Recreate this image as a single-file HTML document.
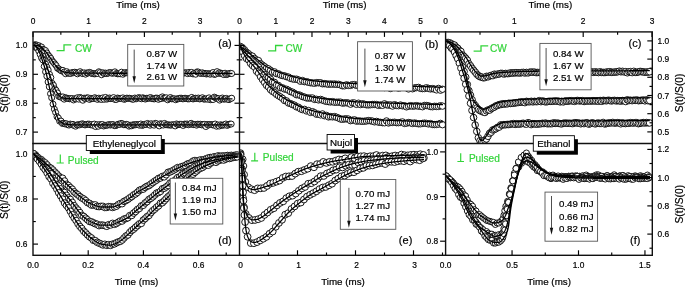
<!DOCTYPE html><html><head><meta charset="utf-8"><style>html,body{margin:0;padding:0;background:#fff;width:685px;height:287px;overflow:hidden}svg{display:block;filter:blur(0.35px)}</style></head><body><svg xmlns="http://www.w3.org/2000/svg" width="685" height="287" viewBox="0 0 685 287" font-family="Liberation Sans, sans-serif"><rect width="685" height="287" fill="#fff"/><defs><clipPath id="ca"><rect x="33.0" y="31.9" width="206.5" height="111.6"/></clipPath><clipPath id="cb"><rect x="239.5" y="31.9" width="206.10000000000002" height="111.6"/></clipPath><clipPath id="cc"><rect x="445.6" y="31.9" width="206.69999999999993" height="111.6"/></clipPath><clipPath id="cd"><rect x="33.0" y="143.5" width="206.5" height="111.80000000000001"/></clipPath><clipPath id="ce"><rect x="239.5" y="143.5" width="206.10000000000002" height="111.80000000000001"/></clipPath><clipPath id="cf"><rect x="445.6" y="143.5" width="206.69999999999993" height="111.80000000000001"/></clipPath></defs><g clip-path="url(#ca)" fill="#fff" stroke="#000" stroke-width="0.9"><circle cx="33.5" cy="45.52" r="3.0"/><circle cx="34.85" cy="44.77" r="3.0"/><circle cx="36.2" cy="44.83" r="3.0"/><circle cx="37.55" cy="46.71" r="3.0"/><circle cx="38.85" cy="45.71" r="3.0"/><circle cx="40.2" cy="46.97" r="3.0"/><circle cx="41.55" cy="47.01" r="3.0"/><circle cx="42.85" cy="49.29" r="3.0"/><circle cx="44.2" cy="49.79" r="3.0"/><circle cx="45.55" cy="50.62" r="3.0"/><circle cx="46.85" cy="52.95" r="3.0"/><circle cx="48.2" cy="55.11" r="3.0"/><circle cx="49.55" cy="56.68" r="3.0"/><circle cx="50.85" cy="58.44" r="3.0"/><circle cx="52.15" cy="60.9" r="3.0"/><circle cx="53.5" cy="62.39" r="3.0"/><circle cx="54.85" cy="63.98" r="3.0"/><circle cx="56.15" cy="65.6" r="3.0"/><circle cx="57.5" cy="68.23" r="3.0"/><circle cx="58.85" cy="68.86" r="3.0"/><circle cx="60.15" cy="70.08" r="3.0"/><circle cx="61.5" cy="70.9" r="3.0"/><circle cx="62.85" cy="70.38" r="3.0"/><circle cx="64.15" cy="72.03" r="3.0"/><circle cx="65.5" cy="73.71" r="3.0"/><circle cx="66.8" cy="71.68" r="3.0"/><circle cx="68.15" cy="73.12" r="3.0"/><circle cx="69.5" cy="73.34" r="3.0"/><circle cx="70.8" cy="73.43" r="3.0"/><circle cx="72.15" cy="72.53" r="3.0"/><circle cx="73.5" cy="72.69" r="3.0"/><circle cx="74.8" cy="72.2" r="3.0"/><circle cx="76.15" cy="72.9" r="3.0"/><circle cx="77.5" cy="73.85" r="3.0"/><circle cx="78.8" cy="72.51" r="3.0"/><circle cx="80.15" cy="71.68" r="3.0"/><circle cx="81.5" cy="73.02" r="3.0"/><circle cx="82.8" cy="73.58" r="3.0"/><circle cx="84.15" cy="72.84" r="3.0"/><circle cx="85.5" cy="74.18" r="3.0"/><circle cx="86.8" cy="72.91" r="3.0"/><circle cx="88.15" cy="73.04" r="3.0"/><circle cx="89.5" cy="72.36" r="3.0"/><circle cx="90.8" cy="72.83" r="3.0"/><circle cx="92.15" cy="73.61" r="3.0"/><circle cx="93.5" cy="73.63" r="3.0"/><circle cx="94.8" cy="73.9" r="3.0"/><circle cx="96.15" cy="73.58" r="3.0"/><circle cx="97.5" cy="73.42" r="3.0"/><circle cx="98.85" cy="71.76" r="3.0"/><circle cx="100.2" cy="72.56" r="3.0"/><circle cx="101.55" cy="74.76" r="3.0"/><circle cx="102.85" cy="72.76" r="3.0"/><circle cx="104.2" cy="73.55" r="3.0"/><circle cx="105.55" cy="73.06" r="3.0"/><circle cx="106.85" cy="73.57" r="3.0"/><circle cx="108.2" cy="73.16" r="3.0"/><circle cx="109.55" cy="72.48" r="3.0"/><circle cx="110.85" cy="72.62" r="3.0"/><circle cx="112.2" cy="73.36" r="3.0"/><circle cx="113.55" cy="72.81" r="3.0"/><circle cx="114.9" cy="71.83" r="3.0"/><circle cx="116.25" cy="73.49" r="3.0"/><circle cx="117.55" cy="73.83" r="3.0"/><circle cx="118.9" cy="73.77" r="3.0"/><circle cx="120.25" cy="73.79" r="3.0"/><circle cx="121.55" cy="72.17" r="3.0"/><circle cx="122.9" cy="74.25" r="3.0"/><circle cx="124.25" cy="73.06" r="3.0"/><circle cx="125.55" cy="72.57" r="3.0"/><circle cx="126.9" cy="72.87" r="3.0"/><circle cx="128.25" cy="72.7" r="3.0"/><circle cx="129.55" cy="72.36" r="3.0"/><circle cx="130.85" cy="73.15" r="3.0"/><circle cx="132.2" cy="73.27" r="3.0"/><circle cx="133.5" cy="73.04" r="3.0"/><circle cx="134.8" cy="73.27" r="3.0"/><circle cx="136.1" cy="73.06" r="3.0"/><circle cx="137.45" cy="72.71" r="3.0"/><circle cx="138.75" cy="72.8" r="3.0"/><circle cx="140.05" cy="73.51" r="3.0"/><circle cx="141.35" cy="72.26" r="3.0"/><circle cx="142.7" cy="72.84" r="3.0"/><circle cx="144" cy="73.8" r="3.0"/><circle cx="145.3" cy="73.34" r="3.0"/><circle cx="146.6" cy="73.61" r="3.0"/><circle cx="147.95" cy="73.19" r="3.0"/><circle cx="149.25" cy="72.45" r="3.0"/><circle cx="150.55" cy="72.95" r="3.0"/><circle cx="151.85" cy="73.28" r="3.0"/><circle cx="153.2" cy="72.95" r="3.0"/><circle cx="154.5" cy="73.1" r="3.0"/><circle cx="155.8" cy="73.33" r="3.0"/><circle cx="157.1" cy="73.8" r="3.0"/><circle cx="158.45" cy="72.93" r="3.0"/><circle cx="159.75" cy="73.99" r="3.0"/><circle cx="161.05" cy="73.23" r="3.0"/><circle cx="162.4" cy="73.88" r="3.0"/><circle cx="163.7" cy="73.98" r="3.0"/><circle cx="165.05" cy="74.4" r="3.0"/><circle cx="166.4" cy="73.95" r="3.0"/><circle cx="167.7" cy="73.96" r="3.0"/><circle cx="169.05" cy="74.39" r="3.0"/><circle cx="170.4" cy="72.17" r="3.0"/><circle cx="171.7" cy="72.65" r="3.0"/><circle cx="173.05" cy="73.95" r="3.0"/><circle cx="174.4" cy="71.89" r="3.0"/><circle cx="175.7" cy="73.4" r="3.0"/><circle cx="177.05" cy="73.4" r="3.0"/><circle cx="178.4" cy="72.32" r="3.0"/><circle cx="179.7" cy="72.7" r="3.0"/><circle cx="181.05" cy="73.74" r="3.0"/><circle cx="182.4" cy="73.67" r="3.0"/><circle cx="183.7" cy="72.93" r="3.0"/><circle cx="185.05" cy="72.77" r="3.0"/><circle cx="186.4" cy="72.85" r="3.0"/><circle cx="187.7" cy="73.64" r="3.0"/><circle cx="189.05" cy="72.43" r="3.0"/><circle cx="190.35" cy="73.34" r="3.0"/><circle cx="191.7" cy="72.39" r="3.0"/><circle cx="193.05" cy="73.93" r="3.0"/><circle cx="194.35" cy="73.47" r="3.0"/><circle cx="195.7" cy="74.23" r="3.0"/><circle cx="197.05" cy="71.88" r="3.0"/><circle cx="198.35" cy="72.05" r="3.0"/><circle cx="199.7" cy="73.06" r="3.0"/><circle cx="201.05" cy="73.46" r="3.0"/><circle cx="202.35" cy="72.78" r="3.0"/><circle cx="203.7" cy="73.55" r="3.0"/><circle cx="205.05" cy="73.4" r="3.0"/><circle cx="206.35" cy="74.01" r="3.0"/><circle cx="207.7" cy="73.6" r="3.0"/><circle cx="209.05" cy="73.81" r="3.0"/><circle cx="210.35" cy="74.22" r="3.0"/><circle cx="211.7" cy="73.36" r="3.0"/><circle cx="213.05" cy="72.53" r="3.0"/><circle cx="214.35" cy="74.48" r="3.0"/><circle cx="215.7" cy="74" r="3.0"/><circle cx="217.05" cy="71.63" r="3.0"/><circle cx="218.35" cy="73.42" r="3.0"/><circle cx="219.7" cy="72.71" r="3.0"/><circle cx="221.05" cy="73.35" r="3.0"/><circle cx="222.35" cy="73.71" r="3.0"/><circle cx="223.7" cy="74.55" r="3.0"/><circle cx="225.05" cy="73.21" r="3.0"/><circle cx="226.35" cy="74.58" r="3.0"/><circle cx="227.7" cy="74.12" r="3.0"/><circle cx="229.05" cy="73.56" r="3.0"/><circle cx="230.35" cy="73.31" r="3.0"/><circle cx="231.7" cy="73.53" r="3.0"/></g><g clip-path="url(#ca)" fill="#fff" stroke="#000" stroke-width="0.9"><circle cx="33.5" cy="45.78" r="3.0"/><circle cx="34.85" cy="45.43" r="3.0"/><circle cx="36.2" cy="47.67" r="3.0"/><circle cx="37.55" cy="47.65" r="3.0"/><circle cx="38.85" cy="48.15" r="3.0"/><circle cx="40.2" cy="51.3" r="3.0"/><circle cx="41.55" cy="52.72" r="3.0"/><circle cx="42.85" cy="56.16" r="3.0"/><circle cx="44.2" cy="59.83" r="3.0"/><circle cx="45.55" cy="64.08" r="3.0"/><circle cx="46.85" cy="67.1" r="3.0"/><circle cx="48.2" cy="70.01" r="3.0"/><circle cx="49.55" cy="74.35" r="3.0"/><circle cx="50.85" cy="77.55" r="3.0"/><circle cx="52.15" cy="83.3" r="3.0"/><circle cx="53.5" cy="85.32" r="3.0"/><circle cx="54.85" cy="88.89" r="3.0"/><circle cx="56.15" cy="90.45" r="3.0"/><circle cx="57.5" cy="92.93" r="3.0"/><circle cx="58.85" cy="96.42" r="3.0"/><circle cx="60.15" cy="96.92" r="3.0"/><circle cx="61.5" cy="97.27" r="3.0"/><circle cx="62.85" cy="96.89" r="3.0"/><circle cx="64.15" cy="99.18" r="3.0"/><circle cx="65.5" cy="97.73" r="3.0"/><circle cx="66.8" cy="98.19" r="3.0"/><circle cx="68.15" cy="98.46" r="3.0"/><circle cx="69.5" cy="98.82" r="3.0"/><circle cx="70.8" cy="98.6" r="3.0"/><circle cx="72.15" cy="98.58" r="3.0"/><circle cx="73.5" cy="99.96" r="3.0"/><circle cx="74.8" cy="98.69" r="3.0"/><circle cx="76.15" cy="98.93" r="3.0"/><circle cx="77.5" cy="97.68" r="3.0"/><circle cx="78.8" cy="99.17" r="3.0"/><circle cx="80.15" cy="97.48" r="3.0"/><circle cx="81.5" cy="98.21" r="3.0"/><circle cx="82.8" cy="100.26" r="3.0"/><circle cx="84.15" cy="98.14" r="3.0"/><circle cx="85.5" cy="98.65" r="3.0"/><circle cx="86.8" cy="97.89" r="3.0"/><circle cx="88.15" cy="97.89" r="3.0"/><circle cx="89.5" cy="99.44" r="3.0"/><circle cx="90.8" cy="98.37" r="3.0"/><circle cx="92.15" cy="98.61" r="3.0"/><circle cx="93.5" cy="98.47" r="3.0"/><circle cx="94.8" cy="97.7" r="3.0"/><circle cx="96.15" cy="98.58" r="3.0"/><circle cx="97.5" cy="99.42" r="3.0"/><circle cx="98.85" cy="98.17" r="3.0"/><circle cx="100.2" cy="99" r="3.0"/><circle cx="101.55" cy="99.45" r="3.0"/><circle cx="102.85" cy="97.88" r="3.0"/><circle cx="104.2" cy="99.3" r="3.0"/><circle cx="105.55" cy="97.41" r="3.0"/><circle cx="106.85" cy="99.16" r="3.0"/><circle cx="108.2" cy="98.47" r="3.0"/><circle cx="109.55" cy="97.96" r="3.0"/><circle cx="110.85" cy="98.62" r="3.0"/><circle cx="112.2" cy="98.3" r="3.0"/><circle cx="113.55" cy="97.58" r="3.0"/><circle cx="114.9" cy="99.44" r="3.0"/><circle cx="116.25" cy="99.51" r="3.0"/><circle cx="117.55" cy="98.03" r="3.0"/><circle cx="118.9" cy="98.44" r="3.0"/><circle cx="120.25" cy="98.39" r="3.0"/><circle cx="121.55" cy="98.56" r="3.0"/><circle cx="122.9" cy="97.87" r="3.0"/><circle cx="124.25" cy="99.39" r="3.0"/><circle cx="125.55" cy="98.78" r="3.0"/><circle cx="126.9" cy="98.1" r="3.0"/><circle cx="128.25" cy="98.42" r="3.0"/><circle cx="129.55" cy="98.24" r="3.0"/><circle cx="130.85" cy="98.63" r="3.0"/><circle cx="132.2" cy="99.2" r="3.0"/><circle cx="133.5" cy="99.22" r="3.0"/><circle cx="134.8" cy="98.04" r="3.0"/><circle cx="136.1" cy="98.83" r="3.0"/><circle cx="137.45" cy="98.17" r="3.0"/><circle cx="138.75" cy="97.6" r="3.0"/><circle cx="140.05" cy="98.05" r="3.0"/><circle cx="141.35" cy="98.77" r="3.0"/><circle cx="142.7" cy="97.74" r="3.0"/><circle cx="144" cy="98.29" r="3.0"/><circle cx="145.3" cy="99.08" r="3.0"/><circle cx="146.6" cy="98.31" r="3.0"/><circle cx="147.95" cy="98.29" r="3.0"/><circle cx="149.25" cy="98.14" r="3.0"/><circle cx="150.55" cy="97.54" r="3.0"/><circle cx="151.85" cy="98.6" r="3.0"/><circle cx="153.2" cy="98.81" r="3.0"/><circle cx="154.5" cy="98.86" r="3.0"/><circle cx="155.8" cy="98.1" r="3.0"/><circle cx="157.1" cy="98.13" r="3.0"/><circle cx="158.45" cy="99.36" r="3.0"/><circle cx="159.75" cy="98.16" r="3.0"/><circle cx="161.05" cy="98.59" r="3.0"/><circle cx="162.4" cy="96.87" r="3.0"/><circle cx="163.7" cy="98.09" r="3.0"/><circle cx="165.05" cy="98.09" r="3.0"/><circle cx="166.4" cy="97.79" r="3.0"/><circle cx="167.7" cy="99.82" r="3.0"/><circle cx="169.05" cy="98.57" r="3.0"/><circle cx="170.4" cy="97.53" r="3.0"/><circle cx="171.7" cy="98.83" r="3.0"/><circle cx="173.05" cy="98.79" r="3.0"/><circle cx="174.4" cy="98.81" r="3.0"/><circle cx="175.7" cy="99.76" r="3.0"/><circle cx="177.05" cy="98.77" r="3.0"/><circle cx="178.4" cy="98.82" r="3.0"/><circle cx="179.7" cy="98.34" r="3.0"/><circle cx="181.05" cy="98.14" r="3.0"/><circle cx="182.4" cy="98.79" r="3.0"/><circle cx="183.7" cy="98.74" r="3.0"/><circle cx="185.05" cy="98.21" r="3.0"/><circle cx="186.4" cy="98.49" r="3.0"/><circle cx="187.7" cy="98.87" r="3.0"/><circle cx="189.05" cy="98.92" r="3.0"/><circle cx="190.35" cy="98.44" r="3.0"/><circle cx="191.7" cy="97.42" r="3.0"/><circle cx="193.05" cy="98.98" r="3.0"/><circle cx="194.35" cy="98.58" r="3.0"/><circle cx="195.7" cy="98.2" r="3.0"/><circle cx="197.05" cy="98.49" r="3.0"/><circle cx="198.35" cy="98.04" r="3.0"/><circle cx="199.7" cy="98.98" r="3.0"/><circle cx="201.05" cy="98.58" r="3.0"/><circle cx="202.35" cy="97.72" r="3.0"/><circle cx="203.7" cy="99.06" r="3.0"/><circle cx="205.05" cy="99.16" r="3.0"/><circle cx="206.35" cy="98.71" r="3.0"/><circle cx="207.7" cy="99.19" r="3.0"/><circle cx="209.05" cy="97.83" r="3.0"/><circle cx="210.35" cy="99.71" r="3.0"/><circle cx="211.7" cy="99.06" r="3.0"/><circle cx="213.05" cy="99.55" r="3.0"/><circle cx="214.35" cy="97.12" r="3.0"/><circle cx="215.7" cy="97.85" r="3.0"/><circle cx="217.05" cy="98.45" r="3.0"/><circle cx="218.35" cy="98.64" r="3.0"/><circle cx="219.7" cy="100.12" r="3.0"/><circle cx="221.05" cy="98.82" r="3.0"/><circle cx="222.35" cy="98.01" r="3.0"/><circle cx="223.7" cy="99.2" r="3.0"/><circle cx="225.05" cy="98.98" r="3.0"/><circle cx="226.35" cy="98.36" r="3.0"/><circle cx="227.7" cy="99.41" r="3.0"/><circle cx="229.05" cy="99.65" r="3.0"/><circle cx="230.35" cy="98.68" r="3.0"/><circle cx="231.7" cy="98.2" r="3.0"/></g><g clip-path="url(#ca)" fill="#fff" stroke="#000" stroke-width="0.9"><circle cx="33.5" cy="45.77" r="3.0"/><circle cx="34.85" cy="46.14" r="3.0"/><circle cx="36.2" cy="46.79" r="3.0"/><circle cx="37.55" cy="48.4" r="3.0"/><circle cx="38.85" cy="51.11" r="3.0"/><circle cx="40.2" cy="54.48" r="3.0"/><circle cx="41.55" cy="57.97" r="3.0"/><circle cx="42.85" cy="59.9" r="3.0"/><circle cx="44.2" cy="66.4" r="3.0"/><circle cx="45.55" cy="71.87" r="3.0"/><circle cx="46.85" cy="76.18" r="3.0"/><circle cx="48.1" cy="81.99" r="3.0"/><circle cx="49.3" cy="86.85" r="3.0"/><circle cx="50.5" cy="93.74" r="3.0"/><circle cx="51.7" cy="97.82" r="3.0"/><circle cx="53" cy="104.15" r="3.0"/><circle cx="54.35" cy="109.2" r="3.0"/><circle cx="55.65" cy="112.47" r="3.0"/><circle cx="57" cy="116.74" r="3.0"/><circle cx="58.35" cy="118.01" r="3.0"/><circle cx="59.65" cy="121.19" r="3.0"/><circle cx="61" cy="121.05" r="3.0"/><circle cx="62.35" cy="123.41" r="3.0"/><circle cx="63.65" cy="123.38" r="3.0"/><circle cx="65" cy="123.93" r="3.0"/><circle cx="66.3" cy="123.66" r="3.0"/><circle cx="67.65" cy="124.61" r="3.0"/><circle cx="69" cy="125.08" r="3.0"/><circle cx="70.3" cy="124.07" r="3.0"/><circle cx="71.65" cy="124.53" r="3.0"/><circle cx="73" cy="124.36" r="3.0"/><circle cx="74.3" cy="125.65" r="3.0"/><circle cx="75.65" cy="126.2" r="3.0"/><circle cx="77" cy="124.95" r="3.0"/><circle cx="78.3" cy="124.71" r="3.0"/><circle cx="79.65" cy="124.88" r="3.0"/><circle cx="81" cy="124.22" r="3.0"/><circle cx="82.3" cy="123.79" r="3.0"/><circle cx="83.65" cy="124.27" r="3.0"/><circle cx="85" cy="124.95" r="3.0"/><circle cx="86.3" cy="124.57" r="3.0"/><circle cx="87.65" cy="124.18" r="3.0"/><circle cx="89" cy="124.08" r="3.0"/><circle cx="90.3" cy="124.78" r="3.0"/><circle cx="91.65" cy="124.55" r="3.0"/><circle cx="93" cy="125.29" r="3.0"/><circle cx="94.3" cy="124.07" r="3.0"/><circle cx="95.65" cy="126.57" r="3.0"/><circle cx="97" cy="124.72" r="3.0"/><circle cx="98.35" cy="126.24" r="3.0"/><circle cx="99.7" cy="124.54" r="3.0"/><circle cx="101.05" cy="125.15" r="3.0"/><circle cx="102.35" cy="124.44" r="3.0"/><circle cx="103.7" cy="126" r="3.0"/><circle cx="105.05" cy="125.28" r="3.0"/><circle cx="106.35" cy="125.25" r="3.0"/><circle cx="107.7" cy="125.1" r="3.0"/><circle cx="109.05" cy="124.56" r="3.0"/><circle cx="110.35" cy="125.06" r="3.0"/><circle cx="111.7" cy="124.57" r="3.0"/><circle cx="113.05" cy="124.56" r="3.0"/><circle cx="114.4" cy="125.65" r="3.0"/><circle cx="115.75" cy="125.58" r="3.0"/><circle cx="117.05" cy="124.82" r="3.0"/><circle cx="118.4" cy="124.17" r="3.0"/><circle cx="119.75" cy="124.45" r="3.0"/><circle cx="121.05" cy="123.4" r="3.0"/><circle cx="122.4" cy="123.74" r="3.0"/><circle cx="123.75" cy="124.72" r="3.0"/><circle cx="125.05" cy="124.75" r="3.0"/><circle cx="126.4" cy="124.37" r="3.0"/><circle cx="127.75" cy="124.78" r="3.0"/><circle cx="129.05" cy="126.19" r="3.0"/><circle cx="130.35" cy="125.29" r="3.0"/><circle cx="131.7" cy="125.81" r="3.0"/><circle cx="133" cy="124.75" r="3.0"/><circle cx="134.3" cy="124.86" r="3.0"/><circle cx="135.6" cy="124.74" r="3.0"/><circle cx="136.95" cy="124.54" r="3.0"/><circle cx="138.25" cy="124.75" r="3.0"/><circle cx="139.55" cy="125.17" r="3.0"/><circle cx="140.85" cy="124.02" r="3.0"/><circle cx="142.2" cy="125.44" r="3.0"/><circle cx="143.5" cy="124.89" r="3.0"/><circle cx="144.8" cy="124.33" r="3.0"/><circle cx="146.1" cy="124.44" r="3.0"/><circle cx="147.45" cy="123.43" r="3.0"/><circle cx="148.75" cy="124.43" r="3.0"/><circle cx="150.05" cy="125.22" r="3.0"/><circle cx="151.35" cy="123.7" r="3.0"/><circle cx="152.7" cy="124.59" r="3.0"/><circle cx="154" cy="125.18" r="3.0"/><circle cx="155.3" cy="123.35" r="3.0"/><circle cx="156.6" cy="123.75" r="3.0"/><circle cx="157.95" cy="125.06" r="3.0"/><circle cx="159.25" cy="125.91" r="3.0"/><circle cx="160.55" cy="123.73" r="3.0"/><circle cx="161.9" cy="124.16" r="3.0"/><circle cx="163.2" cy="125.1" r="3.0"/><circle cx="164.55" cy="123.42" r="3.0"/><circle cx="165.9" cy="124.72" r="3.0"/><circle cx="167.2" cy="124.87" r="3.0"/><circle cx="168.55" cy="124.83" r="3.0"/><circle cx="169.9" cy="125.1" r="3.0"/><circle cx="171.2" cy="125.09" r="3.0"/><circle cx="172.55" cy="124.68" r="3.0"/><circle cx="173.9" cy="124.95" r="3.0"/><circle cx="175.2" cy="125.94" r="3.0"/><circle cx="176.55" cy="123.95" r="3.0"/><circle cx="177.9" cy="124.6" r="3.0"/><circle cx="179.2" cy="124.3" r="3.0"/><circle cx="180.55" cy="124.35" r="3.0"/><circle cx="181.9" cy="124.29" r="3.0"/><circle cx="183.2" cy="125.49" r="3.0"/><circle cx="184.55" cy="124.09" r="3.0"/><circle cx="185.9" cy="124.21" r="3.0"/><circle cx="187.2" cy="124" r="3.0"/><circle cx="188.55" cy="124.78" r="3.0"/><circle cx="189.85" cy="124.13" r="3.0"/><circle cx="191.2" cy="123.33" r="3.0"/><circle cx="192.55" cy="124.51" r="3.0"/><circle cx="193.85" cy="124.67" r="3.0"/><circle cx="195.2" cy="124.48" r="3.0"/><circle cx="196.55" cy="125.19" r="3.0"/><circle cx="197.85" cy="124.18" r="3.0"/><circle cx="199.2" cy="124.39" r="3.0"/><circle cx="200.55" cy="124.24" r="3.0"/><circle cx="201.85" cy="124.95" r="3.0"/><circle cx="203.2" cy="124.46" r="3.0"/><circle cx="204.55" cy="124.38" r="3.0"/><circle cx="205.85" cy="126.54" r="3.0"/><circle cx="207.2" cy="124.45" r="3.0"/><circle cx="208.55" cy="125.03" r="3.0"/><circle cx="209.85" cy="124.46" r="3.0"/><circle cx="211.2" cy="124.6" r="3.0"/><circle cx="212.55" cy="124.88" r="3.0"/><circle cx="213.85" cy="125.02" r="3.0"/><circle cx="215.2" cy="124.03" r="3.0"/><circle cx="216.55" cy="126.27" r="3.0"/><circle cx="217.85" cy="124.98" r="3.0"/><circle cx="219.2" cy="126.05" r="3.0"/><circle cx="220.55" cy="124.72" r="3.0"/><circle cx="221.85" cy="125.32" r="3.0"/><circle cx="223.2" cy="125.02" r="3.0"/><circle cx="224.55" cy="124.88" r="3.0"/><circle cx="225.85" cy="124" r="3.0"/><circle cx="227.2" cy="125.41" r="3.0"/><circle cx="228.55" cy="124.63" r="3.0"/><circle cx="229.85" cy="124.05" r="3.0"/><circle cx="231.2" cy="124.06" r="3.0"/></g><g clip-path="url(#cb)" fill="#fff" stroke="#000" stroke-width="0.9"><circle cx="240.5" cy="47.23" r="3.2"/><circle cx="242.5" cy="47.84" r="3.2"/><circle cx="244.5" cy="49.8" r="3.2"/><circle cx="246.5" cy="52.2" r="3.2"/><circle cx="248.5" cy="53.68" r="3.2"/><circle cx="250.5" cy="55.48" r="3.2"/><circle cx="252.5" cy="56.14" r="3.2"/><circle cx="254.5" cy="58.39" r="3.2"/><circle cx="256.5" cy="59.96" r="3.2"/><circle cx="258.5" cy="60.57" r="3.2"/><circle cx="260.5" cy="63.66" r="3.2"/><circle cx="262.5" cy="65.14" r="3.2"/><circle cx="264.5" cy="66.56" r="3.2"/><circle cx="266.5" cy="68.14" r="3.2"/><circle cx="268.5" cy="68.84" r="3.2"/><circle cx="270.5" cy="70.3" r="3.2"/><circle cx="272.5" cy="72.16" r="3.2"/><circle cx="274.5" cy="71.84" r="3.2"/><circle cx="276.5" cy="73.63" r="3.2"/><circle cx="278.5" cy="73.78" r="3.2"/><circle cx="280.5" cy="75.02" r="3.2"/><circle cx="282.5" cy="75.56" r="3.2"/><circle cx="284.5" cy="75.82" r="3.2"/><circle cx="286.5" cy="76.73" r="3.2"/><circle cx="288.5" cy="77.06" r="3.2"/><circle cx="290.5" cy="78.39" r="3.2"/><circle cx="292.5" cy="78.85" r="3.2"/><circle cx="294.5" cy="79.26" r="3.2"/><circle cx="296.5" cy="79.16" r="3.2"/><circle cx="298.5" cy="79.9" r="3.2"/><circle cx="300.5" cy="81.28" r="3.2"/><circle cx="302.5" cy="80.51" r="3.2"/><circle cx="304.5" cy="81.69" r="3.2"/><circle cx="306.5" cy="81.66" r="3.2"/><circle cx="308.5" cy="82.32" r="3.2"/><circle cx="310.5" cy="82.79" r="3.2"/><circle cx="312.5" cy="82.89" r="3.2"/><circle cx="314.5" cy="83.28" r="3.2"/><circle cx="316.5" cy="82.65" r="3.2"/><circle cx="318.5" cy="82.83" r="3.2"/><circle cx="320.5" cy="82.71" r="3.2"/><circle cx="322.5" cy="83.79" r="3.2"/><circle cx="324.5" cy="83.65" r="3.2"/><circle cx="326.5" cy="83.87" r="3.2"/><circle cx="328.5" cy="84.25" r="3.2"/><circle cx="330.5" cy="83.98" r="3.2"/><circle cx="332.5" cy="84.2" r="3.2"/><circle cx="334.5" cy="84" r="3.2"/><circle cx="336.5" cy="84.35" r="3.2"/><circle cx="338.5" cy="84.28" r="3.2"/><circle cx="340.5" cy="84.95" r="3.2"/><circle cx="342.5" cy="85.81" r="3.2"/><circle cx="344.5" cy="85.81" r="3.2"/><circle cx="346.5" cy="84.83" r="3.2"/><circle cx="348.5" cy="85.44" r="3.2"/><circle cx="350.5" cy="85.38" r="3.2"/><circle cx="352.5" cy="84.65" r="3.2"/><circle cx="354.5" cy="84.57" r="3.2"/><circle cx="356.5" cy="85.35" r="3.2"/><circle cx="358.5" cy="85.69" r="3.2"/><circle cx="360.5" cy="85.25" r="3.2"/><circle cx="362.5" cy="85.53" r="3.2"/><circle cx="364.5" cy="85.68" r="3.2"/><circle cx="366.5" cy="85.75" r="3.2"/><circle cx="368.5" cy="85.71" r="3.2"/><circle cx="370.5" cy="86.29" r="3.2"/><circle cx="372.5" cy="86.79" r="3.2"/><circle cx="374.5" cy="86.73" r="3.2"/><circle cx="376.5" cy="86.3" r="3.2"/><circle cx="378.5" cy="86.73" r="3.2"/><circle cx="380.5" cy="86.92" r="3.2"/><circle cx="382.5" cy="86.15" r="3.2"/><circle cx="384.5" cy="87.53" r="3.2"/><circle cx="386.5" cy="86.87" r="3.2"/><circle cx="388.5" cy="86.7" r="3.2"/><circle cx="390.5" cy="88.51" r="3.2"/><circle cx="392.5" cy="87" r="3.2"/><circle cx="394.5" cy="87.4" r="3.2"/><circle cx="396.5" cy="87.29" r="3.2"/><circle cx="398.5" cy="88.14" r="3.2"/><circle cx="400.5" cy="87.65" r="3.2"/><circle cx="402.5" cy="87.2" r="3.2"/><circle cx="404.5" cy="86.97" r="3.2"/><circle cx="406.5" cy="87.76" r="3.2"/><circle cx="408.5" cy="88.96" r="3.2"/><circle cx="410.5" cy="87.67" r="3.2"/><circle cx="412.5" cy="88.78" r="3.2"/><circle cx="414.5" cy="87.9" r="3.2"/><circle cx="416.5" cy="87.67" r="3.2"/><circle cx="418.5" cy="87.38" r="3.2"/><circle cx="420.5" cy="88.4" r="3.2"/><circle cx="422.5" cy="88.66" r="3.2"/><circle cx="424.5" cy="88.56" r="3.2"/><circle cx="426.5" cy="87.75" r="3.2"/><circle cx="428.5" cy="88.45" r="3.2"/><circle cx="430.5" cy="88.93" r="3.2"/><circle cx="432.5" cy="88.6" r="3.2"/><circle cx="434.5" cy="89.1" r="3.2"/><circle cx="436.5" cy="89.91" r="3.2"/><circle cx="438.5" cy="88.39" r="3.2"/><circle cx="440.5" cy="90.22" r="3.2"/><circle cx="442.5" cy="89.24" r="3.2"/></g><g clip-path="url(#cb)" fill="#fff" stroke="#000" stroke-width="0.9"><circle cx="240.5" cy="46.44" r="3.2"/><circle cx="242.5" cy="49.22" r="3.2"/><circle cx="244.5" cy="51.99" r="3.2"/><circle cx="246.5" cy="54.15" r="3.2"/><circle cx="248.5" cy="56.58" r="3.2"/><circle cx="250.5" cy="59.49" r="3.2"/><circle cx="252.5" cy="61.18" r="3.2"/><circle cx="254.5" cy="62.97" r="3.2"/><circle cx="256.5" cy="64.98" r="3.2"/><circle cx="258.5" cy="66.96" r="3.2"/><circle cx="260.5" cy="69.86" r="3.2"/><circle cx="262.5" cy="71.99" r="3.2"/><circle cx="264.5" cy="74.54" r="3.2"/><circle cx="266.5" cy="77.04" r="3.2"/><circle cx="268.5" cy="77.31" r="3.2"/><circle cx="270.5" cy="79.12" r="3.2"/><circle cx="272.5" cy="82.06" r="3.2"/><circle cx="274.5" cy="82.35" r="3.2"/><circle cx="276.5" cy="85.05" r="3.2"/><circle cx="278.5" cy="85.47" r="3.2"/><circle cx="280.5" cy="87.73" r="3.2"/><circle cx="282.5" cy="87.79" r="3.2"/><circle cx="284.5" cy="89.04" r="3.2"/><circle cx="286.5" cy="89.27" r="3.2"/><circle cx="288.5" cy="90.27" r="3.2"/><circle cx="290.5" cy="91.65" r="3.2"/><circle cx="292.5" cy="92.12" r="3.2"/><circle cx="294.5" cy="93.33" r="3.2"/><circle cx="296.5" cy="94.76" r="3.2"/><circle cx="298.5" cy="94.77" r="3.2"/><circle cx="300.5" cy="95.5" r="3.2"/><circle cx="302.5" cy="96.63" r="3.2"/><circle cx="304.5" cy="97.02" r="3.2"/><circle cx="306.5" cy="97.93" r="3.2"/><circle cx="308.5" cy="98.05" r="3.2"/><circle cx="310.5" cy="98.06" r="3.2"/><circle cx="312.5" cy="97.98" r="3.2"/><circle cx="314.5" cy="99.41" r="3.2"/><circle cx="316.5" cy="99.28" r="3.2"/><circle cx="318.5" cy="99.95" r="3.2"/><circle cx="320.5" cy="99.39" r="3.2"/><circle cx="322.5" cy="100.12" r="3.2"/><circle cx="324.5" cy="100.86" r="3.2"/><circle cx="326.5" cy="101.4" r="3.2"/><circle cx="328.5" cy="101.65" r="3.2"/><circle cx="330.5" cy="101.97" r="3.2"/><circle cx="332.5" cy="101.61" r="3.2"/><circle cx="334.5" cy="102.27" r="3.2"/><circle cx="336.5" cy="102.2" r="3.2"/><circle cx="338.5" cy="102.15" r="3.2"/><circle cx="340.5" cy="102.12" r="3.2"/><circle cx="342.5" cy="103.12" r="3.2"/><circle cx="344.5" cy="102.87" r="3.2"/><circle cx="346.5" cy="102.71" r="3.2"/><circle cx="348.5" cy="103.14" r="3.2"/><circle cx="350.5" cy="104.2" r="3.2"/><circle cx="352.5" cy="102.87" r="3.2"/><circle cx="354.5" cy="103.02" r="3.2"/><circle cx="356.5" cy="104.37" r="3.2"/><circle cx="358.5" cy="103.2" r="3.2"/><circle cx="360.5" cy="104.56" r="3.2"/><circle cx="362.5" cy="103.78" r="3.2"/><circle cx="364.5" cy="104.3" r="3.2"/><circle cx="366.5" cy="104.8" r="3.2"/><circle cx="368.5" cy="104.88" r="3.2"/><circle cx="370.5" cy="104.73" r="3.2"/><circle cx="372.5" cy="104.45" r="3.2"/><circle cx="374.5" cy="104.41" r="3.2"/><circle cx="376.5" cy="104.49" r="3.2"/><circle cx="378.5" cy="105.37" r="3.2"/><circle cx="380.5" cy="104.89" r="3.2"/><circle cx="382.5" cy="105.33" r="3.2"/><circle cx="384.5" cy="103.81" r="3.2"/><circle cx="386.5" cy="104.78" r="3.2"/><circle cx="388.5" cy="105.14" r="3.2"/><circle cx="390.5" cy="104.89" r="3.2"/><circle cx="392.5" cy="106.08" r="3.2"/><circle cx="394.5" cy="104.68" r="3.2"/><circle cx="396.5" cy="105.48" r="3.2"/><circle cx="398.5" cy="105.71" r="3.2"/><circle cx="400.5" cy="105" r="3.2"/><circle cx="402.5" cy="105.82" r="3.2"/><circle cx="404.5" cy="105.69" r="3.2"/><circle cx="406.5" cy="106.87" r="3.2"/><circle cx="408.5" cy="106.28" r="3.2"/><circle cx="410.5" cy="105.66" r="3.2"/><circle cx="412.5" cy="106.18" r="3.2"/><circle cx="414.5" cy="105.98" r="3.2"/><circle cx="416.5" cy="105.65" r="3.2"/><circle cx="418.5" cy="106.21" r="3.2"/><circle cx="420.5" cy="106.19" r="3.2"/><circle cx="422.5" cy="106.74" r="3.2"/><circle cx="424.5" cy="105.44" r="3.2"/><circle cx="426.5" cy="105.52" r="3.2"/><circle cx="428.5" cy="105.83" r="3.2"/><circle cx="430.5" cy="106.53" r="3.2"/><circle cx="432.5" cy="106.77" r="3.2"/><circle cx="434.5" cy="106.27" r="3.2"/><circle cx="436.5" cy="106.49" r="3.2"/><circle cx="438.5" cy="106.44" r="3.2"/><circle cx="440.5" cy="105.74" r="3.2"/><circle cx="442.5" cy="106.14" r="3.2"/></g><g clip-path="url(#cb)" fill="#fff" stroke="#000" stroke-width="0.9"><circle cx="240.5" cy="47.71" r="3.2"/><circle cx="242.5" cy="51.78" r="3.2"/><circle cx="244.5" cy="55.71" r="3.2"/><circle cx="246.5" cy="58.72" r="3.2"/><circle cx="248.5" cy="59.92" r="3.2"/><circle cx="250.5" cy="63.47" r="3.2"/><circle cx="252.5" cy="65.67" r="3.2"/><circle cx="254.5" cy="67.2" r="3.2"/><circle cx="256.5" cy="71.29" r="3.2"/><circle cx="258.5" cy="73.26" r="3.2"/><circle cx="260.5" cy="76.77" r="3.2"/><circle cx="262.5" cy="79.7" r="3.2"/><circle cx="264.5" cy="82.49" r="3.2"/><circle cx="266.5" cy="85.45" r="3.2"/><circle cx="268.5" cy="87.05" r="3.2"/><circle cx="270.5" cy="89.7" r="3.2"/><circle cx="272.5" cy="91.49" r="3.2"/><circle cx="274.5" cy="92.53" r="3.2"/><circle cx="276.5" cy="94.47" r="3.2"/><circle cx="278.5" cy="95.77" r="3.2"/><circle cx="280.5" cy="96.94" r="3.2"/><circle cx="282.5" cy="98.37" r="3.2"/><circle cx="284.5" cy="100.54" r="3.2"/><circle cx="286.5" cy="100.86" r="3.2"/><circle cx="288.5" cy="103.06" r="3.2"/><circle cx="290.5" cy="103.58" r="3.2"/><circle cx="292.5" cy="104.61" r="3.2"/><circle cx="294.5" cy="105.19" r="3.2"/><circle cx="296.5" cy="106.9" r="3.2"/><circle cx="298.5" cy="107.26" r="3.2"/><circle cx="300.5" cy="108.85" r="3.2"/><circle cx="302.5" cy="109.69" r="3.2"/><circle cx="304.5" cy="109.35" r="3.2"/><circle cx="306.5" cy="111.03" r="3.2"/><circle cx="308.5" cy="110.52" r="3.2"/><circle cx="310.5" cy="112.42" r="3.2"/><circle cx="312.5" cy="111.66" r="3.2"/><circle cx="314.5" cy="112.67" r="3.2"/><circle cx="316.5" cy="114.23" r="3.2"/><circle cx="318.5" cy="114.21" r="3.2"/><circle cx="320.5" cy="114.88" r="3.2"/><circle cx="322.5" cy="113.9" r="3.2"/><circle cx="324.5" cy="115.76" r="3.2"/><circle cx="326.5" cy="115.43" r="3.2"/><circle cx="328.5" cy="116.94" r="3.2"/><circle cx="330.5" cy="116.58" r="3.2"/><circle cx="332.5" cy="116.88" r="3.2"/><circle cx="334.5" cy="116.57" r="3.2"/><circle cx="336.5" cy="117.26" r="3.2"/><circle cx="338.5" cy="118.02" r="3.2"/><circle cx="340.5" cy="119.01" r="3.2"/><circle cx="342.5" cy="119.31" r="3.2"/><circle cx="344.5" cy="118.94" r="3.2"/><circle cx="346.5" cy="118.84" r="3.2"/><circle cx="348.5" cy="119.09" r="3.2"/><circle cx="350.5" cy="120.68" r="3.2"/><circle cx="352.5" cy="120.27" r="3.2"/><circle cx="354.5" cy="119.84" r="3.2"/><circle cx="356.5" cy="121.17" r="3.2"/><circle cx="358.5" cy="120.89" r="3.2"/><circle cx="360.5" cy="121.13" r="3.2"/><circle cx="362.5" cy="121.31" r="3.2"/><circle cx="364.5" cy="121.21" r="3.2"/><circle cx="366.5" cy="120.95" r="3.2"/><circle cx="368.5" cy="120.55" r="3.2"/><circle cx="370.5" cy="120.8" r="3.2"/><circle cx="372.5" cy="121.12" r="3.2"/><circle cx="374.5" cy="121.86" r="3.2"/><circle cx="376.5" cy="121.38" r="3.2"/><circle cx="378.5" cy="122.18" r="3.2"/><circle cx="380.5" cy="122.32" r="3.2"/><circle cx="382.5" cy="122.68" r="3.2"/><circle cx="384.5" cy="122.78" r="3.2"/><circle cx="386.5" cy="120.94" r="3.2"/><circle cx="388.5" cy="122.98" r="3.2"/><circle cx="390.5" cy="122.42" r="3.2"/><circle cx="392.5" cy="122.47" r="3.2"/><circle cx="394.5" cy="122.19" r="3.2"/><circle cx="396.5" cy="122.67" r="3.2"/><circle cx="398.5" cy="122.68" r="3.2"/><circle cx="400.5" cy="122.4" r="3.2"/><circle cx="402.5" cy="121.93" r="3.2"/><circle cx="404.5" cy="123.46" r="3.2"/><circle cx="406.5" cy="123.17" r="3.2"/><circle cx="408.5" cy="122.53" r="3.2"/><circle cx="410.5" cy="122.84" r="3.2"/><circle cx="412.5" cy="123.48" r="3.2"/><circle cx="414.5" cy="122.95" r="3.2"/><circle cx="416.5" cy="123.4" r="3.2"/><circle cx="418.5" cy="123.8" r="3.2"/><circle cx="420.5" cy="123.78" r="3.2"/><circle cx="422.5" cy="123.38" r="3.2"/><circle cx="424.5" cy="123.11" r="3.2"/><circle cx="426.5" cy="123.39" r="3.2"/><circle cx="428.5" cy="123.96" r="3.2"/><circle cx="430.5" cy="123.59" r="3.2"/><circle cx="432.5" cy="124.47" r="3.2"/><circle cx="434.5" cy="124.59" r="3.2"/><circle cx="436.5" cy="124.5" r="3.2"/><circle cx="438.5" cy="124.19" r="3.2"/><circle cx="440.5" cy="123.36" r="3.2"/><circle cx="442.5" cy="124.72" r="3.2"/></g><g clip-path="url(#cc)" fill="#fff" stroke="#000" stroke-width="0.9"><circle cx="446.5" cy="42.69" r="3.3"/><circle cx="448.1" cy="42.45" r="3.3"/><circle cx="449.7" cy="42.88" r="3.3"/><circle cx="451.3" cy="43.67" r="3.3"/><circle cx="452.9" cy="44.76" r="3.3"/><circle cx="454.5" cy="45.09" r="3.3"/><circle cx="456.1" cy="47.19" r="3.3"/><circle cx="457.7" cy="48.23" r="3.3"/><circle cx="459.3" cy="50.37" r="3.3"/><circle cx="460.9" cy="51.43" r="3.3"/><circle cx="462.5" cy="55.03" r="3.3"/><circle cx="464.1" cy="56.45" r="3.3"/><circle cx="465.7" cy="58.28" r="3.3"/><circle cx="467.31" cy="60.23" r="3.3"/><circle cx="468.91" cy="63.8" r="3.3"/><circle cx="470.51" cy="65.85" r="3.3"/><circle cx="472.11" cy="68.31" r="3.3"/><circle cx="473.71" cy="70.32" r="3.3"/><circle cx="475.31" cy="72.23" r="3.3"/><circle cx="476.91" cy="74.35" r="3.3"/><circle cx="478.51" cy="75.75" r="3.3"/><circle cx="480.11" cy="76.8" r="3.3"/><circle cx="481.71" cy="77" r="3.3"/><circle cx="483.31" cy="77.8" r="3.3"/><circle cx="484.91" cy="77.58" r="3.3"/><circle cx="486.51" cy="76.37" r="3.3"/><circle cx="488.11" cy="76.8" r="3.3"/><circle cx="489.71" cy="75.93" r="3.3"/><circle cx="491.31" cy="75.37" r="3.3"/><circle cx="492.91" cy="75.62" r="3.3"/><circle cx="494.51" cy="74.18" r="3.3"/><circle cx="496.11" cy="74.62" r="3.3"/><circle cx="497.71" cy="74.1" r="3.3"/><circle cx="499.31" cy="73.98" r="3.3"/><circle cx="500.91" cy="73.35" r="3.3"/><circle cx="502.51" cy="73.51" r="3.3"/><circle cx="504.11" cy="74" r="3.3"/><circle cx="505.71" cy="73.46" r="3.3"/><circle cx="507.31" cy="73.6" r="3.3"/><circle cx="508.92" cy="73.53" r="3.3"/><circle cx="510.52" cy="72.87" r="3.3"/><circle cx="512.12" cy="73.04" r="3.3"/><circle cx="513.72" cy="72.96" r="3.3"/><circle cx="515.32" cy="72.78" r="3.3"/><circle cx="516.92" cy="72.74" r="3.3"/><circle cx="518.52" cy="72.84" r="3.3"/><circle cx="520.12" cy="72.97" r="3.3"/><circle cx="521.72" cy="72.61" r="3.3"/><circle cx="523.32" cy="72.39" r="3.3"/><circle cx="524.92" cy="72.98" r="3.3"/><circle cx="526.52" cy="72.45" r="3.3"/><circle cx="528.12" cy="72.9" r="3.3"/><circle cx="529.72" cy="72.21" r="3.3"/><circle cx="531.32" cy="72.1" r="3.3"/><circle cx="532.92" cy="72.17" r="3.3"/><circle cx="534.52" cy="72.13" r="3.3"/><circle cx="536.12" cy="72.58" r="3.3"/><circle cx="537.72" cy="72.47" r="3.3"/><circle cx="539.32" cy="72.52" r="3.3"/><circle cx="540.92" cy="72.37" r="3.3"/><circle cx="542.52" cy="72.48" r="3.3"/><circle cx="544.12" cy="72.07" r="3.3"/><circle cx="545.72" cy="72.75" r="3.3"/><circle cx="547.32" cy="72.41" r="3.3"/><circle cx="548.93" cy="72.04" r="3.3"/><circle cx="550.53" cy="73.08" r="3.3"/><circle cx="552.13" cy="72.12" r="3.3"/><circle cx="553.73" cy="72.24" r="3.3"/><circle cx="555.33" cy="72.36" r="3.3"/><circle cx="556.93" cy="72.36" r="3.3"/><circle cx="558.53" cy="72.37" r="3.3"/><circle cx="560.13" cy="71.76" r="3.3"/><circle cx="561.73" cy="72.23" r="3.3"/><circle cx="563.33" cy="71.49" r="3.3"/><circle cx="564.93" cy="72.11" r="3.3"/><circle cx="566.53" cy="72.14" r="3.3"/><circle cx="568.13" cy="72.37" r="3.3"/><circle cx="569.73" cy="71.89" r="3.3"/><circle cx="571.33" cy="72.26" r="3.3"/><circle cx="572.93" cy="72.01" r="3.3"/><circle cx="574.53" cy="72.18" r="3.3"/><circle cx="576.13" cy="71.82" r="3.3"/><circle cx="577.73" cy="72.48" r="3.3"/><circle cx="579.33" cy="72.46" r="3.3"/><circle cx="580.93" cy="71.57" r="3.3"/><circle cx="582.53" cy="72.03" r="3.3"/><circle cx="584.13" cy="71.98" r="3.3"/><circle cx="585.73" cy="71.41" r="3.3"/><circle cx="587.33" cy="71.66" r="3.3"/><circle cx="588.94" cy="72" r="3.3"/><circle cx="590.54" cy="71.66" r="3.3"/><circle cx="592.14" cy="72.13" r="3.3"/><circle cx="593.74" cy="72.32" r="3.3"/><circle cx="595.34" cy="71.84" r="3.3"/><circle cx="596.94" cy="72.27" r="3.3"/><circle cx="598.54" cy="72.54" r="3.3"/><circle cx="600.14" cy="71.83" r="3.3"/><circle cx="601.74" cy="72.45" r="3.3"/><circle cx="603.34" cy="72.45" r="3.3"/><circle cx="604.94" cy="72.51" r="3.3"/><circle cx="606.54" cy="72.04" r="3.3"/><circle cx="608.14" cy="72.12" r="3.3"/><circle cx="609.74" cy="71.73" r="3.3"/><circle cx="611.34" cy="72.32" r="3.3"/><circle cx="612.94" cy="72.27" r="3.3"/><circle cx="614.54" cy="72.13" r="3.3"/><circle cx="616.14" cy="71.99" r="3.3"/><circle cx="617.74" cy="71.76" r="3.3"/><circle cx="619.34" cy="71.18" r="3.3"/><circle cx="620.94" cy="71.78" r="3.3"/><circle cx="622.54" cy="71.36" r="3.3"/><circle cx="624.14" cy="71.91" r="3.3"/><circle cx="625.74" cy="71.67" r="3.3"/><circle cx="627.34" cy="72.77" r="3.3"/><circle cx="628.94" cy="71.73" r="3.3"/><circle cx="630.55" cy="71.62" r="3.3"/><circle cx="632.15" cy="72.57" r="3.3"/><circle cx="633.75" cy="71.36" r="3.3"/><circle cx="635.35" cy="72.34" r="3.3"/><circle cx="636.95" cy="72.35" r="3.3"/><circle cx="638.55" cy="71.89" r="3.3"/><circle cx="640.15" cy="71.44" r="3.3"/><circle cx="641.75" cy="71.7" r="3.3"/><circle cx="643.35" cy="71.95" r="3.3"/><circle cx="644.95" cy="72.2" r="3.3"/><circle cx="646.55" cy="72.09" r="3.3"/><circle cx="648.15" cy="72.04" r="3.3"/><circle cx="649.75" cy="71.73" r="3.3"/></g><g clip-path="url(#cc)" fill="#fff" stroke="#000" stroke-width="0.9"><circle cx="446.5" cy="44.32" r="3.3"/><circle cx="448.1" cy="44.41" r="3.3"/><circle cx="449.7" cy="45.61" r="3.3"/><circle cx="451.3" cy="47.22" r="3.3"/><circle cx="452.9" cy="49.06" r="3.3"/><circle cx="454.5" cy="50.88" r="3.3"/><circle cx="456.1" cy="53.17" r="3.3"/><circle cx="457.7" cy="55.72" r="3.3"/><circle cx="459.3" cy="59.67" r="3.3"/><circle cx="460.9" cy="62.33" r="3.3"/><circle cx="462.5" cy="67" r="3.3"/><circle cx="464.1" cy="71.52" r="3.3"/><circle cx="465.7" cy="77.18" r="3.3"/><circle cx="467.31" cy="84.47" r="3.3"/><circle cx="468.91" cy="90.61" r="3.3"/><circle cx="470.51" cy="95.21" r="3.3"/><circle cx="472.11" cy="99.81" r="3.3"/><circle cx="473.71" cy="103.71" r="3.3"/><circle cx="475.31" cy="105.6" r="3.3"/><circle cx="476.91" cy="107.97" r="3.3"/><circle cx="478.51" cy="109.45" r="3.3"/><circle cx="480.11" cy="110.7" r="3.3"/><circle cx="481.71" cy="111.23" r="3.3"/><circle cx="483.31" cy="112.01" r="3.3"/><circle cx="484.91" cy="112.47" r="3.3"/><circle cx="486.51" cy="110.82" r="3.3"/><circle cx="488.11" cy="109.94" r="3.3"/><circle cx="489.71" cy="110.03" r="3.3"/><circle cx="491.31" cy="108.53" r="3.3"/><circle cx="492.91" cy="107.75" r="3.3"/><circle cx="494.51" cy="106.96" r="3.3"/><circle cx="496.11" cy="105.8" r="3.3"/><circle cx="497.71" cy="105.33" r="3.3"/><circle cx="499.31" cy="104.55" r="3.3"/><circle cx="500.91" cy="104.53" r="3.3"/><circle cx="502.51" cy="103.77" r="3.3"/><circle cx="504.11" cy="104.09" r="3.3"/><circle cx="505.71" cy="103.74" r="3.3"/><circle cx="507.31" cy="103.87" r="3.3"/><circle cx="508.92" cy="103.21" r="3.3"/><circle cx="510.52" cy="103.49" r="3.3"/><circle cx="512.12" cy="103.35" r="3.3"/><circle cx="513.72" cy="103.2" r="3.3"/><circle cx="515.32" cy="102.88" r="3.3"/><circle cx="516.92" cy="102.62" r="3.3"/><circle cx="518.52" cy="102.42" r="3.3"/><circle cx="520.12" cy="102.03" r="3.3"/><circle cx="521.72" cy="102.06" r="3.3"/><circle cx="523.32" cy="101.96" r="3.3"/><circle cx="524.92" cy="102.61" r="3.3"/><circle cx="526.52" cy="101.37" r="3.3"/><circle cx="528.12" cy="101.65" r="3.3"/><circle cx="529.72" cy="101.78" r="3.3"/><circle cx="531.32" cy="101.32" r="3.3"/><circle cx="532.92" cy="101.86" r="3.3"/><circle cx="534.52" cy="101.35" r="3.3"/><circle cx="536.12" cy="101.66" r="3.3"/><circle cx="537.72" cy="101.52" r="3.3"/><circle cx="539.32" cy="100.68" r="3.3"/><circle cx="540.92" cy="101.65" r="3.3"/><circle cx="542.52" cy="100.96" r="3.3"/><circle cx="544.12" cy="101.49" r="3.3"/><circle cx="545.72" cy="101.87" r="3.3"/><circle cx="547.32" cy="101.63" r="3.3"/><circle cx="548.93" cy="101.3" r="3.3"/><circle cx="550.53" cy="101.29" r="3.3"/><circle cx="552.13" cy="101.31" r="3.3"/><circle cx="553.73" cy="101.15" r="3.3"/><circle cx="555.33" cy="100.91" r="3.3"/><circle cx="556.93" cy="101.19" r="3.3"/><circle cx="558.53" cy="101.14" r="3.3"/><circle cx="560.13" cy="101.87" r="3.3"/><circle cx="561.73" cy="101.31" r="3.3"/><circle cx="563.33" cy="101.9" r="3.3"/><circle cx="564.93" cy="101.08" r="3.3"/><circle cx="566.53" cy="101.2" r="3.3"/><circle cx="568.13" cy="101.07" r="3.3"/><circle cx="569.73" cy="100.76" r="3.3"/><circle cx="571.33" cy="100.7" r="3.3"/><circle cx="572.93" cy="100.92" r="3.3"/><circle cx="574.53" cy="101.34" r="3.3"/><circle cx="576.13" cy="100.62" r="3.3"/><circle cx="577.73" cy="100.5" r="3.3"/><circle cx="579.33" cy="100.94" r="3.3"/><circle cx="580.93" cy="100.72" r="3.3"/><circle cx="582.53" cy="100.69" r="3.3"/><circle cx="584.13" cy="101.47" r="3.3"/><circle cx="585.73" cy="100.88" r="3.3"/><circle cx="587.33" cy="101.08" r="3.3"/><circle cx="588.94" cy="100.85" r="3.3"/><circle cx="590.54" cy="101.13" r="3.3"/><circle cx="592.14" cy="100.81" r="3.3"/><circle cx="593.74" cy="100.77" r="3.3"/><circle cx="595.34" cy="101.05" r="3.3"/><circle cx="596.94" cy="100.77" r="3.3"/><circle cx="598.54" cy="101.24" r="3.3"/><circle cx="600.14" cy="100.53" r="3.3"/><circle cx="601.74" cy="101.28" r="3.3"/><circle cx="603.34" cy="100.36" r="3.3"/><circle cx="604.94" cy="100.58" r="3.3"/><circle cx="606.54" cy="100.75" r="3.3"/><circle cx="608.14" cy="100.3" r="3.3"/><circle cx="609.74" cy="100.47" r="3.3"/><circle cx="611.34" cy="100.92" r="3.3"/><circle cx="612.94" cy="100.56" r="3.3"/><circle cx="614.54" cy="100.38" r="3.3"/><circle cx="616.14" cy="100.88" r="3.3"/><circle cx="617.74" cy="100.64" r="3.3"/><circle cx="619.34" cy="100.8" r="3.3"/><circle cx="620.94" cy="101.09" r="3.3"/><circle cx="622.54" cy="100.57" r="3.3"/><circle cx="624.14" cy="100.68" r="3.3"/><circle cx="625.74" cy="101.52" r="3.3"/><circle cx="627.34" cy="99.83" r="3.3"/><circle cx="628.94" cy="100.59" r="3.3"/><circle cx="630.55" cy="100.24" r="3.3"/><circle cx="632.15" cy="100.65" r="3.3"/><circle cx="633.75" cy="100.2" r="3.3"/><circle cx="635.35" cy="100.32" r="3.3"/><circle cx="636.95" cy="100.01" r="3.3"/><circle cx="638.55" cy="100.71" r="3.3"/><circle cx="640.15" cy="100.45" r="3.3"/><circle cx="641.75" cy="100.33" r="3.3"/><circle cx="643.35" cy="100.06" r="3.3"/><circle cx="644.95" cy="100.83" r="3.3"/><circle cx="646.55" cy="99.82" r="3.3"/><circle cx="648.15" cy="100.76" r="3.3"/><circle cx="649.75" cy="100.52" r="3.3"/></g><g clip-path="url(#cc)" fill="#fff" stroke="#000" stroke-width="0.9"><circle cx="446.5" cy="43.55" r="3.3"/><circle cx="448.1" cy="44.68" r="3.3"/><circle cx="449.7" cy="45.4" r="3.3"/><circle cx="451.3" cy="48.02" r="3.3"/><circle cx="452.9" cy="49.23" r="3.3"/><circle cx="454.5" cy="52.01" r="3.3"/><circle cx="456.1" cy="55.6" r="3.3"/><circle cx="457.7" cy="58.77" r="3.3"/><circle cx="459.3" cy="63.15" r="3.3"/><circle cx="460.9" cy="68.18" r="3.3"/><circle cx="462.5" cy="73.15" r="3.3"/><circle cx="464.1" cy="78.25" r="3.3"/><circle cx="465.7" cy="84.21" r="3.3"/><circle cx="467.31" cy="89.66" r="3.3"/><circle cx="468.91" cy="95.98" r="3.3"/><circle cx="470.51" cy="103.28" r="3.3"/><circle cx="471.96" cy="110.42" r="3.3"/><circle cx="473.56" cy="117.54" r="3.3"/><circle cx="475.16" cy="124.98" r="3.3"/><circle cx="476.76" cy="131.44" r="3.3"/><circle cx="478.36" cy="137.77" r="3.3"/><circle cx="479.96" cy="140.8" r="3.3"/><circle cx="481.56" cy="142.09" r="3.3"/><circle cx="483.16" cy="142.26" r="3.3"/><circle cx="484.76" cy="140.04" r="3.3"/><circle cx="486.36" cy="138.98" r="3.3"/><circle cx="487.96" cy="136.3" r="3.3"/><circle cx="489.56" cy="133.39" r="3.3"/><circle cx="491.16" cy="132.17" r="3.3"/><circle cx="492.76" cy="129.96" r="3.3"/><circle cx="494.36" cy="129.39" r="3.3"/><circle cx="495.96" cy="128.74" r="3.3"/><circle cx="497.56" cy="127.36" r="3.3"/><circle cx="499.16" cy="127.1" r="3.3"/><circle cx="500.76" cy="124.89" r="3.3"/><circle cx="502.36" cy="125.06" r="3.3"/><circle cx="503.96" cy="124.61" r="3.3"/><circle cx="505.56" cy="124.77" r="3.3"/><circle cx="507.16" cy="124.43" r="3.3"/><circle cx="508.77" cy="124.53" r="3.3"/><circle cx="510.37" cy="124.28" r="3.3"/><circle cx="511.97" cy="123.85" r="3.3"/><circle cx="513.57" cy="123.62" r="3.3"/><circle cx="515.17" cy="124.37" r="3.3"/><circle cx="516.77" cy="123.71" r="3.3"/><circle cx="518.37" cy="124.1" r="3.3"/><circle cx="519.97" cy="123.99" r="3.3"/><circle cx="521.57" cy="123.65" r="3.3"/><circle cx="523.17" cy="123.26" r="3.3"/><circle cx="524.77" cy="123.83" r="3.3"/><circle cx="526.37" cy="124.16" r="3.3"/><circle cx="527.97" cy="122.74" r="3.3"/><circle cx="529.57" cy="123.2" r="3.3"/><circle cx="531.17" cy="124.56" r="3.3"/><circle cx="532.77" cy="123.69" r="3.3"/><circle cx="534.37" cy="123.77" r="3.3"/><circle cx="535.97" cy="124.08" r="3.3"/><circle cx="537.57" cy="124.16" r="3.3"/><circle cx="539.17" cy="123.69" r="3.3"/><circle cx="540.77" cy="123.82" r="3.3"/><circle cx="542.37" cy="123.31" r="3.3"/><circle cx="543.97" cy="123.53" r="3.3"/><circle cx="545.57" cy="123.08" r="3.3"/><circle cx="547.17" cy="123.73" r="3.3"/><circle cx="548.78" cy="123.66" r="3.3"/><circle cx="550.38" cy="123.66" r="3.3"/><circle cx="551.98" cy="123.67" r="3.3"/><circle cx="553.58" cy="122.8" r="3.3"/><circle cx="555.18" cy="123.36" r="3.3"/><circle cx="556.78" cy="123.1" r="3.3"/><circle cx="558.38" cy="123.3" r="3.3"/><circle cx="559.98" cy="123.59" r="3.3"/><circle cx="561.58" cy="123.91" r="3.3"/><circle cx="563.18" cy="123.31" r="3.3"/><circle cx="564.78" cy="123.11" r="3.3"/><circle cx="566.38" cy="123.19" r="3.3"/><circle cx="567.98" cy="123.31" r="3.3"/><circle cx="569.58" cy="123.27" r="3.3"/><circle cx="571.18" cy="123.41" r="3.3"/><circle cx="572.78" cy="123.57" r="3.3"/><circle cx="574.38" cy="122.77" r="3.3"/><circle cx="575.98" cy="122.74" r="3.3"/><circle cx="577.58" cy="123.05" r="3.3"/><circle cx="579.18" cy="123.1" r="3.3"/><circle cx="580.78" cy="123.8" r="3.3"/><circle cx="582.38" cy="123.18" r="3.3"/><circle cx="583.98" cy="123.6" r="3.3"/><circle cx="585.58" cy="122.88" r="3.3"/><circle cx="587.18" cy="122.78" r="3.3"/><circle cx="588.78" cy="124.16" r="3.3"/><circle cx="590.39" cy="123.59" r="3.3"/><circle cx="591.99" cy="122.86" r="3.3"/><circle cx="593.59" cy="123.16" r="3.3"/><circle cx="595.19" cy="123.9" r="3.3"/><circle cx="596.79" cy="123.35" r="3.3"/><circle cx="598.39" cy="123.01" r="3.3"/><circle cx="599.99" cy="123.51" r="3.3"/><circle cx="601.59" cy="123.34" r="3.3"/><circle cx="603.19" cy="122.47" r="3.3"/><circle cx="604.79" cy="123.97" r="3.3"/><circle cx="606.39" cy="123.51" r="3.3"/><circle cx="607.99" cy="123.11" r="3.3"/><circle cx="609.59" cy="122.93" r="3.3"/><circle cx="611.19" cy="122.85" r="3.3"/><circle cx="612.79" cy="122.45" r="3.3"/><circle cx="614.39" cy="123.14" r="3.3"/><circle cx="615.99" cy="122.85" r="3.3"/><circle cx="617.59" cy="122.67" r="3.3"/><circle cx="619.19" cy="122.8" r="3.3"/><circle cx="620.79" cy="123.81" r="3.3"/><circle cx="622.39" cy="122.81" r="3.3"/><circle cx="623.99" cy="123.43" r="3.3"/><circle cx="625.59" cy="123.55" r="3.3"/><circle cx="627.19" cy="123.06" r="3.3"/><circle cx="628.79" cy="123.29" r="3.3"/><circle cx="630.4" cy="122.65" r="3.3"/><circle cx="632" cy="122.88" r="3.3"/><circle cx="633.6" cy="123.04" r="3.3"/><circle cx="635.2" cy="122.64" r="3.3"/><circle cx="636.8" cy="122.65" r="3.3"/><circle cx="638.4" cy="123.66" r="3.3"/><circle cx="640" cy="123.38" r="3.3"/><circle cx="641.6" cy="122.93" r="3.3"/><circle cx="643.2" cy="122.57" r="3.3"/><circle cx="644.8" cy="122.97" r="3.3"/><circle cx="646.4" cy="122.56" r="3.3"/><circle cx="648" cy="122.83" r="3.3"/><circle cx="649.6" cy="122.91" r="3.3"/></g><g clip-path="url(#cd)" fill="#fff" stroke="#000" stroke-width="0.9"><circle cx="33.5" cy="153.82" r="3.3"/><circle cx="35.45" cy="154.93" r="3.3"/><circle cx="37.4" cy="157.07" r="3.3"/><circle cx="39.35" cy="158.86" r="3.3"/><circle cx="41.3" cy="159.69" r="3.3"/><circle cx="43.2" cy="161.53" r="3.3"/><circle cx="45.15" cy="162.9" r="3.3"/><circle cx="47.1" cy="164.94" r="3.3"/><circle cx="49.05" cy="167.26" r="3.3"/><circle cx="50.95" cy="168.19" r="3.3"/><circle cx="52.9" cy="170" r="3.3"/><circle cx="54.85" cy="172.14" r="3.3"/><circle cx="56.8" cy="173.99" r="3.3"/><circle cx="58.7" cy="176.11" r="3.3"/><circle cx="60.65" cy="177.96" r="3.3"/><circle cx="62.6" cy="178.24" r="3.3"/><circle cx="64.55" cy="181.02" r="3.3"/><circle cx="66.45" cy="184.31" r="3.3"/><circle cx="68.4" cy="185.59" r="3.3"/><circle cx="70.3" cy="187.55" r="3.3"/><circle cx="72.25" cy="189.21" r="3.3"/><circle cx="74.15" cy="191.83" r="3.3"/><circle cx="76.05" cy="193.51" r="3.3"/><circle cx="78" cy="194.86" r="3.3"/><circle cx="79.9" cy="196.63" r="3.3"/><circle cx="81.8" cy="197.99" r="3.3"/><circle cx="83.75" cy="199" r="3.3"/><circle cx="85.65" cy="200.6" r="3.3"/><circle cx="87.55" cy="202.65" r="3.3"/><circle cx="89.5" cy="203.36" r="3.3"/><circle cx="91.4" cy="205.06" r="3.3"/><circle cx="93.3" cy="205.02" r="3.3"/><circle cx="95.25" cy="204.9" r="3.3"/><circle cx="97.15" cy="206.38" r="3.3"/><circle cx="99.1" cy="206.6" r="3.3"/><circle cx="101.05" cy="206.33" r="3.3"/><circle cx="102.95" cy="206.34" r="3.3"/><circle cx="104.85" cy="207.52" r="3.3"/><circle cx="106.8" cy="207.4" r="3.3"/><circle cx="108.7" cy="206.61" r="3.3"/><circle cx="110.6" cy="206.73" r="3.3"/><circle cx="112.55" cy="207.43" r="3.3"/><circle cx="114.5" cy="206.88" r="3.3"/><circle cx="116.4" cy="206.17" r="3.3"/><circle cx="118.3" cy="204.6" r="3.3"/><circle cx="120.25" cy="203.53" r="3.3"/><circle cx="122.15" cy="203.68" r="3.3"/><circle cx="124.05" cy="201.38" r="3.3"/><circle cx="126" cy="200.53" r="3.3"/><circle cx="127.9" cy="199.28" r="3.3"/><circle cx="129.8" cy="197.84" r="3.3"/><circle cx="131.75" cy="196.6" r="3.3"/><circle cx="133.65" cy="194.92" r="3.3"/><circle cx="135.55" cy="193.88" r="3.3"/><circle cx="137.5" cy="192.31" r="3.3"/><circle cx="139.4" cy="190.37" r="3.3"/><circle cx="141.3" cy="189.51" r="3.3"/><circle cx="143.25" cy="189.11" r="3.3"/><circle cx="145.15" cy="187.4" r="3.3"/><circle cx="147.05" cy="186.24" r="3.3"/><circle cx="149" cy="185.58" r="3.3"/><circle cx="150.9" cy="184.03" r="3.3"/><circle cx="152.8" cy="182.62" r="3.3"/><circle cx="154.75" cy="181.15" r="3.3"/><circle cx="156.65" cy="180.01" r="3.3"/><circle cx="158.55" cy="178.4" r="3.3"/><circle cx="160.5" cy="177.96" r="3.3"/><circle cx="162.4" cy="176.41" r="3.3"/><circle cx="164.3" cy="176.82" r="3.3"/><circle cx="166.2" cy="174.75" r="3.3"/><circle cx="168.15" cy="172.28" r="3.3"/><circle cx="170.05" cy="171.97" r="3.3"/><circle cx="171.95" cy="171.05" r="3.3"/><circle cx="173.9" cy="169.98" r="3.3"/><circle cx="175.8" cy="168.85" r="3.3"/><circle cx="177.7" cy="167.56" r="3.3"/><circle cx="179.65" cy="167.6" r="3.3"/><circle cx="181.55" cy="166.73" r="3.3"/><circle cx="183.45" cy="166.14" r="3.3"/><circle cx="185.4" cy="165.6" r="3.3"/><circle cx="187.3" cy="164.07" r="3.3"/><circle cx="189.2" cy="163.5" r="3.3"/><circle cx="191.1" cy="162.83" r="3.3"/><circle cx="193.05" cy="161.11" r="3.3"/><circle cx="194.95" cy="160.52" r="3.3"/><circle cx="196.85" cy="160.85" r="3.3"/><circle cx="198.8" cy="160.6" r="3.3"/><circle cx="200.7" cy="159.84" r="3.3"/><circle cx="202.6" cy="160.21" r="3.3"/><circle cx="204.55" cy="159.42" r="3.3"/><circle cx="206.45" cy="158.77" r="3.3"/><circle cx="208.35" cy="157.9" r="3.3"/><circle cx="210.3" cy="157.51" r="3.3"/><circle cx="212.2" cy="157.53" r="3.3"/><circle cx="214.1" cy="156.81" r="3.3"/><circle cx="216.05" cy="156.97" r="3.3"/><circle cx="217.95" cy="155.9" r="3.3"/><circle cx="219.85" cy="156.27" r="3.3"/><circle cx="221.8" cy="156.03" r="3.3"/><circle cx="223.7" cy="156.05" r="3.3"/><circle cx="225.6" cy="155.88" r="3.3"/><circle cx="227.55" cy="155.47" r="3.3"/><circle cx="229.45" cy="155.7" r="3.3"/><circle cx="231.35" cy="155.34" r="3.3"/><circle cx="233.3" cy="155.62" r="3.3"/><circle cx="235.2" cy="155.2" r="3.3"/><circle cx="237.1" cy="154.96" r="3.3"/></g><g clip-path="url(#cd)" fill="#fff" stroke="#000" stroke-width="0.9"><circle cx="33.5" cy="153.86" r="3.3"/><circle cx="35.45" cy="156.4" r="3.3"/><circle cx="37.4" cy="157.28" r="3.3"/><circle cx="39.35" cy="159.51" r="3.3"/><circle cx="41.3" cy="162.33" r="3.3"/><circle cx="43.2" cy="164.57" r="3.3"/><circle cx="45.15" cy="167.55" r="3.3"/><circle cx="47.1" cy="168.21" r="3.3"/><circle cx="49.05" cy="171.79" r="3.3"/><circle cx="50.95" cy="173.76" r="3.3"/><circle cx="52.9" cy="178.39" r="3.3"/><circle cx="54.85" cy="181.08" r="3.3"/><circle cx="56.8" cy="184.47" r="3.3"/><circle cx="58.7" cy="185.99" r="3.3"/><circle cx="60.65" cy="188.87" r="3.3"/><circle cx="62.6" cy="191.34" r="3.3"/><circle cx="64.55" cy="192.52" r="3.3"/><circle cx="66.45" cy="195.36" r="3.3"/><circle cx="68.4" cy="197.94" r="3.3"/><circle cx="70.3" cy="199.45" r="3.3"/><circle cx="72.25" cy="202.32" r="3.3"/><circle cx="74.15" cy="205.67" r="3.3"/><circle cx="76.05" cy="208.07" r="3.3"/><circle cx="78" cy="210.06" r="3.3"/><circle cx="79.9" cy="212.59" r="3.3"/><circle cx="81.8" cy="215.41" r="3.3"/><circle cx="83.75" cy="216.44" r="3.3"/><circle cx="85.65" cy="218.19" r="3.3"/><circle cx="87.55" cy="219.82" r="3.3"/><circle cx="89.5" cy="221.49" r="3.3"/><circle cx="91.4" cy="221.79" r="3.3"/><circle cx="93.3" cy="222.74" r="3.3"/><circle cx="95.25" cy="223.76" r="3.3"/><circle cx="97.15" cy="224.23" r="3.3"/><circle cx="99.1" cy="225.66" r="3.3"/><circle cx="101.05" cy="225.08" r="3.3"/><circle cx="102.95" cy="225.18" r="3.3"/><circle cx="104.85" cy="225.6" r="3.3"/><circle cx="106.8" cy="226.29" r="3.3"/><circle cx="108.7" cy="224.66" r="3.3"/><circle cx="110.6" cy="224.98" r="3.3"/><circle cx="112.55" cy="223.36" r="3.3"/><circle cx="114.5" cy="224.29" r="3.3"/><circle cx="116.4" cy="223.46" r="3.3"/><circle cx="118.3" cy="222.16" r="3.3"/><circle cx="120.25" cy="221.03" r="3.3"/><circle cx="122.15" cy="221.02" r="3.3"/><circle cx="124.05" cy="219.05" r="3.3"/><circle cx="126" cy="218.57" r="3.3"/><circle cx="127.9" cy="217.76" r="3.3"/><circle cx="129.8" cy="215.55" r="3.3"/><circle cx="131.75" cy="215.45" r="3.3"/><circle cx="133.65" cy="213.07" r="3.3"/><circle cx="135.55" cy="211.54" r="3.3"/><circle cx="137.5" cy="209.44" r="3.3"/><circle cx="139.4" cy="208.36" r="3.3"/><circle cx="141.3" cy="205.89" r="3.3"/><circle cx="143.25" cy="205.29" r="3.3"/><circle cx="145.15" cy="202.93" r="3.3"/><circle cx="147.05" cy="201.67" r="3.3"/><circle cx="149" cy="199.41" r="3.3"/><circle cx="150.9" cy="198.29" r="3.3"/><circle cx="152.8" cy="196.88" r="3.3"/><circle cx="154.75" cy="195.01" r="3.3"/><circle cx="156.65" cy="193.08" r="3.3"/><circle cx="158.55" cy="192.47" r="3.3"/><circle cx="160.5" cy="191.31" r="3.3"/><circle cx="162.4" cy="188.75" r="3.3"/><circle cx="164.3" cy="188.23" r="3.3"/><circle cx="166.2" cy="186.88" r="3.3"/><circle cx="168.15" cy="185.5" r="3.3"/><circle cx="170.05" cy="183.04" r="3.3"/><circle cx="171.95" cy="182.43" r="3.3"/><circle cx="173.9" cy="181.08" r="3.3"/><circle cx="175.8" cy="179.52" r="3.3"/><circle cx="177.7" cy="177.45" r="3.3"/><circle cx="179.65" cy="177.02" r="3.3"/><circle cx="181.55" cy="175.14" r="3.3"/><circle cx="183.45" cy="173.6" r="3.3"/><circle cx="185.4" cy="172.94" r="3.3"/><circle cx="187.3" cy="171.29" r="3.3"/><circle cx="189.2" cy="170.36" r="3.3"/><circle cx="191.1" cy="169.09" r="3.3"/><circle cx="193.05" cy="167.86" r="3.3"/><circle cx="194.95" cy="166.37" r="3.3"/><circle cx="196.85" cy="166.05" r="3.3"/><circle cx="198.8" cy="165.03" r="3.3"/><circle cx="200.7" cy="164.2" r="3.3"/><circle cx="202.6" cy="162.93" r="3.3"/><circle cx="204.55" cy="162.54" r="3.3"/><circle cx="206.45" cy="163.53" r="3.3"/><circle cx="208.35" cy="161.92" r="3.3"/><circle cx="210.3" cy="160.8" r="3.3"/><circle cx="212.2" cy="160.4" r="3.3"/><circle cx="214.1" cy="159.91" r="3.3"/><circle cx="216.05" cy="159.34" r="3.3"/><circle cx="217.95" cy="158.79" r="3.3"/><circle cx="219.85" cy="159.06" r="3.3"/><circle cx="221.8" cy="159.13" r="3.3"/><circle cx="223.7" cy="158.6" r="3.3"/><circle cx="225.6" cy="158.99" r="3.3"/><circle cx="227.55" cy="157.53" r="3.3"/><circle cx="229.45" cy="157.48" r="3.3"/><circle cx="231.35" cy="156.66" r="3.3"/><circle cx="233.3" cy="156.76" r="3.3"/><circle cx="235.2" cy="156.89" r="3.3"/><circle cx="237.1" cy="156.35" r="3.3"/></g><g clip-path="url(#cd)" fill="#fff" stroke="#000" stroke-width="0.9"><circle cx="33.5" cy="153.65" r="3.3"/><circle cx="35.45" cy="156.09" r="3.3"/><circle cx="37.4" cy="158.87" r="3.3"/><circle cx="39.35" cy="161.31" r="3.3"/><circle cx="41.3" cy="164.02" r="3.3"/><circle cx="43.2" cy="167.39" r="3.3"/><circle cx="45.15" cy="169.65" r="3.3"/><circle cx="47.1" cy="172.91" r="3.3"/><circle cx="49.05" cy="176.63" r="3.3"/><circle cx="50.95" cy="178.86" r="3.3"/><circle cx="52.9" cy="183.27" r="3.3"/><circle cx="54.85" cy="185.93" r="3.3"/><circle cx="56.8" cy="189.13" r="3.3"/><circle cx="58.7" cy="192.8" r="3.3"/><circle cx="60.65" cy="195.92" r="3.3"/><circle cx="62.6" cy="199.15" r="3.3"/><circle cx="64.55" cy="203.02" r="3.3"/><circle cx="66.45" cy="205.44" r="3.3"/><circle cx="68.4" cy="207.8" r="3.3"/><circle cx="70.3" cy="211.27" r="3.3"/><circle cx="72.25" cy="214.8" r="3.3"/><circle cx="74.15" cy="217.92" r="3.3"/><circle cx="76.05" cy="220.52" r="3.3"/><circle cx="78" cy="223.81" r="3.3"/><circle cx="79.9" cy="226.45" r="3.3"/><circle cx="81.8" cy="228.5" r="3.3"/><circle cx="83.75" cy="231.19" r="3.3"/><circle cx="85.65" cy="232.92" r="3.3"/><circle cx="87.55" cy="234.95" r="3.3"/><circle cx="89.5" cy="236.78" r="3.3"/><circle cx="91.4" cy="237.97" r="3.3"/><circle cx="93.3" cy="240.26" r="3.3"/><circle cx="95.25" cy="240.64" r="3.3"/><circle cx="97.15" cy="242.3" r="3.3"/><circle cx="99.1" cy="243.18" r="3.3"/><circle cx="101.05" cy="243.99" r="3.3"/><circle cx="102.95" cy="244.95" r="3.3"/><circle cx="104.85" cy="244.26" r="3.3"/><circle cx="106.8" cy="245.33" r="3.3"/><circle cx="108.7" cy="244.69" r="3.3"/><circle cx="110.6" cy="245.38" r="3.3"/><circle cx="112.55" cy="244.19" r="3.3"/><circle cx="114.5" cy="243.88" r="3.3"/><circle cx="116.4" cy="242.77" r="3.3"/><circle cx="118.3" cy="241.94" r="3.3"/><circle cx="120.25" cy="241.36" r="3.3"/><circle cx="122.15" cy="240" r="3.3"/><circle cx="124.05" cy="237.94" r="3.3"/><circle cx="126" cy="235.96" r="3.3"/><circle cx="127.9" cy="234.96" r="3.3"/><circle cx="129.8" cy="232.38" r="3.3"/><circle cx="131.75" cy="230.39" r="3.3"/><circle cx="133.65" cy="229.13" r="3.3"/><circle cx="135.55" cy="227.29" r="3.3"/><circle cx="137.5" cy="225.61" r="3.3"/><circle cx="139.4" cy="223.84" r="3.3"/><circle cx="141.3" cy="223.41" r="3.3"/><circle cx="143.25" cy="220.12" r="3.3"/><circle cx="145.15" cy="218.59" r="3.3"/><circle cx="147.05" cy="216.66" r="3.3"/><circle cx="149" cy="215.44" r="3.3"/><circle cx="150.9" cy="212.74" r="3.3"/><circle cx="152.8" cy="210.63" r="3.3"/><circle cx="154.75" cy="209.14" r="3.3"/><circle cx="156.65" cy="207.19" r="3.3"/><circle cx="158.55" cy="205.89" r="3.3"/><circle cx="160.5" cy="203.16" r="3.3"/><circle cx="162.4" cy="202.72" r="3.3"/><circle cx="164.3" cy="200.75" r="3.3"/><circle cx="166.2" cy="198.67" r="3.3"/><circle cx="168.15" cy="196.63" r="3.3"/><circle cx="170.05" cy="195.17" r="3.3"/><circle cx="171.95" cy="192.94" r="3.3"/><circle cx="173.9" cy="191.25" r="3.3"/><circle cx="175.8" cy="189.96" r="3.3"/><circle cx="177.7" cy="187.23" r="3.3"/><circle cx="179.65" cy="185.65" r="3.3"/><circle cx="181.55" cy="183.48" r="3.3"/><circle cx="183.45" cy="181.11" r="3.3"/><circle cx="185.4" cy="180.21" r="3.3"/><circle cx="187.3" cy="178.34" r="3.3"/><circle cx="189.2" cy="176" r="3.3"/><circle cx="191.1" cy="175.01" r="3.3"/><circle cx="193.05" cy="174.15" r="3.3"/><circle cx="194.95" cy="172.33" r="3.3"/><circle cx="196.85" cy="170.91" r="3.3"/><circle cx="198.8" cy="169.11" r="3.3"/><circle cx="200.7" cy="168.17" r="3.3"/><circle cx="202.6" cy="167.38" r="3.3"/><circle cx="204.55" cy="165.9" r="3.3"/><circle cx="206.45" cy="164.59" r="3.3"/><circle cx="208.35" cy="165.21" r="3.3"/><circle cx="210.3" cy="163.38" r="3.3"/><circle cx="212.2" cy="162.21" r="3.3"/><circle cx="214.1" cy="161.1" r="3.3"/><circle cx="216.05" cy="162.32" r="3.3"/><circle cx="217.95" cy="160.95" r="3.3"/><circle cx="219.85" cy="160.13" r="3.3"/><circle cx="221.8" cy="159.55" r="3.3"/><circle cx="223.7" cy="160.05" r="3.3"/><circle cx="225.6" cy="159" r="3.3"/><circle cx="227.55" cy="158.13" r="3.3"/><circle cx="229.45" cy="158.51" r="3.3"/><circle cx="231.35" cy="157.98" r="3.3"/><circle cx="233.3" cy="157.38" r="3.3"/><circle cx="235.2" cy="157.08" r="3.3"/><circle cx="237.1" cy="156.86" r="3.3"/></g><g clip-path="url(#ce)" fill="#fff" stroke="#000" stroke-width="0.9"><circle cx="240.5" cy="153.15" r="3.4"/><circle cx="242.65" cy="159.36" r="3.4"/><circle cx="243.4" cy="166.04" r="3.4"/><circle cx="244.1" cy="174.66" r="3.4"/><circle cx="245.35" cy="181.93" r="3.4"/><circle cx="248.25" cy="187.26" r="3.4"/><circle cx="251.4" cy="189.24" r="3.4"/><circle cx="254.55" cy="190.19" r="3.4"/><circle cx="257.7" cy="188.39" r="3.4"/><circle cx="260.8" cy="188.31" r="3.4"/><circle cx="263.95" cy="187.96" r="3.4"/><circle cx="267.05" cy="185.93" r="3.4"/><circle cx="270.2" cy="183.6" r="3.4"/><circle cx="273.3" cy="182.83" r="3.4"/><circle cx="276.45" cy="181.65" r="3.4"/><circle cx="279.55" cy="180.56" r="3.4"/><circle cx="282.7" cy="177.89" r="3.4"/><circle cx="285.8" cy="176.53" r="3.4"/><circle cx="288.95" cy="176.31" r="3.4"/><circle cx="292.05" cy="176.04" r="3.4"/><circle cx="295.2" cy="173.61" r="3.4"/><circle cx="298.3" cy="171.67" r="3.4"/><circle cx="301.45" cy="171.21" r="3.4"/><circle cx="304.55" cy="169.92" r="3.4"/><circle cx="307.7" cy="168.7" r="3.4"/><circle cx="310.8" cy="166.12" r="3.4"/><circle cx="313.95" cy="167.3" r="3.4"/><circle cx="317.05" cy="164.15" r="3.4"/><circle cx="320.2" cy="164.03" r="3.4"/><circle cx="323.3" cy="161.88" r="3.4"/><circle cx="326.45" cy="162.9" r="3.4"/><circle cx="329.55" cy="161.84" r="3.4"/><circle cx="332.7" cy="161.81" r="3.4"/><circle cx="335.8" cy="160.64" r="3.4"/><circle cx="338.95" cy="159.48" r="3.4"/><circle cx="342.05" cy="159.78" r="3.4"/><circle cx="345.2" cy="158.36" r="3.4"/><circle cx="348.3" cy="160.26" r="3.4"/><circle cx="351.45" cy="157.11" r="3.4"/><circle cx="354.55" cy="158.17" r="3.4"/><circle cx="357.7" cy="156.48" r="3.4"/><circle cx="360.8" cy="156.31" r="3.4"/><circle cx="363.95" cy="156.14" r="3.4"/><circle cx="367.05" cy="156.89" r="3.4"/><circle cx="370.2" cy="156.23" r="3.4"/><circle cx="373.35" cy="156.18" r="3.4"/><circle cx="376.45" cy="155.03" r="3.4"/><circle cx="379.6" cy="156.46" r="3.4"/><circle cx="382.7" cy="155.62" r="3.4"/><circle cx="385.85" cy="155.41" r="3.4"/><circle cx="388.95" cy="156.65" r="3.4"/><circle cx="392.1" cy="156.22" r="3.4"/><circle cx="395.2" cy="155.55" r="3.4"/><circle cx="398.35" cy="155.97" r="3.4"/><circle cx="401.45" cy="154.56" r="3.4"/><circle cx="404.6" cy="155.2" r="3.4"/><circle cx="407.7" cy="155.38" r="3.4"/><circle cx="410.85" cy="154.91" r="3.4"/><circle cx="413.95" cy="154.68" r="3.4"/><circle cx="417.1" cy="155" r="3.4"/><circle cx="420.2" cy="154.23" r="3.4"/><circle cx="423.35" cy="154.91" r="3.4"/></g><g clip-path="url(#ce)" fill="#fff" stroke="#000" stroke-width="0.9"><circle cx="240.5" cy="154.35" r="3.4"/><circle cx="241.55" cy="160.85" r="3.4"/><circle cx="241.95" cy="168.86" r="3.4"/><circle cx="242.2" cy="175.81" r="3.4"/><circle cx="242.45" cy="185.65" r="3.4"/><circle cx="242.7" cy="191.64" r="3.4"/><circle cx="243.05" cy="197.92" r="3.4"/><circle cx="243.95" cy="207.15" r="3.4"/><circle cx="245.7" cy="213.92" r="3.4"/><circle cx="248.8" cy="217.9" r="3.4"/><circle cx="251.95" cy="220.17" r="3.4"/><circle cx="255.05" cy="219.98" r="3.4"/><circle cx="258.2" cy="219.21" r="3.4"/><circle cx="261.3" cy="217.98" r="3.4"/><circle cx="264.45" cy="214.94" r="3.4"/><circle cx="267.55" cy="212.52" r="3.4"/><circle cx="270.7" cy="209.78" r="3.4"/><circle cx="273.8" cy="208.25" r="3.4"/><circle cx="276.95" cy="205.39" r="3.4"/><circle cx="280.05" cy="202.91" r="3.4"/><circle cx="283.2" cy="201.37" r="3.4"/><circle cx="286.3" cy="198.16" r="3.4"/><circle cx="289.45" cy="196.26" r="3.4"/><circle cx="292.55" cy="195.64" r="3.4"/><circle cx="295.7" cy="193.57" r="3.4"/><circle cx="298.8" cy="190.76" r="3.4"/><circle cx="301.95" cy="188.4" r="3.4"/><circle cx="305.05" cy="186.92" r="3.4"/><circle cx="308.2" cy="183.77" r="3.4"/><circle cx="311.3" cy="183.2" r="3.4"/><circle cx="314.45" cy="181.48" r="3.4"/><circle cx="317.55" cy="178.88" r="3.4"/><circle cx="320.7" cy="176.15" r="3.4"/><circle cx="323.8" cy="175.94" r="3.4"/><circle cx="326.95" cy="173.49" r="3.4"/><circle cx="330.05" cy="172.27" r="3.4"/><circle cx="333.2" cy="170.29" r="3.4"/><circle cx="336.3" cy="169.61" r="3.4"/><circle cx="339.45" cy="167.24" r="3.4"/><circle cx="342.55" cy="167.43" r="3.4"/><circle cx="345.7" cy="165.65" r="3.4"/><circle cx="348.8" cy="164.62" r="3.4"/><circle cx="351.95" cy="164.91" r="3.4"/><circle cx="355.05" cy="164.97" r="3.4"/><circle cx="358.2" cy="162.43" r="3.4"/><circle cx="361.3" cy="161.72" r="3.4"/><circle cx="364.45" cy="160.65" r="3.4"/><circle cx="367.55" cy="161.06" r="3.4"/><circle cx="370.7" cy="161.12" r="3.4"/><circle cx="373.85" cy="160.27" r="3.4"/><circle cx="376.95" cy="159.53" r="3.4"/><circle cx="380.1" cy="160.02" r="3.4"/><circle cx="383.2" cy="159.39" r="3.4"/><circle cx="386.35" cy="157.82" r="3.4"/><circle cx="389.45" cy="159.1" r="3.4"/><circle cx="392.6" cy="159.47" r="3.4"/><circle cx="395.7" cy="158.78" r="3.4"/><circle cx="398.85" cy="158.74" r="3.4"/><circle cx="401.95" cy="157.81" r="3.4"/><circle cx="405.1" cy="157.15" r="3.4"/><circle cx="408.2" cy="158.47" r="3.4"/><circle cx="411.35" cy="159.05" r="3.4"/><circle cx="414.45" cy="157.46" r="3.4"/><circle cx="417.6" cy="157.05" r="3.4"/><circle cx="420.7" cy="157.53" r="3.4"/><circle cx="423.85" cy="157.93" r="3.4"/></g><g clip-path="url(#ce)" fill="#fff" stroke="#000" stroke-width="0.9"><circle cx="240.5" cy="155.09" r="3.4"/><circle cx="241.25" cy="162.15" r="3.4"/><circle cx="241.85" cy="170.41" r="3.4"/><circle cx="242.3" cy="178.61" r="3.4"/><circle cx="242.7" cy="185.78" r="3.4"/><circle cx="243.05" cy="192.36" r="3.4"/><circle cx="243.45" cy="200.64" r="3.4"/><circle cx="243.9" cy="208.12" r="3.4"/><circle cx="244.45" cy="215.03" r="3.4"/><circle cx="245.1" cy="222.09" r="3.4"/><circle cx="245.95" cy="230.55" r="3.4"/><circle cx="247.6" cy="236.76" r="3.4"/><circle cx="250.75" cy="243.1" r="3.4"/><circle cx="253.9" cy="243.24" r="3.4"/><circle cx="257.05" cy="242.11" r="3.4"/><circle cx="260.2" cy="240.38" r="3.4"/><circle cx="263.3" cy="238.73" r="3.4"/><circle cx="266.45" cy="236.87" r="3.4"/><circle cx="269.55" cy="233.73" r="3.4"/><circle cx="272.7" cy="231.54" r="3.4"/><circle cx="275.8" cy="226.76" r="3.4"/><circle cx="278.95" cy="222.94" r="3.4"/><circle cx="282.05" cy="219.78" r="3.4"/><circle cx="285.2" cy="214.66" r="3.4"/><circle cx="288.3" cy="213.16" r="3.4"/><circle cx="291.45" cy="208.98" r="3.4"/><circle cx="294.55" cy="206.44" r="3.4"/><circle cx="297.7" cy="203.58" r="3.4"/><circle cx="300.8" cy="202.55" r="3.4"/><circle cx="303.95" cy="199.51" r="3.4"/><circle cx="307.05" cy="196.56" r="3.4"/><circle cx="310.2" cy="194.75" r="3.4"/><circle cx="313.3" cy="193.14" r="3.4"/><circle cx="316.45" cy="191.29" r="3.4"/><circle cx="319.55" cy="189.09" r="3.4"/><circle cx="322.7" cy="187.53" r="3.4"/><circle cx="325.8" cy="186.93" r="3.4"/><circle cx="328.95" cy="185.25" r="3.4"/><circle cx="332.05" cy="183.7" r="3.4"/><circle cx="335.2" cy="180.57" r="3.4"/><circle cx="338.3" cy="178.61" r="3.4"/><circle cx="341.45" cy="176.34" r="3.4"/><circle cx="344.55" cy="175.61" r="3.4"/><circle cx="347.7" cy="173.76" r="3.4"/><circle cx="350.8" cy="172.36" r="3.4"/><circle cx="353.95" cy="172.21" r="3.4"/><circle cx="357.05" cy="170.34" r="3.4"/><circle cx="360.2" cy="168.5" r="3.4"/><circle cx="363.3" cy="167.86" r="3.4"/><circle cx="366.45" cy="165.94" r="3.4"/><circle cx="369.55" cy="165.66" r="3.4"/><circle cx="372.7" cy="165.36" r="3.4"/><circle cx="375.85" cy="164.32" r="3.4"/><circle cx="378.95" cy="163.41" r="3.4"/><circle cx="382.1" cy="162.92" r="3.4"/><circle cx="385.2" cy="164.07" r="3.4"/><circle cx="388.35" cy="161.94" r="3.4"/><circle cx="391.45" cy="161.76" r="3.4"/><circle cx="394.6" cy="162.08" r="3.4"/><circle cx="397.7" cy="161.24" r="3.4"/><circle cx="400.85" cy="160.68" r="3.4"/><circle cx="403.95" cy="161.2" r="3.4"/><circle cx="407.1" cy="160.12" r="3.4"/><circle cx="410.2" cy="161.53" r="3.4"/><circle cx="413.35" cy="159.57" r="3.4"/><circle cx="416.45" cy="159.53" r="3.4"/><circle cx="419.6" cy="160.23" r="3.4"/><circle cx="422.7" cy="158.49" r="3.4"/></g><g clip-path="url(#cf)" fill="#fff" stroke="#000" stroke-width="0.9"><circle cx="446.3" cy="176.18" r="3.0"/><circle cx="448.05" cy="177.63" r="3.0"/><circle cx="449.8" cy="180.1" r="3.0"/><circle cx="451.55" cy="180.98" r="3.0"/><circle cx="453.3" cy="182.81" r="3.0"/><circle cx="455.05" cy="185.08" r="3.0"/><circle cx="456.8" cy="186.17" r="3.0"/><circle cx="458.55" cy="187.11" r="3.0"/><circle cx="460.3" cy="189" r="3.0"/><circle cx="462.05" cy="191.42" r="3.0"/><circle cx="463.8" cy="194.62" r="3.0"/><circle cx="465.55" cy="195.92" r="3.0"/><circle cx="467.3" cy="199.9" r="3.0"/><circle cx="469.05" cy="203.18" r="3.0"/><circle cx="470.8" cy="204.3" r="3.0"/><circle cx="472.55" cy="206.18" r="3.0"/><circle cx="474.3" cy="209.67" r="3.0"/><circle cx="476.05" cy="211.03" r="3.0"/><circle cx="477.8" cy="214.65" r="3.0"/><circle cx="479.55" cy="214.58" r="3.0"/><circle cx="481.3" cy="216.11" r="3.0"/><circle cx="483.05" cy="217.66" r="3.0"/><circle cx="484.8" cy="218.89" r="3.0"/><circle cx="486.55" cy="220.37" r="3.0"/><circle cx="488.3" cy="220.83" r="3.0"/><circle cx="490.05" cy="221.37" r="3.0"/><circle cx="491.8" cy="222.03" r="3.0"/><circle cx="493.55" cy="222.32" r="3.0"/><circle cx="495.3" cy="224.47" r="3.0"/><circle cx="497.05" cy="222.98" r="3.0"/><circle cx="498.8" cy="223.07" r="3.0"/><circle cx="500.55" cy="221.55" r="3.0"/><circle cx="502.15" cy="220.41" r="3.0"/><circle cx="503.02" cy="218.5" r="3.0"/><circle cx="503.9" cy="215.19" r="3.0"/><circle cx="504.77" cy="210.68" r="3.0"/><circle cx="505.8" cy="206.25" r="3.0"/><circle cx="507.55" cy="201.27" r="3.0"/><circle cx="509.3" cy="194.17" r="3.0"/><circle cx="510.95" cy="187.73" r="3.0"/><circle cx="512.7" cy="180.69" r="3.0"/><circle cx="514.45" cy="175.36" r="3.0"/><circle cx="516.2" cy="169.07" r="3.0"/><circle cx="518.8" cy="167.07" r="3.0"/><circle cx="521.57" cy="163.31" r="3.0"/><circle cx="524.34" cy="160.26" r="3.0"/><circle cx="526.7" cy="161.36" r="3.0"/><circle cx="528.45" cy="162.32" r="3.0"/><circle cx="530.2" cy="163.23" r="3.0"/><circle cx="531.95" cy="165.24" r="3.0"/><circle cx="533.7" cy="167.07" r="3.0"/><circle cx="535.45" cy="167.83" r="3.0"/><circle cx="537.2" cy="170.62" r="3.0"/><circle cx="538.95" cy="170.32" r="3.0"/><circle cx="540.7" cy="171.96" r="3.0"/><circle cx="542.45" cy="171.71" r="3.0"/><circle cx="544.2" cy="174.76" r="3.0"/><circle cx="545.95" cy="174.64" r="3.0"/><circle cx="547.7" cy="176.97" r="3.0"/><circle cx="549.45" cy="175.15" r="3.0"/><circle cx="551.2" cy="177.55" r="3.0"/><circle cx="552.95" cy="175.06" r="3.0"/><circle cx="554.7" cy="176.57" r="3.0"/><circle cx="556.45" cy="176.75" r="3.0"/><circle cx="558.2" cy="176.5" r="3.0"/><circle cx="559.95" cy="177.82" r="3.0"/><circle cx="561.7" cy="176.13" r="3.0"/><circle cx="563.45" cy="176.45" r="3.0"/><circle cx="565.2" cy="176.6" r="3.0"/><circle cx="566.95" cy="176.4" r="3.0"/><circle cx="568.7" cy="176.11" r="3.0"/><circle cx="570.45" cy="176.43" r="3.0"/><circle cx="572.2" cy="175.85" r="3.0"/><circle cx="573.95" cy="176.82" r="3.0"/><circle cx="575.7" cy="175.76" r="3.0"/><circle cx="577.45" cy="176.16" r="3.0"/><circle cx="579.2" cy="176.27" r="3.0"/><circle cx="580.95" cy="176.89" r="3.0"/><circle cx="582.7" cy="175.69" r="3.0"/><circle cx="584.45" cy="176.37" r="3.0"/><circle cx="586.2" cy="175" r="3.0"/><circle cx="587.95" cy="176.31" r="3.0"/><circle cx="589.7" cy="176.65" r="3.0"/><circle cx="591.45" cy="176.84" r="3.0"/><circle cx="593.2" cy="176.4" r="3.0"/><circle cx="594.95" cy="175.59" r="3.0"/><circle cx="596.7" cy="174.72" r="3.0"/><circle cx="598.45" cy="174.92" r="3.0"/><circle cx="600.2" cy="176.24" r="3.0"/><circle cx="601.95" cy="176.47" r="3.0"/><circle cx="603.7" cy="176.48" r="3.0"/><circle cx="605.45" cy="176.68" r="3.0"/><circle cx="607.2" cy="175.58" r="3.0"/><circle cx="608.95" cy="176.32" r="3.0"/><circle cx="610.7" cy="176.92" r="3.0"/><circle cx="612.45" cy="176.06" r="3.0"/><circle cx="614.2" cy="174.75" r="3.0"/><circle cx="615.95" cy="176.04" r="3.0"/><circle cx="617.7" cy="176.56" r="3.0"/><circle cx="619.45" cy="175.86" r="3.0"/><circle cx="621.2" cy="175.71" r="3.0"/><circle cx="622.95" cy="175.33" r="3.0"/><circle cx="624.7" cy="177.77" r="3.0"/><circle cx="626.45" cy="176.75" r="3.0"/><circle cx="628.2" cy="175.61" r="3.0"/><circle cx="629.95" cy="176.72" r="3.0"/><circle cx="631.7" cy="176.69" r="3.0"/><circle cx="633.45" cy="177.21" r="3.0"/><circle cx="635.2" cy="175.78" r="3.0"/><circle cx="636.95" cy="177.22" r="3.0"/><circle cx="638.7" cy="176.97" r="3.0"/><circle cx="640.45" cy="175.67" r="3.0"/><circle cx="642.2" cy="176.56" r="3.0"/><circle cx="643.95" cy="176.59" r="3.0"/><circle cx="645.7" cy="176.66" r="3.0"/><circle cx="647.45" cy="175.02" r="3.0"/><circle cx="649.2" cy="176.61" r="3.0"/></g><g clip-path="url(#cf)" fill="#fff" stroke="#000" stroke-width="0.9"><circle cx="446.3" cy="175.9" r="3.0"/><circle cx="448.05" cy="178.51" r="3.0"/><circle cx="449.8" cy="180.02" r="3.0"/><circle cx="451.55" cy="181.53" r="3.0"/><circle cx="453.3" cy="183.38" r="3.0"/><circle cx="455.05" cy="186.05" r="3.0"/><circle cx="456.8" cy="188.71" r="3.0"/><circle cx="458.55" cy="190.94" r="3.0"/><circle cx="460.3" cy="192.69" r="3.0"/><circle cx="462.05" cy="197.63" r="3.0"/><circle cx="463.8" cy="200.55" r="3.0"/><circle cx="465.55" cy="203.68" r="3.0"/><circle cx="467.3" cy="207.41" r="3.0"/><circle cx="469.05" cy="211.05" r="3.0"/><circle cx="470.8" cy="213.85" r="3.0"/><circle cx="472.55" cy="216.49" r="3.0"/><circle cx="474.3" cy="220.22" r="3.0"/><circle cx="476.05" cy="222.03" r="3.0"/><circle cx="477.8" cy="224.32" r="3.0"/><circle cx="479.55" cy="226.55" r="3.0"/><circle cx="481.3" cy="228.05" r="3.0"/><circle cx="483.05" cy="229.63" r="3.0"/><circle cx="484.8" cy="232.99" r="3.0"/><circle cx="486.55" cy="231.52" r="3.0"/><circle cx="488.3" cy="233.2" r="3.0"/><circle cx="490.05" cy="234.53" r="3.0"/><circle cx="491.8" cy="234.14" r="3.0"/><circle cx="493.55" cy="235.82" r="3.0"/><circle cx="495.3" cy="235.25" r="3.0"/><circle cx="497.05" cy="235.57" r="3.0"/><circle cx="498.8" cy="234.6" r="3.0"/><circle cx="500.55" cy="235.07" r="3.0"/><circle cx="502.15" cy="233.51" r="3.0"/><circle cx="503.02" cy="232.58" r="3.0"/><circle cx="503.9" cy="228.54" r="3.0"/><circle cx="504.77" cy="222.59" r="3.0"/><circle cx="505.5" cy="215.56" r="3.0"/><circle cx="506.65" cy="208.28" r="3.0"/><circle cx="507.95" cy="202.39" r="3.0"/><circle cx="509.45" cy="193.79" r="3.0"/><circle cx="511.05" cy="188.47" r="3.0"/><circle cx="512.65" cy="180.64" r="3.0"/><circle cx="514.35" cy="173.19" r="3.0"/><circle cx="516.1" cy="168.21" r="3.0"/><circle cx="518.64" cy="162.82" r="3.0"/><circle cx="521.41" cy="159.64" r="3.0"/><circle cx="524.18" cy="158.55" r="3.0"/><circle cx="526.6" cy="157.59" r="3.0"/><circle cx="528.35" cy="156.38" r="3.0"/><circle cx="530.1" cy="159.73" r="3.0"/><circle cx="531.85" cy="162.11" r="3.0"/><circle cx="533.6" cy="164.23" r="3.0"/><circle cx="535.35" cy="167.66" r="3.0"/><circle cx="537.1" cy="167.83" r="3.0"/><circle cx="538.85" cy="169.43" r="3.0"/><circle cx="540.6" cy="171.52" r="3.0"/><circle cx="542.35" cy="173.45" r="3.0"/><circle cx="544.1" cy="172.93" r="3.0"/><circle cx="545.85" cy="174.88" r="3.0"/><circle cx="547.6" cy="175.85" r="3.0"/><circle cx="549.35" cy="177.16" r="3.0"/><circle cx="551.1" cy="178.65" r="3.0"/><circle cx="552.85" cy="177.87" r="3.0"/><circle cx="554.6" cy="177.17" r="3.0"/><circle cx="556.35" cy="177.07" r="3.0"/><circle cx="558.1" cy="175.95" r="3.0"/><circle cx="559.85" cy="177.74" r="3.0"/><circle cx="561.6" cy="178.29" r="3.0"/><circle cx="563.35" cy="178.1" r="3.0"/><circle cx="565.1" cy="177.18" r="3.0"/><circle cx="566.85" cy="178.49" r="3.0"/><circle cx="568.6" cy="176.54" r="3.0"/><circle cx="570.35" cy="177.9" r="3.0"/><circle cx="572.1" cy="177.37" r="3.0"/><circle cx="573.85" cy="176.51" r="3.0"/><circle cx="575.6" cy="177.53" r="3.0"/><circle cx="577.35" cy="176.15" r="3.0"/><circle cx="579.1" cy="176.33" r="3.0"/><circle cx="580.85" cy="177.19" r="3.0"/><circle cx="582.6" cy="178.28" r="3.0"/><circle cx="584.35" cy="177.64" r="3.0"/><circle cx="586.1" cy="176.65" r="3.0"/><circle cx="587.85" cy="178.24" r="3.0"/><circle cx="589.6" cy="178.81" r="3.0"/><circle cx="591.35" cy="177.36" r="3.0"/><circle cx="593.1" cy="177.25" r="3.0"/><circle cx="594.85" cy="176.52" r="3.0"/><circle cx="596.6" cy="176.52" r="3.0"/><circle cx="598.35" cy="176.29" r="3.0"/><circle cx="600.1" cy="176.58" r="3.0"/><circle cx="601.85" cy="176.2" r="3.0"/><circle cx="603.6" cy="178.15" r="3.0"/><circle cx="605.35" cy="177.38" r="3.0"/><circle cx="607.1" cy="175.73" r="3.0"/><circle cx="608.85" cy="177.66" r="3.0"/><circle cx="610.6" cy="177.77" r="3.0"/><circle cx="612.35" cy="176.68" r="3.0"/><circle cx="614.1" cy="176.91" r="3.0"/><circle cx="615.85" cy="176.31" r="3.0"/><circle cx="617.6" cy="178.1" r="3.0"/><circle cx="619.35" cy="176.21" r="3.0"/><circle cx="621.1" cy="177.09" r="3.0"/><circle cx="622.85" cy="178.23" r="3.0"/><circle cx="624.6" cy="176.7" r="3.0"/><circle cx="626.35" cy="177.59" r="3.0"/><circle cx="628.1" cy="177.68" r="3.0"/><circle cx="629.85" cy="176.49" r="3.0"/><circle cx="631.6" cy="178.23" r="3.0"/><circle cx="633.35" cy="176.65" r="3.0"/><circle cx="635.1" cy="177.1" r="3.0"/><circle cx="636.85" cy="176.7" r="3.0"/><circle cx="638.6" cy="177.65" r="3.0"/><circle cx="640.35" cy="177.14" r="3.0"/><circle cx="642.1" cy="177.63" r="3.0"/><circle cx="643.85" cy="177.05" r="3.0"/><circle cx="645.6" cy="178.17" r="3.0"/><circle cx="647.35" cy="177.32" r="3.0"/><circle cx="649.1" cy="177.97" r="3.0"/></g><g clip-path="url(#cf)" fill="#fff" stroke="#000" stroke-width="0.9"><circle cx="446.3" cy="175.85" r="3.0"/><circle cx="448.05" cy="178.74" r="3.0"/><circle cx="449.8" cy="179.38" r="3.0"/><circle cx="451.55" cy="182.39" r="3.0"/><circle cx="453.3" cy="185.6" r="3.0"/><circle cx="455.05" cy="188.64" r="3.0"/><circle cx="456.8" cy="190.5" r="3.0"/><circle cx="458.55" cy="194.62" r="3.0"/><circle cx="460.3" cy="197.38" r="3.0"/><circle cx="462.05" cy="198.18" r="3.0"/><circle cx="463.8" cy="203.27" r="3.0"/><circle cx="465.55" cy="207" r="3.0"/><circle cx="467.3" cy="211.01" r="3.0"/><circle cx="469.05" cy="214.76" r="3.0"/><circle cx="470.8" cy="216.51" r="3.0"/><circle cx="472.55" cy="220.01" r="3.0"/><circle cx="474.3" cy="220.4" r="3.0"/><circle cx="476.05" cy="224.28" r="3.0"/><circle cx="477.8" cy="225.18" r="3.0"/><circle cx="479.55" cy="227.35" r="3.0"/><circle cx="481.3" cy="231.13" r="3.0"/><circle cx="483.05" cy="232.57" r="3.0"/><circle cx="484.8" cy="235.97" r="3.0"/><circle cx="486.55" cy="237.71" r="3.0"/><circle cx="488.3" cy="239.69" r="3.0"/><circle cx="490.05" cy="240.36" r="3.0"/><circle cx="491.8" cy="240.4" r="3.0"/><circle cx="493.55" cy="243.04" r="3.0"/><circle cx="495.3" cy="243.14" r="3.0"/><circle cx="497.05" cy="242.34" r="3.0"/><circle cx="498.8" cy="242.19" r="3.0"/><circle cx="500.55" cy="241.01" r="3.0"/><circle cx="502.15" cy="239.15" r="3.0"/><circle cx="503.02" cy="236.87" r="3.0"/><circle cx="503.9" cy="233.77" r="3.0"/><circle cx="504.77" cy="230" r="3.0"/><circle cx="505.48" cy="223.9" r="3.0"/><circle cx="506.3" cy="215.77" r="3.0"/><circle cx="507.2" cy="209.22" r="3.0"/><circle cx="508.4" cy="202.3" r="3.0"/><circle cx="509.8" cy="194.56" r="3.0"/><circle cx="511.3" cy="188.46" r="3.0"/><circle cx="512.75" cy="180.91" r="3.0"/><circle cx="514.3" cy="174.98" r="3.0"/><circle cx="516" cy="168.47" r="3.0"/><circle cx="518.4" cy="161.89" r="3.0"/><circle cx="521.17" cy="157.37" r="3.0"/><circle cx="523.94" cy="155.1" r="3.0"/><circle cx="526.45" cy="152.97" r="3.0"/><circle cx="528.2" cy="156.19" r="3.0"/><circle cx="529.95" cy="158.5" r="3.0"/><circle cx="531.7" cy="160.33" r="3.0"/><circle cx="533.45" cy="163.39" r="3.0"/><circle cx="535.2" cy="164.83" r="3.0"/><circle cx="536.95" cy="166.88" r="3.0"/><circle cx="538.7" cy="169.99" r="3.0"/><circle cx="540.45" cy="171.31" r="3.0"/><circle cx="542.2" cy="172.87" r="3.0"/><circle cx="543.95" cy="175.73" r="3.0"/><circle cx="545.7" cy="175.34" r="3.0"/><circle cx="547.45" cy="176.04" r="3.0"/><circle cx="549.2" cy="177.88" r="3.0"/><circle cx="550.95" cy="178.05" r="3.0"/><circle cx="552.7" cy="177.57" r="3.0"/><circle cx="554.45" cy="177.45" r="3.0"/><circle cx="556.2" cy="178.58" r="3.0"/><circle cx="557.95" cy="178.11" r="3.0"/><circle cx="559.7" cy="177.92" r="3.0"/><circle cx="561.45" cy="178.04" r="3.0"/><circle cx="563.2" cy="179.42" r="3.0"/><circle cx="564.95" cy="178.26" r="3.0"/><circle cx="566.7" cy="178.45" r="3.0"/><circle cx="568.45" cy="177.19" r="3.0"/><circle cx="570.2" cy="177.17" r="3.0"/><circle cx="571.95" cy="176.72" r="3.0"/><circle cx="573.7" cy="177.89" r="3.0"/><circle cx="575.45" cy="177.3" r="3.0"/><circle cx="577.2" cy="176.37" r="3.0"/><circle cx="578.95" cy="179.44" r="3.0"/><circle cx="580.7" cy="177.96" r="3.0"/><circle cx="582.45" cy="177.44" r="3.0"/><circle cx="584.2" cy="178.72" r="3.0"/><circle cx="585.95" cy="178.35" r="3.0"/><circle cx="587.7" cy="178.35" r="3.0"/><circle cx="589.45" cy="179.18" r="3.0"/><circle cx="591.2" cy="178.02" r="3.0"/><circle cx="592.95" cy="178.72" r="3.0"/><circle cx="594.7" cy="177.61" r="3.0"/><circle cx="596.45" cy="177.47" r="3.0"/><circle cx="598.2" cy="177.54" r="3.0"/><circle cx="599.95" cy="178.45" r="3.0"/><circle cx="601.7" cy="178.3" r="3.0"/><circle cx="603.45" cy="177.94" r="3.0"/><circle cx="605.2" cy="179.08" r="3.0"/><circle cx="606.95" cy="177.37" r="3.0"/><circle cx="608.7" cy="178.77" r="3.0"/><circle cx="610.45" cy="179" r="3.0"/><circle cx="612.2" cy="178.59" r="3.0"/><circle cx="613.95" cy="178.74" r="3.0"/><circle cx="615.7" cy="178.17" r="3.0"/><circle cx="617.45" cy="177.56" r="3.0"/><circle cx="619.2" cy="179.17" r="3.0"/><circle cx="620.95" cy="177.86" r="3.0"/><circle cx="622.7" cy="178.81" r="3.0"/><circle cx="624.45" cy="179.42" r="3.0"/><circle cx="626.2" cy="179.18" r="3.0"/><circle cx="627.95" cy="178.58" r="3.0"/><circle cx="629.7" cy="178.59" r="3.0"/><circle cx="631.45" cy="179.22" r="3.0"/><circle cx="633.2" cy="179.36" r="3.0"/><circle cx="634.95" cy="177.76" r="3.0"/><circle cx="636.7" cy="177.46" r="3.0"/><circle cx="638.45" cy="178.69" r="3.0"/><circle cx="640.2" cy="178.87" r="3.0"/><circle cx="641.95" cy="178.5" r="3.0"/><circle cx="643.7" cy="178.53" r="3.0"/><circle cx="645.45" cy="178.18" r="3.0"/><circle cx="647.2" cy="178.63" r="3.0"/><circle cx="648.95" cy="177.41" r="3.0"/></g><g clip-path="url(#ca)"><path d="M33 45.3 L33.5 45.31 L34.01 45.33 L34.51 45.36 L35.01 45.4 L35.51 45.45 L36.02 45.5 L36.52 45.57 L37.02 45.65 L37.52 45.76 L38.03 45.89 L38.53 46.04 L39.03 46.21 L39.53 46.39 L40.04 46.63 L40.54 46.92 L41.04 47.27 L41.54 47.65 L42.05 48.08 L42.55 48.52 L43.05 48.99 L43.55 49.48 L44.06 49.97 L44.56 50.46 L45.06 50.97 L45.56 51.53 L46.07 52.13 L46.57 52.76 L47.07 53.41 L47.57 54.07 L48.08 54.75 L48.58 55.43 L49.08 56.13 L49.58 56.86 L50.09 57.63 L50.59 58.41 L51.09 59.2 L51.59 59.98 L52.1 60.74 L52.6 61.48 L53.1 62.18 L53.6 62.87 L54.11 63.55 L54.61 64.23 L55.11 64.89 L55.61 65.52 L56.12 66.13 L56.62 66.7 L57.12 67.22 L57.62 67.74 L58.13 68.24 L58.63 68.73 L59.13 69.2 L59.63 69.63 L60.14 70.03 L60.64 70.38 L61.14 70.67 L61.64 70.92 L62.15 71.16 L62.65 71.38 L63.15 71.59 L63.65 71.78 L64.16 71.95 L64.66 72.1 L65.16 72.23 L65.66 72.34 L66.17 72.43 L66.67 72.5 L67.17 72.58 L67.67 72.65 L68.18 72.72 L68.68 72.78 L69.18 72.83 L69.68 72.88 L70.19 72.92 L70.69 72.95 L71.19 72.98 L71.69 73 L72.2 73 L72.7 73.01 L73.2 73.01 L73.7 73.02 L74.21 73.02 L74.71 73.03 L75.21 73.03 L75.71 73.04 L76.22 73.04 L76.72 73.04 L77.22 73.05 L77.72 73.05 L78.23 73.06 L78.73 73.06 L79.23 73.07 L79.73 73.07 L80.24 73.07 L80.74 73.08 L81.24 73.08 L81.74 73.08 L82.25 73.09 L82.75 73.09 L83.25 73.1 L83.75 73.1 L84.26 73.1 L84.76 73.11 L85.26 73.11 L85.76 73.11 L86.27 73.12 L86.77 73.12 L87.27 73.12 L87.77 73.13 L88.28 73.13 L88.78 73.13 L89.28 73.13 L89.78 73.14 L90.29 73.14 L90.79 73.14 L91.29 73.15 L91.79 73.15 L92.3 73.15 L92.8 73.15 L93.3 73.16 L93.8 73.16 L94.31 73.16 L94.81 73.16 L95.31 73.17 L95.81 73.17 L96.32 73.17 L96.82 73.17 L97.32 73.17 L97.82 73.18 L98.33 73.18 L98.83 73.18 L99.33 73.18 L99.84 73.19 L100.34 73.19 L100.84 73.19 L101.34 73.19 L101.85 73.19 L102.35 73.19 L102.85 73.2 L103.35 73.2 L103.86 73.2 L104.36 73.2 L104.86 73.2 L105.36 73.2 L105.87 73.21 L106.37 73.21 L106.87 73.21 L107.37 73.21 L107.88 73.21 L108.38 73.21 L108.88 73.21 L109.38 73.22 L109.89 73.22 L110.39 73.22 L110.89 73.22 L111.39 73.22 L111.9 73.22 L112.4 73.22 L112.9 73.23 L113.4 73.23 L113.91 73.23 L114.41 73.23 L114.91 73.23 L115.41 73.23 L115.92 73.23 L116.42 73.23 L116.92 73.23 L117.42 73.24 L117.93 73.24 L118.43 73.24 L118.93 73.24 L119.43 73.24 L119.94 73.24 L120.44 73.24 L120.94 73.24 L121.44 73.24 L121.95 73.24 L122.45 73.24 L122.95 73.25 L123.45 73.25 L123.96 73.25 L124.46 73.25 L124.96 73.25 L125.46 73.25 L125.97 73.25 L126.47 73.25 L126.97 73.25 L127.47 73.25 L127.98 73.25 L128.48 73.26 L128.98 73.26 L129.48 73.26 L129.99 73.26 L130.49 73.26 L130.99 73.26 L131.49 73.26 L132 73.26 L132.5 73.26 L133 73.26 L133.5 73.26 L134.01 73.26 L134.51 73.27 L135.01 73.27 L135.51 73.27 L136.02 73.27 L136.52 73.27 L137.02 73.27 L137.52 73.27 L138.03 73.27 L138.53 73.27 L139.03 73.27 L139.53 73.28 L140.04 73.28 L140.54 73.28 L141.04 73.28 L141.54 73.28 L142.05 73.28 L142.55 73.28 L143.05 73.28 L143.55 73.28 L144.06 73.28 L144.56 73.29 L145.06 73.29 L145.56 73.29 L146.07 73.29 L146.57 73.29 L147.07 73.29 L147.57 73.29 L148.08 73.29 L148.58 73.3 L149.08 73.3 L149.58 73.3 L150.09 73.3 L150.59 73.3 L151.09 73.3 L151.59 73.3 L152.1 73.31 L152.6 73.31 L153.1 73.31 L153.6 73.31 L154.11 73.31 L154.61 73.31 L155.11 73.31 L155.61 73.32 L156.12 73.32 L156.62 73.32 L157.12 73.32 L157.62 73.32 L158.13 73.32 L158.63 73.32 L159.13 73.33 L159.63 73.33 L160.14 73.33 L160.64 73.33 L161.14 73.33 L161.64 73.33 L162.15 73.33 L162.65 73.34 L163.15 73.34 L163.65 73.34 L164.16 73.34 L164.66 73.34 L165.16 73.34 L165.66 73.34 L166.17 73.34 L166.67 73.35 L167.17 73.35 L167.68 73.35 L168.18 73.35 L168.68 73.35 L169.18 73.35 L169.69 73.35 L170.19 73.36 L170.69 73.36 L171.19 73.36 L171.7 73.36 L172.2 73.36 L172.7 73.36 L173.2 73.36 L173.71 73.36 L174.21 73.37 L174.71 73.37 L175.21 73.37 L175.72 73.37 L176.22 73.37 L176.72 73.37 L177.22 73.37 L177.73 73.38 L178.23 73.38 L178.73 73.38 L179.23 73.38 L179.74 73.38 L180.24 73.38 L180.74 73.38 L181.24 73.38 L181.75 73.39 L182.25 73.39 L182.75 73.39 L183.25 73.39 L183.76 73.39 L184.26 73.39 L184.76 73.39 L185.26 73.39 L185.77 73.4 L186.27 73.4 L186.77 73.4 L187.27 73.4 L187.78 73.4 L188.28 73.4 L188.78 73.4 L189.28 73.4 L189.79 73.41 L190.29 73.41 L190.79 73.41 L191.29 73.41 L191.8 73.41 L192.3 73.41 L192.8 73.41 L193.3 73.41 L193.81 73.41 L194.31 73.42 L194.81 73.42 L195.31 73.42 L195.82 73.42 L196.32 73.42 L196.82 73.42 L197.32 73.42 L197.83 73.42 L198.33 73.42 L198.83 73.43 L199.33 73.43 L199.84 73.43 L200.34 73.43 L200.84 73.43 L201.34 73.43 L201.85 73.43 L202.35 73.43 L202.85 73.43 L203.35 73.44 L203.86 73.44 L204.36 73.44 L204.86 73.44 L205.36 73.44 L205.87 73.44 L206.37 73.44 L206.87 73.44 L207.37 73.44 L207.88 73.45 L208.38 73.45 L208.88 73.45 L209.38 73.45 L209.89 73.45 L210.39 73.45 L210.89 73.45 L211.39 73.45 L211.9 73.45 L212.4 73.45 L212.9 73.46 L213.4 73.46 L213.91 73.46 L214.41 73.46 L214.91 73.46 L215.41 73.46 L215.92 73.46 L216.42 73.46 L216.92 73.46 L217.42 73.46 L217.93 73.47 L218.43 73.47 L218.93 73.47 L219.43 73.47 L219.94 73.47 L220.44 73.47 L220.94 73.47 L221.44 73.47 L221.95 73.47 L222.45 73.47 L222.95 73.47 L223.45 73.48 L223.96 73.48 L224.46 73.48 L224.96 73.48 L225.46 73.48 L225.97 73.48 L226.47 73.48 L226.97 73.48 L227.47 73.48 L227.98 73.48 L228.48 73.48 L228.98 73.48 L229.48 73.49 L229.99 73.49 L230.49 73.49 L230.99 73.49 L231.49 73.49 L232 73.49 L232.5 73.49" fill="none" stroke="#000" stroke-width="1.3"/></g><g clip-path="url(#ca)"><path d="M33 45.3 L33.5 45.4 L34.01 45.54 L34.51 45.71 L35.01 45.9 L35.51 46.14 L36.02 46.43 L36.52 46.77 L37.02 47.15 L37.52 47.57 L38.03 48.04 L38.53 48.56 L39.03 49.14 L39.53 49.76 L40.04 50.45 L40.54 51.19 L41.04 51.99 L41.54 52.86 L42.05 53.95 L42.55 55.24 L43.05 56.66 L43.55 58.13 L44.06 59.59 L44.56 60.95 L45.06 62.23 L45.56 63.49 L46.07 64.74 L46.57 65.99 L47.07 67.26 L47.57 68.55 L48.08 69.89 L48.58 71.29 L49.08 72.77 L49.58 74.32 L50.09 75.9 L50.59 77.45 L51.09 78.96 L51.59 80.38 L52.1 81.74 L52.6 83.1 L53.1 84.43 L53.6 85.73 L54.11 86.97 L54.61 88.14 L55.11 89.22 L55.61 90.22 L56.12 91.16 L56.62 92.08 L57.12 92.95 L57.62 93.76 L58.13 94.48 L58.63 95.11 L59.13 95.62 L59.63 96.09 L60.14 96.52 L60.64 96.9 L61.14 97.22 L61.64 97.47 L62.15 97.64 L62.65 97.78 L63.15 97.91 L63.65 98.03 L64.16 98.14 L64.66 98.25 L65.16 98.34 L65.66 98.41 L66.17 98.48 L66.67 98.53 L67.17 98.57 L67.67 98.59 L68.18 98.6 L68.68 98.61 L69.18 98.61 L69.68 98.62 L70.19 98.62 L70.69 98.63 L71.19 98.63 L71.69 98.63 L72.2 98.64 L72.7 98.64 L73.2 98.64 L73.7 98.65 L74.21 98.65 L74.71 98.65 L75.21 98.66 L75.71 98.66 L76.22 98.66 L76.72 98.66 L77.22 98.67 L77.72 98.67 L78.23 98.67 L78.73 98.67 L79.23 98.67 L79.73 98.68 L80.24 98.68 L80.74 98.68 L81.24 98.68 L81.74 98.68 L82.25 98.68 L82.75 98.68 L83.25 98.69 L83.75 98.69 L84.26 98.69 L84.76 98.69 L85.26 98.69 L85.76 98.69 L86.27 98.69 L86.77 98.69 L87.27 98.69 L87.77 98.7 L88.28 98.7 L88.78 98.7 L89.28 98.7 L89.78 98.7 L90.29 98.7 L90.79 98.7 L91.29 98.7 L91.79 98.7 L92.3 98.71 L92.8 98.71 L93.3 98.71 L93.8 98.71 L94.31 98.71 L94.81 98.71 L95.31 98.71 L95.81 98.71 L96.32 98.71 L96.82 98.72 L97.32 98.72 L97.82 98.72 L98.33 98.72 L98.83 98.72 L99.33 98.72 L99.84 98.72 L100.34 98.72 L100.84 98.73 L101.34 98.73 L101.85 98.73 L102.35 98.73 L102.85 98.73 L103.35 98.73 L103.86 98.73 L104.36 98.73 L104.86 98.73 L105.36 98.74 L105.87 98.74 L106.37 98.74 L106.87 98.74 L107.37 98.74 L107.88 98.74 L108.38 98.74 L108.88 98.74 L109.38 98.74 L109.89 98.75 L110.39 98.75 L110.89 98.75 L111.39 98.75 L111.9 98.75 L112.4 98.75 L112.9 98.75 L113.4 98.75 L113.91 98.75 L114.41 98.76 L114.91 98.76 L115.41 98.76 L115.92 98.76 L116.42 98.76 L116.92 98.76 L117.42 98.76 L117.93 98.76 L118.43 98.76 L118.93 98.76 L119.43 98.77 L119.94 98.77 L120.44 98.77 L120.94 98.77 L121.44 98.77 L121.95 98.77 L122.45 98.77 L122.95 98.77 L123.45 98.77 L123.96 98.77 L124.46 98.78 L124.96 98.78 L125.46 98.78 L125.97 98.78 L126.47 98.78 L126.97 98.78 L127.47 98.78 L127.98 98.78 L128.48 98.78 L128.98 98.78 L129.48 98.79 L129.99 98.79 L130.49 98.79 L130.99 98.79 L131.49 98.79 L132 98.79 L132.5 98.79 L133 98.79 L133.5 98.79 L134.01 98.79 L134.51 98.8 L135.01 98.8 L135.51 98.8 L136.02 98.8 L136.52 98.8 L137.02 98.8 L137.52 98.8 L138.03 98.8 L138.53 98.8 L139.03 98.8 L139.53 98.8 L140.04 98.81 L140.54 98.81 L141.04 98.81 L141.54 98.81 L142.05 98.81 L142.55 98.81 L143.05 98.81 L143.55 98.81 L144.06 98.81 L144.56 98.81 L145.06 98.81 L145.56 98.82 L146.07 98.82 L146.57 98.82 L147.07 98.82 L147.57 98.82 L148.08 98.82 L148.58 98.82 L149.08 98.82 L149.58 98.82 L150.09 98.82 L150.59 98.82 L151.09 98.82 L151.59 98.83 L152.1 98.83 L152.6 98.83 L153.1 98.83 L153.6 98.83 L154.11 98.83 L154.61 98.83 L155.11 98.83 L155.61 98.83 L156.12 98.83 L156.62 98.83 L157.12 98.83 L157.62 98.83 L158.13 98.84 L158.63 98.84 L159.13 98.84 L159.63 98.84 L160.14 98.84 L160.64 98.84 L161.14 98.84 L161.64 98.84 L162.15 98.84 L162.65 98.84 L163.15 98.84 L163.65 98.84 L164.16 98.84 L164.66 98.84 L165.16 98.85 L165.66 98.85 L166.17 98.85 L166.67 98.85 L167.17 98.85 L167.68 98.85 L168.18 98.85 L168.68 98.85 L169.18 98.85 L169.69 98.85 L170.19 98.85 L170.69 98.85 L171.19 98.85 L171.7 98.85 L172.2 98.86 L172.7 98.86 L173.2 98.86 L173.71 98.86 L174.21 98.86 L174.71 98.86 L175.21 98.86 L175.72 98.86 L176.22 98.86 L176.72 98.86 L177.22 98.86 L177.73 98.86 L178.23 98.86 L178.73 98.86 L179.23 98.86 L179.74 98.86 L180.24 98.86 L180.74 98.87 L181.24 98.87 L181.75 98.87 L182.25 98.87 L182.75 98.87 L183.25 98.87 L183.76 98.87 L184.26 98.87 L184.76 98.87 L185.26 98.87 L185.77 98.87 L186.27 98.87 L186.77 98.87 L187.27 98.87 L187.78 98.87 L188.28 98.87 L188.78 98.87 L189.28 98.87 L189.79 98.88 L190.29 98.88 L190.79 98.88 L191.29 98.88 L191.8 98.88 L192.3 98.88 L192.8 98.88 L193.3 98.88 L193.81 98.88 L194.31 98.88 L194.81 98.88 L195.31 98.88 L195.82 98.88 L196.32 98.88 L196.82 98.88 L197.32 98.88 L197.83 98.88 L198.33 98.88 L198.83 98.88 L199.33 98.88 L199.84 98.88 L200.34 98.88 L200.84 98.88 L201.34 98.89 L201.85 98.89 L202.35 98.89 L202.85 98.89 L203.35 98.89 L203.86 98.89 L204.36 98.89 L204.86 98.89 L205.36 98.89 L205.87 98.89 L206.37 98.89 L206.87 98.89 L207.37 98.89 L207.88 98.89 L208.38 98.89 L208.88 98.89 L209.38 98.89 L209.89 98.89 L210.39 98.89 L210.89 98.89 L211.39 98.89 L211.9 98.89 L212.4 98.89 L212.9 98.89 L213.4 98.89 L213.91 98.89 L214.41 98.89 L214.91 98.89 L215.41 98.89 L215.92 98.89 L216.42 98.89 L216.92 98.89 L217.42 98.9 L217.93 98.9 L218.43 98.9 L218.93 98.9 L219.43 98.9 L219.94 98.9 L220.44 98.9 L220.94 98.9 L221.44 98.9 L221.95 98.9 L222.45 98.9 L222.95 98.9 L223.45 98.9 L223.96 98.9 L224.46 98.9 L224.96 98.9 L225.46 98.9 L225.97 98.9 L226.47 98.9 L226.97 98.9 L227.47 98.9 L227.98 98.9 L228.48 98.9 L228.98 98.9 L229.48 98.9 L229.99 98.9 L230.49 98.9 L230.99 98.9 L231.49 98.9 L232 98.9 L232.5 98.9" fill="none" stroke="#000" stroke-width="1.3"/></g><g clip-path="url(#ca)"><path d="M33 45.3 L33.5 45.36 L34.01 45.52 L34.51 45.75 L35.01 46.01 L35.51 46.35 L36.02 46.84 L36.52 47.44 L37.02 48.16 L37.52 48.96 L38.03 49.83 L38.53 50.74 L39.03 51.69 L39.53 52.67 L40.04 53.81 L40.54 55.1 L41.04 56.49 L41.54 57.96 L42.05 59.45 L42.55 60.93 L43.05 62.43 L43.55 63.96 L44.06 65.55 L44.56 67.2 L45.06 68.92 L45.56 70.73 L46.07 72.68 L46.57 74.75 L47.07 76.92 L47.57 79.12 L48.08 81.33 L48.58 83.58 L49.08 85.87 L49.58 88.18 L50.09 90.48 L50.59 92.77 L51.09 95.1 L51.59 97.38 L52.1 99.57 L52.6 101.62 L53.1 103.6 L53.6 105.5 L54.11 107.32 L54.61 109.08 L55.11 110.82 L55.61 112.49 L56.12 114 L56.62 115.28 L57.12 116.47 L57.62 117.6 L58.13 118.64 L58.63 119.56 L59.13 120.34 L59.63 120.94 L60.14 121.4 L60.64 121.83 L61.14 122.23 L61.64 122.6 L62.15 122.93 L62.65 123.24 L63.15 123.5 L63.65 123.72 L64.16 123.9 L64.66 124.03 L65.16 124.13 L65.66 124.2 L66.17 124.28 L66.67 124.35 L67.17 124.41 L67.67 124.47 L68.18 124.53 L68.68 124.58 L69.18 124.63 L69.68 124.67 L70.19 124.7 L70.69 124.73 L71.19 124.76 L71.69 124.78 L72.2 124.79 L72.7 124.8 L73.2 124.8 L73.7 124.8 L74.21 124.8 L74.71 124.8 L75.21 124.8 L75.71 124.8 L76.22 124.8 L76.72 124.8 L77.22 124.8 L77.72 124.8 L78.23 124.8 L78.73 124.8 L79.23 124.8 L79.73 124.8 L80.24 124.8 L80.74 124.8 L81.24 124.8 L81.74 124.8 L82.25 124.8 L82.75 124.8 L83.25 124.8 L83.75 124.8 L84.26 124.8 L84.76 124.8 L85.26 124.8 L85.76 124.8 L86.27 124.8 L86.77 124.8 L87.27 124.8 L87.77 124.8 L88.28 124.8 L88.78 124.8 L89.28 124.8 L89.78 124.8 L90.29 124.8 L90.79 124.8 L91.29 124.8 L91.79 124.8 L92.3 124.8 L92.8 124.8 L93.3 124.8 L93.8 124.8 L94.31 124.8 L94.81 124.8 L95.31 124.8 L95.81 124.8 L96.32 124.8 L96.82 124.8 L97.32 124.8 L97.82 124.8 L98.33 124.8 L98.83 124.8 L99.33 124.8 L99.84 124.8 L100.34 124.8 L100.84 124.8 L101.34 124.8 L101.85 124.8 L102.35 124.8 L102.85 124.8 L103.35 124.8 L103.86 124.8 L104.36 124.8 L104.86 124.8 L105.36 124.8 L105.87 124.8 L106.37 124.8 L106.87 124.8 L107.37 124.8 L107.88 124.8 L108.38 124.8 L108.88 124.8 L109.38 124.8 L109.89 124.8 L110.39 124.8 L110.89 124.8 L111.39 124.8 L111.9 124.8 L112.4 124.8 L112.9 124.8 L113.4 124.8 L113.91 124.8 L114.41 124.8 L114.91 124.8 L115.41 124.8 L115.92 124.8 L116.42 124.8 L116.92 124.8 L117.42 124.8 L117.93 124.8 L118.43 124.8 L118.93 124.8 L119.43 124.8 L119.94 124.8 L120.44 124.8 L120.94 124.8 L121.44 124.8 L121.95 124.8 L122.45 124.8 L122.95 124.8 L123.45 124.8 L123.96 124.8 L124.46 124.8 L124.96 124.8 L125.46 124.8 L125.97 124.8 L126.47 124.8 L126.97 124.8 L127.47 124.8 L127.98 124.8 L128.48 124.8 L128.98 124.8 L129.48 124.8 L129.99 124.8 L130.49 124.8 L130.99 124.8 L131.49 124.8 L132 124.8 L132.5 124.8 L133 124.8 L133.5 124.8 L134.01 124.8 L134.51 124.8 L135.01 124.8 L135.51 124.8 L136.02 124.8 L136.52 124.8 L137.02 124.8 L137.52 124.8 L138.03 124.8 L138.53 124.8 L139.03 124.8 L139.53 124.8 L140.04 124.8 L140.54 124.8 L141.04 124.8 L141.54 124.8 L142.05 124.8 L142.55 124.8 L143.05 124.8 L143.55 124.8 L144.06 124.8 L144.56 124.8 L145.06 124.8 L145.56 124.8 L146.07 124.8 L146.57 124.8 L147.07 124.8 L147.57 124.8 L148.08 124.8 L148.58 124.8 L149.08 124.8 L149.58 124.8 L150.09 124.8 L150.59 124.8 L151.09 124.8 L151.59 124.8 L152.1 124.8 L152.6 124.8 L153.1 124.8 L153.6 124.8 L154.11 124.8 L154.61 124.8 L155.11 124.8 L155.61 124.8 L156.12 124.8 L156.62 124.8 L157.12 124.8 L157.62 124.8 L158.13 124.8 L158.63 124.8 L159.13 124.8 L159.63 124.8 L160.14 124.8 L160.64 124.8 L161.14 124.8 L161.64 124.8 L162.15 124.8 L162.65 124.8 L163.15 124.8 L163.65 124.8 L164.16 124.8 L164.66 124.8 L165.16 124.8 L165.66 124.8 L166.17 124.8 L166.67 124.8 L167.17 124.8 L167.68 124.8 L168.18 124.8 L168.68 124.8 L169.18 124.8 L169.69 124.8 L170.19 124.8 L170.69 124.8 L171.19 124.8 L171.7 124.8 L172.2 124.8 L172.7 124.8 L173.2 124.8 L173.71 124.8 L174.21 124.8 L174.71 124.8 L175.21 124.8 L175.72 124.8 L176.22 124.8 L176.72 124.8 L177.22 124.8 L177.73 124.8 L178.23 124.8 L178.73 124.8 L179.23 124.8 L179.74 124.8 L180.24 124.8 L180.74 124.8 L181.24 124.8 L181.75 124.8 L182.25 124.8 L182.75 124.8 L183.25 124.8 L183.76 124.8 L184.26 124.8 L184.76 124.8 L185.26 124.8 L185.77 124.8 L186.27 124.8 L186.77 124.8 L187.27 124.8 L187.78 124.8 L188.28 124.8 L188.78 124.8 L189.28 124.8 L189.79 124.8 L190.29 124.8 L190.79 124.8 L191.29 124.8 L191.8 124.8 L192.3 124.8 L192.8 124.8 L193.3 124.8 L193.81 124.8 L194.31 124.8 L194.81 124.8 L195.31 124.8 L195.82 124.8 L196.32 124.8 L196.82 124.8 L197.32 124.8 L197.83 124.8 L198.33 124.8 L198.83 124.8 L199.33 124.8 L199.84 124.8 L200.34 124.8 L200.84 124.8 L201.34 124.8 L201.85 124.8 L202.35 124.8 L202.85 124.8 L203.35 124.8 L203.86 124.8 L204.36 124.8 L204.86 124.8 L205.36 124.8 L205.87 124.8 L206.37 124.8 L206.87 124.8 L207.37 124.8 L207.88 124.8 L208.38 124.8 L208.88 124.8 L209.38 124.8 L209.89 124.8 L210.39 124.8 L210.89 124.8 L211.39 124.8 L211.9 124.8 L212.4 124.8 L212.9 124.8 L213.4 124.8 L213.91 124.8 L214.41 124.8 L214.91 124.8 L215.41 124.8 L215.92 124.8 L216.42 124.8 L216.92 124.8 L217.42 124.8 L217.93 124.8 L218.43 124.8 L218.93 124.8 L219.43 124.8 L219.94 124.8 L220.44 124.8 L220.94 124.8 L221.44 124.8 L221.95 124.8 L222.45 124.8 L222.95 124.8 L223.45 124.8 L223.96 124.8 L224.46 124.8 L224.96 124.8 L225.46 124.8 L225.97 124.8 L226.47 124.8 L226.97 124.8 L227.47 124.8 L227.98 124.8 L228.48 124.8 L228.98 124.8 L229.48 124.8 L229.99 124.8 L230.49 124.8 L230.99 124.8 L231.49 124.8 L232 124.8 L232.5 124.8" fill="none" stroke="#000" stroke-width="1.3"/></g><g clip-path="url(#cb)"><path d="M240 45.75 L240.5 46.19 L241 46.63 L241.51 47.06 L242.01 47.49 L242.51 47.92 L243.01 48.34 L243.52 48.76 L244.02 49.18 L244.52 49.6 L245.02 50.01 L245.53 50.42 L246.03 50.83 L246.53 51.23 L247.03 51.63 L247.54 52.03 L248.04 52.42 L248.54 52.81 L249.04 53.19 L249.55 53.57 L250.05 53.94 L250.55 54.32 L251.05 54.69 L251.56 55.05 L252.06 55.42 L252.56 55.79 L253.06 56.16 L253.57 56.53 L254.07 56.9 L254.57 57.28 L255.07 57.66 L255.58 58.04 L256.08 58.44 L256.58 58.84 L257.08 59.25 L257.59 59.66 L258.09 60.08 L258.59 60.5 L259.09 60.93 L259.6 61.35 L260.1 61.77 L260.6 62.19 L261.1 62.61 L261.61 63.02 L262.11 63.43 L262.61 63.83 L263.11 64.23 L263.62 64.61 L264.12 64.99 L264.62 65.35 L265.12 65.7 L265.63 66.04 L266.13 66.37 L266.63 66.67 L267.13 66.96 L267.64 67.24 L268.14 67.51 L268.64 67.77 L269.14 68.03 L269.65 68.28 L270.15 68.52 L270.65 68.76 L271.15 68.99 L271.66 69.22 L272.16 69.44 L272.66 69.66 L273.16 69.88 L273.67 70.09 L274.17 70.3 L274.67 70.5 L275.17 70.7 L275.68 70.9 L276.18 71.09 L276.68 71.28 L277.18 71.48 L277.69 71.66 L278.19 71.85 L278.69 72.04 L279.19 72.22 L279.7 72.41 L280.2 72.59 L280.7 72.77 L281.2 72.95 L281.71 73.13 L282.21 73.3 L282.71 73.47 L283.21 73.64 L283.72 73.81 L284.22 73.97 L284.72 74.14 L285.22 74.3 L285.73 74.46 L286.23 74.62 L286.73 74.77 L287.23 74.93 L287.74 75.08 L288.24 75.23 L288.74 75.38 L289.24 75.53 L289.75 75.67 L290.25 75.82 L290.75 75.96 L291.25 76.1 L291.75 76.24 L292.26 76.38 L292.76 76.52 L293.26 76.66 L293.76 76.8 L294.27 76.93 L294.77 77.07 L295.27 77.21 L295.77 77.34 L296.28 77.47 L296.78 77.6 L297.28 77.73 L297.78 77.86 L298.29 77.99 L298.79 78.11 L299.29 78.23 L299.79 78.35 L300.3 78.47 L300.8 78.58 L301.3 78.69 L301.8 78.8 L302.31 78.91 L302.81 79.01 L303.31 79.11 L303.81 79.2 L304.32 79.3 L304.82 79.39 L305.32 79.48 L305.82 79.57 L306.33 79.66 L306.83 79.74 L307.33 79.83 L307.83 79.91 L308.34 79.99 L308.84 80.08 L309.34 80.15 L309.84 80.23 L310.35 80.31 L310.85 80.38 L311.35 80.45 L311.85 80.52 L312.36 80.59 L312.86 80.65 L313.36 80.71 L313.86 80.77 L314.37 80.83 L314.87 80.89 L315.37 80.94 L315.87 80.99 L316.38 81.04 L316.88 81.09 L317.38 81.14 L317.88 81.19 L318.39 81.23 L318.89 81.28 L319.39 81.32 L319.89 81.36 L320.4 81.4 L320.9 81.44 L321.4 81.48 L321.9 81.52 L322.41 81.56 L322.91 81.6 L323.41 81.64 L323.91 81.67 L324.42 81.71 L324.92 81.75 L325.42 81.78 L325.92 81.82 L326.43 81.85 L326.93 81.89 L327.43 81.92 L327.93 81.96 L328.44 81.99 L328.94 82.03 L329.44 82.06 L329.94 82.1 L330.45 82.13 L330.95 82.17 L331.45 82.2 L331.95 82.23 L332.46 82.27 L332.96 82.3 L333.46 82.33 L333.96 82.37 L334.47 82.4 L334.97 82.43 L335.47 82.46 L335.97 82.5 L336.48 82.53 L336.98 82.56 L337.48 82.59 L337.98 82.62 L338.49 82.65 L338.99 82.69 L339.49 82.72 L339.99 82.75 L340.5 82.78 L341 82.81 L341.5 82.84 L342 82.87 L342.5 82.9 L343.01 82.93 L343.51 82.96 L344.01 82.99 L344.51 83.01 L345.02 83.04 L345.52 83.07 L346.02 83.1 L346.52 83.13 L347.03 83.16 L347.53 83.19 L348.03 83.22 L348.53 83.24 L349.04 83.27 L349.54 83.3 L350.04 83.33 L350.54 83.36 L351.05 83.38 L351.55 83.41 L352.05 83.44 L352.55 83.47 L353.06 83.49 L353.56 83.52 L354.06 83.55 L354.56 83.58 L355.07 83.6 L355.57 83.63 L356.07 83.66 L356.57 83.69 L357.08 83.71 L357.58 83.74 L358.08 83.77 L358.58 83.79 L359.09 83.82 L359.59 83.85 L360.09 83.88 L360.59 83.9 L361.1 83.93 L361.6 83.96 L362.1 83.99 L362.6 84.01 L363.11 84.04 L363.61 84.07 L364.11 84.09 L364.61 84.12 L365.12 84.15 L365.62 84.17 L366.12 84.2 L366.62 84.23 L367.13 84.25 L367.63 84.28 L368.13 84.31 L368.63 84.33 L369.14 84.36 L369.64 84.39 L370.14 84.41 L370.64 84.44 L371.15 84.47 L371.65 84.49 L372.15 84.52 L372.65 84.54 L373.16 84.57 L373.66 84.6 L374.16 84.62 L374.66 84.65 L375.17 84.67 L375.67 84.7 L376.17 84.73 L376.67 84.75 L377.18 84.78 L377.68 84.8 L378.18 84.83 L378.68 84.85 L379.19 84.88 L379.69 84.9 L380.19 84.93 L380.69 84.95 L381.2 84.98 L381.7 85 L382.2 85.02 L382.7 85.05 L383.21 85.07 L383.71 85.1 L384.21 85.12 L384.71 85.14 L385.22 85.17 L385.72 85.19 L386.22 85.21 L386.72 85.24 L387.23 85.26 L387.73 85.28 L388.23 85.31 L388.73 85.33 L389.24 85.35 L389.74 85.37 L390.24 85.4 L390.74 85.42 L391.25 85.44 L391.75 85.46 L392.25 85.48 L392.75 85.51 L393.25 85.53 L393.76 85.55 L394.26 85.57 L394.76 85.59 L395.26 85.61 L395.77 85.63 L396.27 85.65 L396.77 85.67 L397.27 85.69 L397.78 85.71 L398.28 85.73 L398.78 85.75 L399.28 85.77 L399.79 85.79 L400.29 85.81 L400.79 85.83 L401.29 85.85 L401.8 85.87 L402.3 85.89 L402.8 85.91 L403.3 85.92 L403.81 85.94 L404.31 85.96 L404.81 85.98 L405.31 86 L405.82 86.02 L406.32 86.04 L406.82 86.05 L407.32 86.07 L407.83 86.09 L408.33 86.11 L408.83 86.13 L409.33 86.14 L409.84 86.16 L410.34 86.18 L410.84 86.2 L411.34 86.22 L411.85 86.23 L412.35 86.25 L412.85 86.27 L413.35 86.29 L413.86 86.3 L414.36 86.32 L414.86 86.34 L415.36 86.35 L415.87 86.37 L416.37 86.39 L416.87 86.41 L417.37 86.42 L417.88 86.44 L418.38 86.46 L418.88 86.47 L419.38 86.49 L419.89 86.51 L420.39 86.52 L420.89 86.54 L421.39 86.55 L421.9 86.57 L422.4 86.59 L422.9 86.6 L423.4 86.62 L423.91 86.63 L424.41 86.65 L424.91 86.66 L425.41 86.68 L425.92 86.69 L426.42 86.71 L426.92 86.73 L427.42 86.74 L427.93 86.76 L428.43 86.77 L428.93 86.78 L429.43 86.8 L429.94 86.81 L430.44 86.83 L430.94 86.84 L431.44 86.86 L431.95 86.87 L432.45 86.88 L432.95 86.9 L433.45 86.91 L433.96 86.93 L434.46 86.94 L434.96 86.95 L435.46 86.97 L435.97 86.98 L436.47 86.99 L436.97 87.01 L437.47 87.02 L437.98 87.03 L438.48 87.05 L438.98 87.06 L439.48 87.07 L439.99 87.08 L440.49 87.09 L440.99 87.11 L441.49 87.12 L442 87.13 L442.5 87.14 L443 87.15" fill="none" stroke="#000" stroke-width="1.3"/></g><g clip-path="url(#cb)"><path d="M240 45.98 L240.5 46.69 L241 47.4 L241.51 48.09 L242.01 48.78 L242.51 49.45 L243.01 50.11 L243.52 50.77 L244.02 51.41 L244.52 52.03 L245.02 52.65 L245.53 53.25 L246.03 53.85 L246.53 54.42 L247.03 54.99 L247.54 55.54 L248.04 56.07 L248.54 56.59 L249.04 57.09 L249.55 57.57 L250.05 58.04 L250.55 58.5 L251.05 58.96 L251.56 59.41 L252.06 59.86 L252.56 60.31 L253.06 60.77 L253.57 61.23 L254.07 61.7 L254.57 62.18 L255.07 62.67 L255.58 63.18 L256.08 63.7 L256.58 64.24 L257.08 64.78 L257.59 65.33 L258.09 65.89 L258.59 66.45 L259.09 67.01 L259.6 67.58 L260.1 68.15 L260.6 68.72 L261.1 69.29 L261.61 69.85 L262.11 70.41 L262.61 70.97 L263.11 71.52 L263.62 72.05 L264.12 72.58 L264.62 73.1 L265.12 73.6 L265.63 74.08 L266.13 74.56 L266.63 75.01 L267.13 75.44 L267.64 75.86 L268.14 76.28 L268.64 76.68 L269.14 77.08 L269.65 77.47 L270.15 77.86 L270.65 78.24 L271.15 78.61 L271.66 78.98 L272.16 79.34 L272.66 79.7 L273.16 80.05 L273.67 80.39 L274.17 80.73 L274.67 81.07 L275.17 81.4 L275.68 81.72 L276.18 82.04 L276.68 82.36 L277.18 82.67 L277.69 82.98 L278.19 83.28 L278.69 83.58 L279.19 83.88 L279.7 84.17 L280.2 84.46 L280.7 84.74 L281.2 85.02 L281.71 85.3 L282.21 85.57 L282.71 85.84 L283.21 86.1 L283.72 86.36 L284.22 86.62 L284.72 86.87 L285.22 87.12 L285.73 87.37 L286.23 87.61 L286.73 87.86 L287.23 88.1 L287.74 88.33 L288.24 88.57 L288.74 88.8 L289.24 89.04 L289.75 89.26 L290.25 89.49 L290.75 89.72 L291.25 89.94 L291.75 90.17 L292.26 90.39 L292.76 90.62 L293.26 90.85 L293.76 91.07 L294.27 91.3 L294.77 91.52 L295.27 91.75 L295.77 91.97 L296.28 92.19 L296.78 92.41 L297.28 92.63 L297.78 92.84 L298.29 93.05 L298.79 93.26 L299.29 93.46 L299.79 93.65 L300.3 93.84 L300.8 94.03 L301.3 94.21 L301.8 94.38 L302.31 94.55 L302.81 94.71 L303.31 94.86 L303.81 95 L304.32 95.14 L304.82 95.28 L305.32 95.41 L305.82 95.54 L306.33 95.66 L306.83 95.78 L307.33 95.9 L307.83 96.01 L308.34 96.13 L308.84 96.24 L309.34 96.34 L309.84 96.45 L310.35 96.55 L310.85 96.65 L311.35 96.75 L311.85 96.84 L312.36 96.94 L312.86 97.03 L313.36 97.12 L313.86 97.21 L314.37 97.29 L314.87 97.38 L315.37 97.46 L315.87 97.54 L316.38 97.62 L316.88 97.7 L317.38 97.78 L317.88 97.86 L318.39 97.93 L318.89 98.01 L319.39 98.08 L319.89 98.15 L320.4 98.22 L320.9 98.29 L321.4 98.36 L321.9 98.43 L322.41 98.49 L322.91 98.56 L323.41 98.62 L323.91 98.69 L324.42 98.75 L324.92 98.81 L325.42 98.87 L325.92 98.93 L326.43 98.99 L326.93 99.05 L327.43 99.11 L327.93 99.17 L328.44 99.22 L328.94 99.28 L329.44 99.34 L329.94 99.39 L330.45 99.45 L330.95 99.5 L331.45 99.56 L331.95 99.62 L332.46 99.67 L332.96 99.73 L333.46 99.78 L333.96 99.84 L334.47 99.89 L334.97 99.94 L335.47 100 L335.97 100.05 L336.48 100.11 L336.98 100.16 L337.48 100.21 L337.98 100.27 L338.49 100.32 L338.99 100.37 L339.49 100.42 L339.99 100.47 L340.5 100.52 L341 100.57 L341.5 100.62 L342 100.67 L342.5 100.72 L343.01 100.77 L343.51 100.82 L344.01 100.86 L344.51 100.91 L345.02 100.96 L345.52 101 L346.02 101.05 L346.52 101.09 L347.03 101.13 L347.53 101.17 L348.03 101.22 L348.53 101.26 L349.04 101.3 L349.54 101.34 L350.04 101.37 L350.54 101.41 L351.05 101.45 L351.55 101.48 L352.05 101.52 L352.55 101.55 L353.06 101.58 L353.56 101.62 L354.06 101.65 L354.56 101.68 L355.07 101.7 L355.57 101.73 L356.07 101.76 L356.57 101.79 L357.08 101.81 L357.58 101.84 L358.08 101.87 L358.58 101.89 L359.09 101.92 L359.59 101.94 L360.09 101.97 L360.59 101.99 L361.1 102.02 L361.6 102.04 L362.1 102.07 L362.6 102.09 L363.11 102.11 L363.61 102.14 L364.11 102.16 L364.61 102.18 L365.12 102.2 L365.62 102.23 L366.12 102.25 L366.62 102.27 L367.13 102.29 L367.63 102.31 L368.13 102.33 L368.63 102.35 L369.14 102.37 L369.64 102.39 L370.14 102.41 L370.64 102.43 L371.15 102.45 L371.65 102.47 L372.15 102.49 L372.65 102.51 L373.16 102.53 L373.66 102.55 L374.16 102.57 L374.66 102.59 L375.17 102.6 L375.67 102.62 L376.17 102.64 L376.67 102.66 L377.18 102.68 L377.68 102.69 L378.18 102.71 L378.68 102.73 L379.19 102.75 L379.69 102.76 L380.19 102.78 L380.69 102.8 L381.2 102.81 L381.7 102.83 L382.2 102.85 L382.7 102.86 L383.21 102.88 L383.71 102.9 L384.21 102.91 L384.71 102.93 L385.22 102.94 L385.72 102.96 L386.22 102.98 L386.72 102.99 L387.23 103.01 L387.73 103.02 L388.23 103.04 L388.73 103.05 L389.24 103.07 L389.74 103.08 L390.24 103.1 L390.74 103.12 L391.25 103.13 L391.75 103.15 L392.25 103.16 L392.75 103.18 L393.25 103.19 L393.76 103.21 L394.26 103.22 L394.76 103.24 L395.26 103.25 L395.77 103.27 L396.27 103.28 L396.77 103.3 L397.27 103.32 L397.78 103.33 L398.28 103.35 L398.78 103.36 L399.28 103.38 L399.79 103.39 L400.29 103.41 L400.79 103.42 L401.29 103.44 L401.8 103.46 L402.3 103.47 L402.8 103.49 L403.3 103.5 L403.81 103.52 L404.31 103.53 L404.81 103.55 L405.31 103.56 L405.82 103.58 L406.32 103.59 L406.82 103.61 L407.32 103.62 L407.83 103.64 L408.33 103.65 L408.83 103.67 L409.33 103.68 L409.84 103.7 L410.34 103.71 L410.84 103.73 L411.34 103.74 L411.85 103.76 L412.35 103.77 L412.85 103.79 L413.35 103.8 L413.86 103.82 L414.36 103.83 L414.86 103.85 L415.36 103.86 L415.87 103.87 L416.37 103.89 L416.87 103.9 L417.37 103.92 L417.88 103.93 L418.38 103.94 L418.88 103.96 L419.38 103.97 L419.89 103.99 L420.39 104 L420.89 104.01 L421.39 104.03 L421.9 104.04 L422.4 104.05 L422.9 104.07 L423.4 104.08 L423.91 104.09 L424.41 104.11 L424.91 104.12 L425.41 104.13 L425.92 104.15 L426.42 104.16 L426.92 104.17 L427.42 104.19 L427.93 104.2 L428.43 104.21 L428.93 104.23 L429.43 104.24 L429.94 104.25 L430.44 104.26 L430.94 104.28 L431.44 104.29 L431.95 104.3 L432.45 104.31 L432.95 104.33 L433.45 104.34 L433.96 104.35 L434.46 104.36 L434.96 104.37 L435.46 104.39 L435.97 104.4 L436.47 104.41 L436.97 104.42 L437.47 104.43 L437.98 104.44 L438.48 104.46 L438.98 104.47 L439.48 104.48 L439.99 104.49 L440.49 104.5 L440.99 104.51 L441.49 104.52 L442 104.54 L442.5 104.55 L443 104.56" fill="none" stroke="#000" stroke-width="1.3"/></g><g clip-path="url(#cb)"><path d="M240 46.27 L240.5 47.34 L241 48.39 L241.51 49.43 L242.01 50.44 L242.51 51.42 L243.01 52.38 L243.52 53.31 L244.02 54.21 L244.52 55.08 L245.02 55.91 L245.53 56.71 L246.03 57.47 L246.53 58.18 L247.03 58.86 L247.54 59.51 L248.04 60.12 L248.54 60.7 L249.04 61.27 L249.55 61.81 L250.05 62.34 L250.55 62.86 L251.05 63.37 L251.56 63.88 L252.06 64.39 L252.56 64.9 L253.06 65.42 L253.57 65.96 L254.07 66.52 L254.57 67.09 L255.07 67.69 L255.58 68.31 L256.08 68.96 L256.58 69.62 L257.08 70.29 L257.59 70.98 L258.09 71.68 L258.59 72.39 L259.09 73.11 L259.6 73.83 L260.1 74.56 L260.6 75.28 L261.1 76.01 L261.61 76.73 L262.11 77.45 L262.61 78.16 L263.11 78.87 L263.62 79.56 L264.12 80.24 L264.62 80.9 L265.12 81.55 L265.63 82.18 L266.13 82.78 L266.63 83.37 L267.13 83.93 L267.64 84.47 L268.14 85 L268.64 85.53 L269.14 86.04 L269.65 86.55 L270.15 87.06 L270.65 87.55 L271.15 88.04 L271.66 88.53 L272.16 89 L272.66 89.47 L273.16 89.93 L273.67 90.38 L274.17 90.82 L274.67 91.26 L275.17 91.69 L275.68 92.11 L276.18 92.52 L276.68 92.93 L277.18 93.33 L277.69 93.72 L278.19 94.11 L278.69 94.48 L279.19 94.85 L279.7 95.21 L280.2 95.57 L280.7 95.91 L281.2 96.26 L281.71 96.59 L282.21 96.92 L282.71 97.25 L283.21 97.56 L283.72 97.88 L284.22 98.19 L284.72 98.49 L285.22 98.79 L285.73 99.09 L286.23 99.38 L286.73 99.67 L287.23 99.95 L287.74 100.23 L288.24 100.51 L288.74 100.78 L289.24 101.05 L289.75 101.32 L290.25 101.59 L290.75 101.86 L291.25 102.12 L291.75 102.38 L292.26 102.64 L292.76 102.9 L293.26 103.16 L293.76 103.41 L294.27 103.67 L294.77 103.92 L295.27 104.17 L295.77 104.41 L296.28 104.66 L296.78 104.9 L297.28 105.14 L297.78 105.38 L298.29 105.61 L298.79 105.84 L299.29 106.06 L299.79 106.29 L300.3 106.5 L300.8 106.72 L301.3 106.93 L301.8 107.13 L302.31 107.33 L302.81 107.53 L303.31 107.72 L303.81 107.91 L304.32 108.09 L304.82 108.26 L305.32 108.44 L305.82 108.61 L306.33 108.78 L306.83 108.95 L307.33 109.11 L307.83 109.27 L308.34 109.43 L308.84 109.59 L309.34 109.74 L309.84 109.89 L310.35 110.04 L310.85 110.18 L311.35 110.33 L311.85 110.47 L312.36 110.6 L312.86 110.74 L313.36 110.88 L313.86 111.01 L314.37 111.14 L314.87 111.27 L315.37 111.39 L315.87 111.52 L316.38 111.64 L316.88 111.76 L317.38 111.88 L317.88 112 L318.39 112.12 L318.89 112.24 L319.39 112.35 L319.89 112.46 L320.4 112.58 L320.9 112.69 L321.4 112.8 L321.9 112.9 L322.41 113.01 L322.91 113.12 L323.41 113.22 L323.91 113.33 L324.42 113.43 L324.92 113.53 L325.42 113.63 L325.92 113.73 L326.43 113.83 L326.93 113.92 L327.43 114.02 L327.93 114.12 L328.44 114.21 L328.94 114.3 L329.44 114.4 L329.94 114.49 L330.45 114.58 L330.95 114.67 L331.45 114.77 L331.95 114.86 L332.46 114.95 L332.96 115.05 L333.46 115.14 L333.96 115.23 L334.47 115.33 L334.97 115.42 L335.47 115.51 L335.97 115.61 L336.48 115.7 L336.98 115.79 L337.48 115.88 L337.98 115.97 L338.49 116.06 L338.99 116.16 L339.49 116.25 L339.99 116.33 L340.5 116.42 L341 116.51 L341.5 116.6 L342 116.68 L342.5 116.77 L343.01 116.85 L343.51 116.94 L344.01 117.02 L344.51 117.1 L345.02 117.18 L345.52 117.25 L346.02 117.33 L346.52 117.41 L347.03 117.48 L347.53 117.55 L348.03 117.62 L348.53 117.69 L349.04 117.76 L349.54 117.82 L350.04 117.89 L350.54 117.95 L351.05 118.01 L351.55 118.07 L352.05 118.12 L352.55 118.17 L353.06 118.22 L353.56 118.27 L354.06 118.32 L354.56 118.36 L355.07 118.41 L355.57 118.45 L356.07 118.49 L356.57 118.52 L357.08 118.56 L357.58 118.6 L358.08 118.64 L358.58 118.68 L359.09 118.71 L359.59 118.75 L360.09 118.79 L360.59 118.82 L361.1 118.86 L361.6 118.89 L362.1 118.93 L362.6 118.96 L363.11 118.99 L363.61 119.03 L364.11 119.06 L364.61 119.09 L365.12 119.12 L365.62 119.15 L366.12 119.19 L366.62 119.22 L367.13 119.25 L367.63 119.28 L368.13 119.31 L368.63 119.34 L369.14 119.36 L369.64 119.39 L370.14 119.42 L370.64 119.45 L371.15 119.48 L371.65 119.5 L372.15 119.53 L372.65 119.56 L373.16 119.58 L373.66 119.61 L374.16 119.63 L374.66 119.66 L375.17 119.68 L375.67 119.71 L376.17 119.73 L376.67 119.76 L377.18 119.78 L377.68 119.81 L378.18 119.83 L378.68 119.85 L379.19 119.88 L379.69 119.9 L380.19 119.92 L380.69 119.94 L381.2 119.97 L381.7 119.99 L382.2 120.01 L382.7 120.03 L383.21 120.05 L383.71 120.07 L384.21 120.09 L384.71 120.12 L385.22 120.14 L385.72 120.16 L386.22 120.18 L386.72 120.2 L387.23 120.22 L387.73 120.24 L388.23 120.26 L388.73 120.28 L389.24 120.3 L389.74 120.32 L390.24 120.34 L390.74 120.35 L391.25 120.37 L391.75 120.39 L392.25 120.41 L392.75 120.43 L393.25 120.45 L393.76 120.47 L394.26 120.49 L394.76 120.51 L395.26 120.53 L395.77 120.54 L396.27 120.56 L396.77 120.58 L397.27 120.6 L397.78 120.62 L398.28 120.64 L398.78 120.66 L399.28 120.67 L399.79 120.69 L400.29 120.71 L400.79 120.73 L401.29 120.75 L401.8 120.77 L402.3 120.78 L402.8 120.8 L403.3 120.82 L403.81 120.84 L404.31 120.86 L404.81 120.87 L405.31 120.89 L405.82 120.91 L406.32 120.93 L406.82 120.95 L407.32 120.96 L407.83 120.98 L408.33 121 L408.83 121.02 L409.33 121.03 L409.84 121.05 L410.34 121.07 L410.84 121.09 L411.34 121.1 L411.85 121.12 L412.35 121.14 L412.85 121.15 L413.35 121.17 L413.86 121.19 L414.36 121.2 L414.86 121.22 L415.36 121.24 L415.87 121.25 L416.37 121.27 L416.87 121.28 L417.37 121.3 L417.88 121.32 L418.38 121.33 L418.88 121.35 L419.38 121.36 L419.89 121.38 L420.39 121.39 L420.89 121.41 L421.39 121.42 L421.9 121.44 L422.4 121.45 L422.9 121.47 L423.4 121.48 L423.91 121.5 L424.41 121.51 L424.91 121.53 L425.41 121.54 L425.92 121.56 L426.42 121.57 L426.92 121.58 L427.42 121.6 L427.93 121.61 L428.43 121.63 L428.93 121.64 L429.43 121.65 L429.94 121.67 L430.44 121.68 L430.94 121.69 L431.44 121.7 L431.95 121.72 L432.45 121.73 L432.95 121.74 L433.45 121.75 L433.96 121.77 L434.46 121.78 L434.96 121.79 L435.46 121.8 L435.97 121.81 L436.47 121.83 L436.97 121.84 L437.47 121.85 L437.98 121.86 L438.48 121.87 L438.98 121.88 L439.48 121.89 L439.99 121.9 L440.49 121.91 L440.99 121.92 L441.49 121.93 L442 121.94 L442.5 121.95 L443 121.96" fill="none" stroke="#000" stroke-width="1.3"/></g><g clip-path="url(#cc)"><path d="M446 41.2 L446.5 41.22 L447.01 41.27 L447.51 41.35 L448.01 41.46 L448.52 41.59 L449.02 41.75 L449.52 41.92 L450.03 42.12 L450.53 42.33 L451.03 42.56 L451.54 42.8 L452.04 43.05 L452.54 43.32 L453.04 43.59 L453.55 43.87 L454.05 44.15 L454.55 44.43 L455.06 44.75 L455.56 45.12 L456.06 45.54 L456.57 46 L457.07 46.5 L457.57 47.02 L458.08 47.57 L458.58 48.14 L459.08 48.72 L459.59 49.31 L460.09 49.9 L460.59 50.48 L461.1 51.06 L461.6 51.66 L462.1 52.28 L462.61 52.91 L463.11 53.56 L463.61 54.23 L464.12 54.91 L464.62 55.6 L465.12 56.3 L465.63 57.01 L466.13 57.73 L466.63 58.46 L467.13 59.2 L467.64 59.97 L468.14 60.79 L468.64 61.63 L469.15 62.49 L469.65 63.35 L470.15 64.21 L470.66 65.05 L471.16 65.86 L471.66 66.63 L472.17 67.35 L472.67 68.04 L473.17 68.73 L473.68 69.41 L474.18 70.07 L474.68 70.71 L475.19 71.33 L475.69 71.92 L476.19 72.47 L476.7 72.98 L477.2 73.45 L477.7 73.87 L478.21 74.29 L478.71 74.72 L479.21 75.13 L479.72 75.51 L480.22 75.82 L480.72 76.05 L481.22 76.18 L481.73 76.2 L482.23 76.18 L482.73 76.14 L483.24 76.09 L483.74 76.02 L484.24 75.94 L484.75 75.85 L485.25 75.75 L485.75 75.65 L486.26 75.55 L486.76 75.44 L487.26 75.33 L487.77 75.23 L488.27 75.12 L488.77 75 L489.28 74.86 L489.78 74.7 L490.28 74.55 L490.79 74.38 L491.29 74.22 L491.79 74.05 L492.3 73.9 L492.8 73.75 L493.3 73.62 L493.8 73.51 L494.31 73.41 L494.81 73.34 L495.31 73.27 L495.82 73.19 L496.32 73.13 L496.82 73.06 L497.33 73 L497.83 72.94 L498.33 72.88 L498.84 72.82 L499.34 72.77 L499.84 72.72 L500.35 72.67 L500.85 72.62 L501.35 72.58 L501.86 72.53 L502.36 72.49 L502.86 72.45 L503.37 72.41 L503.87 72.38 L504.37 72.34 L504.88 72.31 L505.38 72.27 L505.88 72.24 L506.39 72.21 L506.89 72.18 L507.39 72.15 L507.89 72.13 L508.4 72.1 L508.9 72.07 L509.4 72.04 L509.91 72.01 L510.41 71.99 L510.91 71.96 L511.42 71.93 L511.92 71.91 L512.42 71.88 L512.93 71.86 L513.43 71.83 L513.93 71.81 L514.44 71.78 L514.94 71.76 L515.44 71.74 L515.95 71.71 L516.45 71.69 L516.95 71.67 L517.46 71.65 L517.96 71.63 L518.46 71.61 L518.97 71.59 L519.47 71.57 L519.97 71.55 L520.48 71.53 L520.98 71.51 L521.48 71.5 L521.98 71.48 L522.49 71.46 L522.99 71.45 L523.49 71.43 L524 71.42 L524.5 71.4 L525 71.39 L525.51 71.38 L526.01 71.37 L526.51 71.36 L527.02 71.35 L527.52 71.34 L528.02 71.33 L528.53 71.32 L529.03 71.31 L529.53 71.31 L530.04 71.3 L530.54 71.29 L531.04 71.29 L531.55 71.28 L532.05 71.28 L532.55 71.27 L533.06 71.27 L533.56 71.26 L534.06 71.26 L534.56 71.25 L535.07 71.25 L535.57 71.24 L536.07 71.24 L536.58 71.23 L537.08 71.23 L537.58 71.22 L538.09 71.22 L538.59 71.21 L539.09 71.21 L539.6 71.2 L540.1 71.2 L540.6 71.19 L541.11 71.19 L541.61 71.19 L542.11 71.18 L542.62 71.18 L543.12 71.17 L543.62 71.17 L544.13 71.17 L544.63 71.16 L545.13 71.16 L545.64 71.15 L546.14 71.15 L546.64 71.15 L547.15 71.14 L547.65 71.14 L548.15 71.14 L548.65 71.13 L549.16 71.13 L549.66 71.13 L550.16 71.12 L550.67 71.12 L551.17 71.12 L551.67 71.11 L552.18 71.11 L552.68 71.11 L553.18 71.1 L553.69 71.1 L554.19 71.1 L554.69 71.09 L555.2 71.09 L555.7 71.09 L556.2 71.09 L556.71 71.08 L557.21 71.08 L557.71 71.08 L558.22 71.07 L558.72 71.07 L559.22 71.07 L559.73 71.07 L560.23 71.06 L560.73 71.06 L561.24 71.06 L561.74 71.06 L562.24 71.05 L562.74 71.05 L563.25 71.05 L563.75 71.05 L564.25 71.04 L564.76 71.04 L565.26 71.04 L565.76 71.04 L566.27 71.03 L566.77 71.03 L567.27 71.03 L567.78 71.03 L568.28 71.03 L568.78 71.02 L569.29 71.02 L569.79 71.02 L570.29 71.02 L570.8 71.02 L571.3 71.01 L571.8 71.01 L572.31 71.01 L572.81 71.01 L573.31 71.01 L573.82 71 L574.32 71 L574.82 71 L575.32 71 L575.83 71 L576.33 70.99 L576.83 70.99 L577.34 70.99 L577.84 70.99 L578.34 70.99 L578.85 70.98 L579.35 70.98 L579.85 70.98 L580.36 70.98 L580.86 70.98 L581.36 70.97 L581.87 70.97 L582.37 70.97 L582.87 70.97 L583.38 70.97 L583.88 70.96 L584.38 70.96 L584.89 70.96 L585.39 70.96 L585.89 70.96 L586.4 70.96 L586.9 70.95 L587.4 70.95 L587.91 70.95 L588.41 70.95 L588.91 70.95 L589.41 70.94 L589.92 70.94 L590.42 70.94 L590.92 70.94 L591.43 70.94 L591.93 70.93 L592.43 70.93 L592.94 70.93 L593.44 70.93 L593.94 70.93 L594.45 70.92 L594.95 70.92 L595.45 70.92 L595.96 70.92 L596.46 70.92 L596.96 70.91 L597.47 70.91 L597.97 70.91 L598.47 70.91 L598.98 70.9 L599.48 70.9 L599.98 70.9 L600.49 70.9 L600.99 70.9 L601.49 70.89 L602 70.89 L602.5 70.89 L603 70.89 L603.5 70.88 L604.01 70.88 L604.51 70.88 L605.01 70.88 L605.52 70.88 L606.02 70.87 L606.52 70.87 L607.03 70.87 L607.53 70.87 L608.03 70.86 L608.54 70.86 L609.04 70.86 L609.54 70.86 L610.05 70.86 L610.55 70.85 L611.05 70.85 L611.56 70.85 L612.06 70.85 L612.56 70.84 L613.07 70.84 L613.57 70.84 L614.07 70.84 L614.58 70.84 L615.08 70.83 L615.58 70.83 L616.08 70.83 L616.59 70.83 L617.09 70.83 L617.59 70.82 L618.1 70.82 L618.6 70.82 L619.1 70.82 L619.61 70.82 L620.11 70.81 L620.61 70.81 L621.12 70.81 L621.62 70.81 L622.12 70.81 L622.63 70.8 L623.13 70.8 L623.63 70.8 L624.14 70.8 L624.64 70.8 L625.14 70.79 L625.65 70.79 L626.15 70.79 L626.65 70.79 L627.16 70.79 L627.66 70.78 L628.16 70.78 L628.67 70.78 L629.17 70.78 L629.67 70.78 L630.17 70.77 L630.68 70.77 L631.18 70.77 L631.68 70.77 L632.19 70.77 L632.69 70.76 L633.19 70.76 L633.7 70.76 L634.2 70.76 L634.7 70.76 L635.21 70.76 L635.71 70.75 L636.21 70.75 L636.72 70.75 L637.22 70.75 L637.72 70.75 L638.23 70.75 L638.73 70.74 L639.23 70.74 L639.74 70.74 L640.24 70.74 L640.74 70.74 L641.25 70.73 L641.75 70.73 L642.25 70.73 L642.76 70.73 L643.26 70.73 L643.76 70.73 L644.26 70.72 L644.77 70.72 L645.27 70.72 L645.77 70.72 L646.28 70.72 L646.78 70.72 L647.28 70.71 L647.79 70.71 L648.29 70.71 L648.79 70.71 L649.3 70.71 L649.8 70.71" fill="none" stroke="#000" stroke-width="1.3"/></g><g clip-path="url(#cc)"><path d="M446 41.16 L446.5 41.36 L447.01 41.6 L447.51 41.86 L448.01 42.15 L448.52 42.46 L449.02 42.79 L449.52 43.15 L450.03 43.52 L450.53 43.92 L451.03 44.34 L451.54 44.8 L452.04 45.29 L452.54 45.82 L453.04 46.37 L453.55 46.95 L454.05 47.57 L454.55 48.21 L455.06 48.88 L455.56 49.59 L456.06 50.35 L456.57 51.19 L457.07 52.09 L457.57 53.06 L458.08 54.08 L458.58 55.14 L459.08 56.25 L459.59 57.39 L460.09 58.56 L460.59 59.75 L461.1 60.96 L461.6 62.23 L462.1 63.56 L462.61 64.94 L463.11 66.38 L463.61 67.89 L464.12 69.45 L464.62 71.07 L465.12 72.77 L465.63 74.67 L466.13 76.73 L466.63 78.87 L467.13 81.02 L467.64 83.12 L468.14 85.07 L468.64 86.85 L469.15 88.57 L469.65 90.26 L470.15 91.89 L470.66 93.44 L471.16 94.88 L471.66 96.2 L472.17 97.38 L472.67 98.46 L473.17 99.48 L473.68 100.41 L474.18 101.27 L474.68 102.05 L475.19 102.75 L475.69 103.41 L476.19 104.04 L476.7 104.64 L477.2 105.2 L477.7 105.73 L478.21 106.22 L478.71 106.67 L479.21 107.08 L479.72 107.44 L480.22 107.78 L480.72 108.13 L481.22 108.47 L481.73 108.77 L482.23 109.02 L482.73 109.2 L483.24 109.29 L483.74 109.29 L484.24 109.23 L484.75 109.13 L485.25 108.98 L485.75 108.81 L486.26 108.61 L486.76 108.39 L487.26 108.16 L487.77 107.92 L488.27 107.67 L488.77 107.43 L489.28 107.2 L489.78 106.97 L490.28 106.73 L490.79 106.45 L491.29 106.16 L491.79 105.85 L492.3 105.54 L492.8 105.22 L493.3 104.9 L493.8 104.58 L494.31 104.28 L494.81 103.99 L495.31 103.72 L495.82 103.48 L496.32 103.27 L496.82 103.09 L497.33 102.94 L497.83 102.79 L498.33 102.64 L498.84 102.51 L499.34 102.37 L499.84 102.24 L500.35 102.12 L500.85 102 L501.35 101.89 L501.86 101.79 L502.36 101.68 L502.86 101.59 L503.37 101.49 L503.87 101.4 L504.37 101.32 L504.88 101.24 L505.38 101.17 L505.88 101.09 L506.39 101.03 L506.89 100.96 L507.39 100.9 L507.89 100.84 L508.4 100.78 L508.9 100.72 L509.4 100.66 L509.91 100.6 L510.41 100.54 L510.91 100.49 L511.42 100.43 L511.92 100.38 L512.42 100.32 L512.93 100.27 L513.43 100.21 L513.93 100.16 L514.44 100.11 L514.94 100.06 L515.44 100.01 L515.95 99.97 L516.45 99.92 L516.95 99.87 L517.46 99.83 L517.96 99.79 L518.46 99.74 L518.97 99.7 L519.47 99.66 L519.97 99.62 L520.48 99.58 L520.98 99.55 L521.48 99.51 L521.98 99.48 L522.49 99.44 L522.99 99.41 L523.49 99.38 L524 99.35 L524.5 99.32 L525 99.3 L525.51 99.27 L526.01 99.25 L526.51 99.22 L527.02 99.2 L527.52 99.18 L528.02 99.16 L528.53 99.14 L529.03 99.13 L529.53 99.11 L530.04 99.1 L530.54 99.09 L531.04 99.07 L531.55 99.06 L532.05 99.05 L532.55 99.04 L533.06 99.03 L533.56 99.01 L534.06 99 L534.56 98.99 L535.07 98.98 L535.57 98.97 L536.07 98.96 L536.58 98.95 L537.08 98.94 L537.58 98.93 L538.09 98.91 L538.59 98.9 L539.09 98.89 L539.6 98.88 L540.1 98.87 L540.6 98.86 L541.11 98.85 L541.61 98.85 L542.11 98.84 L542.62 98.83 L543.12 98.82 L543.62 98.81 L544.13 98.8 L544.63 98.79 L545.13 98.78 L545.64 98.77 L546.14 98.76 L546.64 98.76 L547.15 98.75 L547.65 98.74 L548.15 98.73 L548.65 98.72 L549.16 98.72 L549.66 98.71 L550.16 98.7 L550.67 98.69 L551.17 98.69 L551.67 98.68 L552.18 98.67 L552.68 98.66 L553.18 98.66 L553.69 98.65 L554.19 98.64 L554.69 98.64 L555.2 98.63 L555.7 98.62 L556.2 98.62 L556.71 98.61 L557.21 98.6 L557.71 98.6 L558.22 98.59 L558.72 98.58 L559.22 98.58 L559.73 98.57 L560.23 98.57 L560.73 98.56 L561.24 98.55 L561.74 98.55 L562.24 98.54 L562.74 98.54 L563.25 98.53 L563.75 98.53 L564.25 98.52 L564.76 98.51 L565.26 98.51 L565.76 98.5 L566.27 98.5 L566.77 98.49 L567.27 98.49 L567.78 98.48 L568.28 98.48 L568.78 98.47 L569.29 98.47 L569.79 98.46 L570.29 98.46 L570.8 98.45 L571.3 98.45 L571.8 98.44 L572.31 98.44 L572.81 98.44 L573.31 98.43 L573.82 98.43 L574.32 98.42 L574.82 98.42 L575.32 98.41 L575.83 98.41 L576.33 98.4 L576.83 98.4 L577.34 98.4 L577.84 98.39 L578.34 98.39 L578.85 98.38 L579.35 98.38 L579.85 98.37 L580.36 98.37 L580.86 98.37 L581.36 98.36 L581.87 98.36 L582.37 98.35 L582.87 98.35 L583.38 98.34 L583.88 98.34 L584.38 98.34 L584.89 98.33 L585.39 98.33 L585.89 98.32 L586.4 98.32 L586.9 98.31 L587.4 98.31 L587.91 98.31 L588.41 98.3 L588.91 98.3 L589.41 98.29 L589.92 98.29 L590.42 98.29 L590.92 98.28 L591.43 98.28 L591.93 98.27 L592.43 98.27 L592.94 98.26 L593.44 98.26 L593.94 98.26 L594.45 98.25 L594.95 98.25 L595.45 98.24 L595.96 98.24 L596.46 98.23 L596.96 98.23 L597.47 98.22 L597.97 98.22 L598.47 98.21 L598.98 98.21 L599.48 98.2 L599.98 98.2 L600.49 98.2 L600.99 98.19 L601.49 98.19 L602 98.18 L602.5 98.18 L603 98.17 L603.5 98.17 L604.01 98.16 L604.51 98.16 L605.01 98.15 L605.52 98.15 L606.02 98.14 L606.52 98.14 L607.03 98.13 L607.53 98.13 L608.03 98.13 L608.54 98.12 L609.04 98.12 L609.54 98.11 L610.05 98.11 L610.55 98.1 L611.05 98.1 L611.56 98.09 L612.06 98.09 L612.56 98.09 L613.07 98.08 L613.57 98.08 L614.07 98.07 L614.58 98.07 L615.08 98.06 L615.58 98.06 L616.08 98.05 L616.59 98.05 L617.09 98.05 L617.59 98.04 L618.1 98.04 L618.6 98.03 L619.1 98.03 L619.61 98.03 L620.11 98.02 L620.61 98.02 L621.12 98.01 L621.62 98.01 L622.12 98 L622.63 98 L623.13 98 L623.63 97.99 L624.14 97.99 L624.64 97.98 L625.14 97.98 L625.65 97.98 L626.15 97.97 L626.65 97.97 L627.16 97.96 L627.66 97.96 L628.16 97.96 L628.67 97.95 L629.17 97.95 L629.67 97.95 L630.17 97.94 L630.68 97.94 L631.18 97.93 L631.68 97.93 L632.19 97.93 L632.69 97.92 L633.19 97.92 L633.7 97.92 L634.2 97.91 L634.7 97.91 L635.21 97.91 L635.71 97.9 L636.21 97.9 L636.72 97.9 L637.22 97.89 L637.72 97.89 L638.23 97.88 L638.73 97.88 L639.23 97.88 L639.74 97.87 L640.24 97.87 L640.74 97.87 L641.25 97.86 L641.75 97.86 L642.25 97.86 L642.76 97.85 L643.26 97.85 L643.76 97.85 L644.26 97.85 L644.77 97.84 L645.27 97.84 L645.77 97.84 L646.28 97.83 L646.78 97.83 L647.28 97.83 L647.79 97.82 L648.29 97.82 L648.79 97.82 L649.3 97.82 L649.8 97.81" fill="none" stroke="#000" stroke-width="1.3"/></g><g clip-path="url(#cc)"><path d="M446 41.17 L446.5 41.36 L447.01 41.6 L447.51 41.89 L448.01 42.22 L448.52 42.58 L449.02 42.97 L449.52 43.39 L450.03 43.82 L450.53 44.3 L451.03 44.84 L451.54 45.44 L452.04 46.09 L452.54 46.78 L453.04 47.52 L453.55 48.29 L454.05 49.08 L454.55 49.93 L455.06 50.84 L455.56 51.81 L456.06 52.84 L456.57 53.92 L457.07 55.05 L457.57 56.22 L458.08 57.44 L458.58 58.7 L459.08 60.07 L459.59 61.54 L460.09 63.1 L460.59 64.73 L461.1 66.39 L461.6 68.06 L462.1 69.72 L462.61 71.34 L463.11 72.92 L463.61 74.5 L464.12 76.08 L464.62 77.67 L465.12 79.29 L465.63 80.96 L466.13 82.68 L466.63 84.48 L467.13 86.34 L467.64 88.26 L468.14 90.25 L468.64 92.31 L469.15 94.45 L469.65 96.68 L470.15 99.1 L470.66 101.67 L471.16 104.3 L471.66 106.89 L472.17 109.37 L472.67 111.7 L473.17 113.95 L473.68 116.15 L474.18 118.3 L474.68 120.42 L475.19 122.52 L475.69 124.61 L476.19 126.72 L476.7 128.98 L477.2 131.27 L477.7 133.37 L478.21 135.08 L478.71 136.33 L479.21 137.44 L479.72 138.41 L480.22 139.2 L480.72 139.76 L481.22 140.11 L481.73 140.36 L482.23 140.38 L482.73 140.17 L483.24 139.79 L483.74 139.27 L484.24 138.66 L484.75 138.01 L485.25 137.35 L485.75 136.74 L486.26 136.07 L486.76 135.32 L487.26 134.5 L487.77 133.67 L488.27 132.86 L488.77 132.11 L489.28 131.44 L489.78 130.87 L490.28 130.32 L490.79 129.79 L491.29 129.27 L491.79 128.78 L492.3 128.3 L492.8 127.85 L493.3 127.42 L493.8 127.03 L494.31 126.66 L494.81 126.31 L495.31 126.01 L495.82 125.72 L496.32 125.45 L496.82 125.17 L497.33 124.9 L497.83 124.63 L498.33 124.38 L498.84 124.13 L499.34 123.89 L499.84 123.66 L500.35 123.44 L500.85 123.23 L501.35 123.04 L501.86 122.87 L502.36 122.71 L502.86 122.57 L503.37 122.45 L503.87 122.34 L504.37 122.27 L504.88 122.21 L505.38 122.17 L505.88 122.14 L506.39 122.1 L506.89 122.07 L507.39 122.03 L507.89 122 L508.4 121.97 L508.9 121.94 L509.4 121.91 L509.91 121.88 L510.41 121.85 L510.91 121.83 L511.42 121.8 L511.92 121.78 L512.42 121.75 L512.93 121.73 L513.43 121.71 L513.93 121.69 L514.44 121.67 L514.94 121.65 L515.44 121.63 L515.95 121.61 L516.45 121.59 L516.95 121.57 L517.46 121.56 L517.96 121.54 L518.46 121.53 L518.97 121.51 L519.47 121.5 L519.97 121.48 L520.48 121.47 L520.98 121.46 L521.48 121.45 L521.98 121.44 L522.49 121.43 L522.99 121.41 L523.49 121.4 L524 121.39 L524.5 121.39 L525 121.38 L525.51 121.37 L526.01 121.36 L526.51 121.35 L527.02 121.34 L527.52 121.33 L528.02 121.33 L528.53 121.32 L529.03 121.31 L529.53 121.31 L530.04 121.3 L530.54 121.29 L531.04 121.29 L531.55 121.28 L532.05 121.27 L532.55 121.27 L533.06 121.26 L533.56 121.25 L534.06 121.25 L534.56 121.24 L535.07 121.24 L535.57 121.23 L536.07 121.22 L536.58 121.22 L537.08 121.21 L537.58 121.21 L538.09 121.2 L538.59 121.2 L539.09 121.19 L539.6 121.19 L540.1 121.18 L540.6 121.18 L541.11 121.17 L541.61 121.17 L542.11 121.16 L542.62 121.16 L543.12 121.15 L543.62 121.15 L544.13 121.14 L544.63 121.14 L545.13 121.13 L545.64 121.13 L546.14 121.12 L546.64 121.12 L547.15 121.11 L547.65 121.11 L548.15 121.11 L548.65 121.1 L549.16 121.1 L549.66 121.09 L550.16 121.09 L550.67 121.09 L551.17 121.08 L551.67 121.08 L552.18 121.07 L552.68 121.07 L553.18 121.07 L553.69 121.06 L554.19 121.06 L554.69 121.06 L555.2 121.05 L555.7 121.05 L556.2 121.04 L556.71 121.04 L557.21 121.04 L557.71 121.03 L558.22 121.03 L558.72 121.03 L559.22 121.02 L559.73 121.02 L560.23 121.02 L560.73 121.01 L561.24 121.01 L561.74 121.01 L562.24 121.01 L562.74 121 L563.25 121 L563.75 121 L564.25 120.99 L564.76 120.99 L565.26 120.99 L565.76 120.98 L566.27 120.98 L566.77 120.98 L567.27 120.98 L567.78 120.97 L568.28 120.97 L568.78 120.97 L569.29 120.96 L569.79 120.96 L570.29 120.96 L570.8 120.96 L571.3 120.95 L571.8 120.95 L572.31 120.95 L572.81 120.95 L573.31 120.94 L573.82 120.94 L574.32 120.94 L574.82 120.94 L575.32 120.93 L575.83 120.93 L576.33 120.93 L576.83 120.93 L577.34 120.92 L577.84 120.92 L578.34 120.92 L578.85 120.92 L579.35 120.91 L579.85 120.91 L580.36 120.91 L580.86 120.91 L581.36 120.9 L581.87 120.9 L582.37 120.9 L582.87 120.9 L583.38 120.89 L583.88 120.89 L584.38 120.89 L584.89 120.88 L585.39 120.88 L585.89 120.88 L586.4 120.88 L586.9 120.87 L587.4 120.87 L587.91 120.87 L588.41 120.87 L588.91 120.86 L589.41 120.86 L589.92 120.86 L590.42 120.86 L590.92 120.85 L591.43 120.85 L591.93 120.85 L592.43 120.84 L592.94 120.84 L593.44 120.84 L593.94 120.84 L594.45 120.83 L594.95 120.83 L595.45 120.83 L595.96 120.82 L596.46 120.82 L596.96 120.82 L597.47 120.82 L597.97 120.81 L598.47 120.81 L598.98 120.81 L599.48 120.8 L599.98 120.8 L600.49 120.8 L600.99 120.79 L601.49 120.79 L602 120.79 L602.5 120.78 L603 120.78 L603.5 120.78 L604.01 120.77 L604.51 120.77 L605.01 120.77 L605.52 120.77 L606.02 120.76 L606.52 120.76 L607.03 120.76 L607.53 120.75 L608.03 120.75 L608.54 120.75 L609.04 120.74 L609.54 120.74 L610.05 120.74 L610.55 120.73 L611.05 120.73 L611.56 120.73 L612.06 120.73 L612.56 120.72 L613.07 120.72 L613.57 120.72 L614.07 120.71 L614.58 120.71 L615.08 120.71 L615.58 120.7 L616.08 120.7 L616.59 120.7 L617.09 120.69 L617.59 120.69 L618.1 120.69 L618.6 120.69 L619.1 120.68 L619.61 120.68 L620.11 120.68 L620.61 120.67 L621.12 120.67 L621.62 120.67 L622.12 120.66 L622.63 120.66 L623.13 120.66 L623.63 120.66 L624.14 120.65 L624.64 120.65 L625.14 120.65 L625.65 120.64 L626.15 120.64 L626.65 120.64 L627.16 120.64 L627.66 120.63 L628.16 120.63 L628.67 120.63 L629.17 120.62 L629.67 120.62 L630.17 120.62 L630.68 120.62 L631.18 120.61 L631.68 120.61 L632.19 120.61 L632.69 120.6 L633.19 120.6 L633.7 120.6 L634.2 120.6 L634.7 120.59 L635.21 120.59 L635.71 120.59 L636.21 120.58 L636.72 120.58 L637.22 120.58 L637.72 120.58 L638.23 120.57 L638.73 120.57 L639.23 120.57 L639.74 120.57 L640.24 120.56 L640.74 120.56 L641.25 120.56 L641.75 120.55 L642.25 120.55 L642.76 120.55 L643.26 120.55 L643.76 120.54 L644.26 120.54 L644.77 120.54 L645.27 120.54 L645.77 120.53 L646.28 120.53 L646.78 120.53 L647.28 120.52 L647.79 120.52 L648.29 120.52 L648.79 120.52 L649.3 120.51 L649.8 120.51" fill="none" stroke="#000" stroke-width="1.3"/></g><g clip-path="url(#cd)"><path d="M33 153.4 L33.5 153.77 L34 154.14 L34.51 154.52 L35.01 154.89 L35.51 155.27 L36.01 155.66 L36.52 156.04 L37.02 156.43 L37.52 156.83 L38.02 157.22 L38.53 157.62 L39.03 158.02 L39.53 158.42 L40.03 158.83 L40.54 159.24 L41.04 159.65 L41.54 160.07 L42.04 160.49 L42.55 160.91 L43.05 161.33 L43.55 161.76 L44.05 162.18 L44.56 162.62 L45.06 163.05 L45.56 163.49 L46.06 163.93 L46.57 164.38 L47.07 164.83 L47.57 165.29 L48.07 165.75 L48.58 166.21 L49.08 166.68 L49.58 167.15 L50.08 167.63 L50.59 168.1 L51.09 168.58 L51.59 169.07 L52.09 169.55 L52.6 170.04 L53.1 170.52 L53.6 171.01 L54.1 171.5 L54.61 172 L55.11 172.49 L55.61 172.98 L56.11 173.48 L56.61 173.97 L57.12 174.47 L57.62 174.96 L58.12 175.46 L58.62 175.95 L59.13 176.45 L59.63 176.94 L60.13 177.43 L60.63 177.92 L61.14 178.42 L61.64 178.92 L62.14 179.43 L62.64 179.94 L63.15 180.45 L63.65 180.96 L64.15 181.47 L64.65 181.98 L65.16 182.49 L65.66 183 L66.16 183.51 L66.66 184.02 L67.17 184.53 L67.67 185.03 L68.17 185.53 L68.67 186.03 L69.18 186.52 L69.68 187.01 L70.18 187.5 L70.68 187.97 L71.19 188.45 L71.69 188.93 L72.19 189.42 L72.69 189.9 L73.2 190.38 L73.7 190.86 L74.2 191.34 L74.7 191.82 L75.21 192.29 L75.71 192.76 L76.21 193.22 L76.71 193.68 L77.22 194.14 L77.72 194.58 L78.22 195.02 L78.72 195.45 L79.22 195.87 L79.73 196.28 L80.23 196.68 L80.73 197.07 L81.23 197.45 L81.74 197.83 L82.24 198.21 L82.74 198.59 L83.24 198.97 L83.75 199.35 L84.25 199.72 L84.75 200.08 L85.25 200.44 L85.76 200.8 L86.26 201.14 L86.76 201.48 L87.26 201.81 L87.77 202.12 L88.27 202.43 L88.77 202.72 L89.27 203 L89.78 203.26 L90.28 203.51 L90.78 203.74 L91.28 203.95 L91.79 204.15 L92.29 204.36 L92.79 204.56 L93.29 204.77 L93.8 204.97 L94.3 205.17 L94.8 205.37 L95.3 205.56 L95.81 205.74 L96.31 205.92 L96.81 206.09 L97.31 206.25 L97.82 206.39 L98.32 206.53 L98.82 206.65 L99.32 206.75 L99.83 206.84 L100.33 206.91 L100.83 206.96 L101.33 206.99 L101.83 207 L102.34 207 L102.84 207 L103.34 207 L103.84 207 L104.35 207 L104.85 207 L105.35 207 L105.85 207 L106.36 207 L106.86 207 L107.36 207 L107.86 207 L108.37 207 L108.87 207 L109.37 207 L109.87 207 L110.38 207 L110.88 207 L111.38 207 L111.88 207 L112.39 207 L112.89 206.97 L113.39 206.89 L113.89 206.79 L114.4 206.64 L114.9 206.48 L115.4 206.29 L115.9 206.09 L116.41 205.87 L116.91 205.66 L117.41 205.44 L117.91 205.23 L118.42 205.03 L118.92 204.81 L119.42 204.57 L119.92 204.33 L120.43 204.07 L120.93 203.8 L121.43 203.51 L121.93 203.22 L122.44 202.92 L122.94 202.62 L123.44 202.3 L123.94 201.99 L124.44 201.66 L124.95 201.33 L125.45 201 L125.95 200.67 L126.45 200.33 L126.96 200 L127.46 199.66 L127.96 199.33 L128.46 198.98 L128.97 198.63 L129.47 198.26 L129.97 197.89 L130.47 197.5 L130.98 197.11 L131.48 196.71 L131.98 196.31 L132.48 195.9 L132.99 195.5 L133.49 195.1 L133.99 194.7 L134.49 194.31 L135 193.92 L135.5 193.55 L136 193.18 L136.5 192.83 L137.01 192.5 L137.51 192.17 L138.01 191.86 L138.51 191.56 L139.02 191.26 L139.52 190.97 L140.02 190.69 L140.52 190.41 L141.03 190.13 L141.53 189.86 L142.03 189.59 L142.53 189.31 L143.04 189.04 L143.54 188.76 L144.04 188.47 L144.54 188.18 L145.05 187.89 L145.55 187.58 L146.05 187.27 L146.55 186.94 L147.06 186.61 L147.56 186.27 L148.06 185.91 L148.56 185.56 L149.06 185.2 L149.57 184.83 L150.07 184.46 L150.57 184.09 L151.07 183.72 L151.58 183.36 L152.08 182.99 L152.58 182.63 L153.08 182.28 L153.59 181.93 L154.09 181.59 L154.59 181.26 L155.09 180.94 L155.6 180.63 L156.1 180.32 L156.6 180.02 L157.1 179.72 L157.61 179.43 L158.11 179.14 L158.61 178.86 L159.11 178.58 L159.62 178.29 L160.12 178.02 L160.62 177.74 L161.12 177.46 L161.63 177.19 L162.13 176.91 L162.63 176.63 L163.13 176.35 L163.64 176.07 L164.14 175.79 L164.64 175.51 L165.14 175.22 L165.65 174.93 L166.15 174.63 L166.65 174.33 L167.15 174.03 L167.66 173.73 L168.16 173.43 L168.66 173.12 L169.16 172.82 L169.67 172.52 L170.17 172.21 L170.67 171.91 L171.17 171.62 L171.67 171.32 L172.18 171.03 L172.68 170.75 L173.18 170.47 L173.68 170.19 L174.19 169.92 L174.69 169.66 L175.19 169.4 L175.69 169.15 L176.2 168.9 L176.7 168.65 L177.2 168.41 L177.7 168.17 L178.21 167.93 L178.71 167.69 L179.21 167.45 L179.71 167.22 L180.22 167 L180.72 166.77 L181.22 166.55 L181.72 166.33 L182.23 166.12 L182.73 165.91 L183.23 165.7 L183.73 165.5 L184.24 165.3 L184.74 165.1 L185.24 164.91 L185.74 164.72 L186.25 164.53 L186.75 164.34 L187.25 164.15 L187.75 163.96 L188.26 163.77 L188.76 163.58 L189.26 163.4 L189.76 163.22 L190.27 163.03 L190.77 162.85 L191.27 162.68 L191.77 162.5 L192.28 162.32 L192.78 162.15 L193.28 161.98 L193.78 161.81 L194.28 161.65 L194.79 161.48 L195.29 161.32 L195.79 161.17 L196.29 161.01 L196.8 160.86 L197.3 160.71 L197.8 160.57 L198.3 160.43 L198.81 160.29 L199.31 160.15 L199.81 160.02 L200.31 159.9 L200.82 159.77 L201.32 159.65 L201.82 159.54 L202.32 159.43 L202.83 159.32 L203.33 159.21 L203.83 159.11 L204.33 159 L204.84 158.9 L205.34 158.8 L205.84 158.7 L206.34 158.6 L206.85 158.5 L207.35 158.41 L207.85 158.32 L208.35 158.23 L208.86 158.13 L209.36 158.05 L209.86 157.96 L210.36 157.87 L210.87 157.79 L211.37 157.71 L211.87 157.62 L212.37 157.54 L212.88 157.47 L213.38 157.39 L213.88 157.31 L214.38 157.24 L214.89 157.17 L215.39 157.09 L215.89 157.02 L216.39 156.95 L216.89 156.89 L217.4 156.82 L217.9 156.76 L218.4 156.69 L218.9 156.63 L219.41 156.57 L219.91 156.51 L220.41 156.45 L220.91 156.39 L221.42 156.34 L221.92 156.28 L222.42 156.22 L222.92 156.17 L223.43 156.11 L223.93 156.06 L224.43 156 L224.93 155.95 L225.44 155.89 L225.94 155.84 L226.44 155.79 L226.94 155.74 L227.45 155.69 L227.95 155.64 L228.45 155.59 L228.95 155.54 L229.46 155.5 L229.96 155.45 L230.46 155.4 L230.96 155.36 L231.47 155.32 L231.97 155.27 L232.47 155.23 L232.97 155.19 L233.48 155.15 L233.98 155.11 L234.48 155.08 L234.98 155.04 L235.49 155.01 L235.99 154.97 L236.49 154.94 L236.99 154.91 L237.5 154.88 L238 154.85 L238.5 154.83" fill="none" stroke="#000" stroke-width="1.3"/></g><g clip-path="url(#cd)"><path d="M33 153.4 L33.5 153.88 L34 154.36 L34.51 154.85 L35.01 155.35 L35.51 155.86 L36.01 156.37 L36.52 156.88 L37.02 157.41 L37.52 157.94 L38.02 158.47 L38.53 159.01 L39.03 159.56 L39.53 160.11 L40.03 160.67 L40.54 161.23 L41.04 161.81 L41.54 162.38 L42.04 162.96 L42.55 163.55 L43.05 164.14 L43.55 164.74 L44.05 165.35 L44.56 165.96 L45.06 166.57 L45.56 167.2 L46.06 167.84 L46.57 168.5 L47.07 169.18 L47.57 169.86 L48.07 170.56 L48.58 171.27 L49.08 171.98 L49.58 172.71 L50.08 173.44 L50.59 174.18 L51.09 174.93 L51.59 175.68 L52.09 176.43 L52.6 177.18 L53.1 177.93 L53.6 178.69 L54.1 179.44 L54.61 180.19 L55.11 180.94 L55.61 181.68 L56.11 182.42 L56.61 183.15 L57.12 183.87 L57.62 184.58 L58.12 185.28 L58.62 185.97 L59.13 186.65 L59.63 187.32 L60.13 187.97 L60.63 188.61 L61.14 189.24 L61.64 189.86 L62.14 190.47 L62.64 191.08 L63.15 191.67 L63.65 192.27 L64.15 192.86 L64.65 193.44 L65.16 194.02 L65.66 194.61 L66.16 195.19 L66.66 195.77 L67.17 196.35 L67.67 196.93 L68.17 197.52 L68.67 198.11 L69.18 198.7 L69.68 199.3 L70.18 199.91 L70.68 200.53 L71.19 201.16 L71.69 201.81 L72.19 202.47 L72.69 203.15 L73.2 203.84 L73.7 204.53 L74.2 205.23 L74.7 205.94 L75.21 206.65 L75.71 207.36 L76.21 208.07 L76.71 208.77 L77.22 209.47 L77.72 210.16 L78.22 210.84 L78.72 211.51 L79.22 212.16 L79.73 212.8 L80.23 213.41 L80.73 214.01 L81.23 214.58 L81.74 215.13 L82.24 215.66 L82.74 216.15 L83.24 216.61 L83.75 217.04 L84.25 217.45 L84.75 217.85 L85.25 218.23 L85.76 218.61 L86.26 218.98 L86.76 219.34 L87.26 219.68 L87.77 220.01 L88.27 220.34 L88.77 220.65 L89.27 220.94 L89.78 221.23 L90.28 221.5 L90.78 221.76 L91.28 222 L91.79 222.24 L92.29 222.45 L92.79 222.66 L93.29 222.88 L93.8 223.09 L94.3 223.31 L94.8 223.52 L95.3 223.73 L95.81 223.93 L96.31 224.12 L96.81 224.31 L97.31 224.48 L97.82 224.64 L98.32 224.78 L98.82 224.91 L99.32 225.01 L99.83 225.1 L100.33 225.16 L100.83 225.19 L101.33 225.2 L101.83 225.2 L102.34 225.2 L102.84 225.2 L103.34 225.2 L103.84 225.2 L104.35 225.2 L104.85 225.2 L105.35 225.2 L105.85 225.2 L106.36 225.2 L106.86 225.2 L107.36 225.2 L107.86 225.2 L108.37 225.2 L108.87 225.2 L109.37 225.2 L109.87 225.2 L110.38 225.18 L110.88 225.13 L111.38 225.03 L111.88 224.91 L112.39 224.76 L112.89 224.59 L113.39 224.4 L113.89 224.19 L114.4 223.96 L114.9 223.73 L115.4 223.49 L115.9 223.25 L116.41 223.01 L116.91 222.78 L117.41 222.55 L117.91 222.34 L118.42 222.13 L118.92 221.92 L119.42 221.72 L119.92 221.51 L120.43 221.29 L120.93 221.08 L121.43 220.86 L121.93 220.64 L122.44 220.41 L122.94 220.18 L123.44 219.95 L123.94 219.71 L124.44 219.46 L124.95 219.21 L125.45 218.95 L125.95 218.68 L126.45 218.4 L126.96 218.12 L127.46 217.83 L127.96 217.52 L128.46 217.21 L128.97 216.86 L129.47 216.5 L129.97 216.12 L130.47 215.73 L130.98 215.31 L131.48 214.89 L131.98 214.46 L132.48 214.01 L132.99 213.56 L133.49 213.11 L133.99 212.66 L134.49 212.2 L135 211.75 L135.5 211.3 L136 210.85 L136.5 210.42 L137.01 209.99 L137.51 209.58 L138.01 209.16 L138.51 208.74 L139.02 208.32 L139.52 207.9 L140.02 207.48 L140.52 207.06 L141.03 206.65 L141.53 206.23 L142.03 205.81 L142.53 205.39 L143.04 204.97 L143.54 204.55 L144.04 204.13 L144.54 203.71 L145.05 203.3 L145.55 202.88 L146.05 202.46 L146.55 202.04 L147.06 201.62 L147.56 201.19 L148.06 200.77 L148.56 200.34 L149.06 199.92 L149.57 199.49 L150.07 199.07 L150.57 198.64 L151.07 198.22 L151.58 197.8 L152.08 197.38 L152.58 196.96 L153.08 196.55 L153.59 196.13 L154.09 195.73 L154.59 195.32 L155.09 194.93 L155.6 194.53 L156.1 194.14 L156.6 193.75 L157.1 193.37 L157.61 192.99 L158.11 192.61 L158.61 192.23 L159.11 191.86 L159.62 191.48 L160.12 191.11 L160.62 190.74 L161.12 190.37 L161.63 190 L162.13 189.63 L162.63 189.26 L163.13 188.89 L163.64 188.52 L164.14 188.14 L164.64 187.77 L165.14 187.39 L165.65 187.02 L166.15 186.64 L166.65 186.26 L167.15 185.89 L167.66 185.51 L168.16 185.13 L168.66 184.75 L169.16 184.38 L169.67 184 L170.17 183.62 L170.67 183.25 L171.17 182.87 L171.67 182.49 L172.18 182.12 L172.68 181.74 L173.18 181.36 L173.68 180.99 L174.19 180.61 L174.69 180.23 L175.19 179.86 L175.69 179.47 L176.2 179.09 L176.7 178.7 L177.2 178.3 L177.7 177.91 L178.21 177.51 L178.71 177.11 L179.21 176.72 L179.71 176.32 L180.22 175.93 L180.72 175.54 L181.22 175.16 L181.72 174.78 L182.23 174.41 L182.73 174.04 L183.23 173.68 L183.73 173.33 L184.24 172.99 L184.74 172.67 L185.24 172.35 L185.74 172.03 L186.25 171.72 L186.75 171.4 L187.25 171.09 L187.75 170.78 L188.26 170.47 L188.76 170.16 L189.26 169.85 L189.76 169.55 L190.27 169.25 L190.77 168.95 L191.27 168.65 L191.77 168.36 L192.28 168.07 L192.78 167.79 L193.28 167.51 L193.78 167.23 L194.28 166.96 L194.79 166.69 L195.29 166.43 L195.79 166.17 L196.29 165.92 L196.8 165.67 L197.3 165.43 L197.8 165.19 L198.3 164.97 L198.81 164.74 L199.31 164.53 L199.81 164.32 L200.31 164.12 L200.82 163.93 L201.32 163.74 L201.82 163.56 L202.32 163.39 L202.83 163.22 L203.33 163.06 L203.83 162.9 L204.33 162.74 L204.84 162.59 L205.34 162.44 L205.84 162.29 L206.34 162.14 L206.85 162 L207.35 161.86 L207.85 161.72 L208.35 161.59 L208.86 161.46 L209.36 161.33 L209.86 161.2 L210.36 161.07 L210.87 160.95 L211.37 160.83 L211.87 160.71 L212.37 160.6 L212.88 160.48 L213.38 160.37 L213.88 160.26 L214.38 160.15 L214.89 160.04 L215.39 159.93 L215.89 159.82 L216.39 159.72 L216.89 159.62 L217.4 159.51 L217.9 159.41 L218.4 159.31 L218.9 159.21 L219.41 159.12 L219.91 159.02 L220.41 158.92 L220.91 158.82 L221.42 158.73 L221.92 158.63 L222.42 158.54 L222.92 158.44 L223.43 158.35 L223.93 158.26 L224.43 158.17 L224.93 158.08 L225.44 157.99 L225.94 157.9 L226.44 157.81 L226.94 157.73 L227.45 157.64 L227.95 157.56 L228.45 157.47 L228.95 157.39 L229.46 157.31 L229.96 157.23 L230.46 157.15 L230.96 157.07 L231.47 156.99 L231.97 156.92 L232.47 156.84 L232.97 156.77 L233.48 156.7 L233.98 156.63 L234.48 156.56 L234.98 156.49 L235.49 156.43 L235.99 156.36 L236.49 156.3 L236.99 156.23 L237.5 156.17 L238 156.11 L238.5 156.06" fill="none" stroke="#000" stroke-width="1.3"/></g><g clip-path="url(#cd)"><path d="M33 153.4 L33.5 154.03 L34 154.67 L34.51 155.32 L35.01 155.97 L35.51 156.62 L36.01 157.28 L36.52 157.95 L37.02 158.62 L37.52 159.3 L38.02 159.98 L38.53 160.67 L39.03 161.36 L39.53 162.06 L40.03 162.76 L40.54 163.47 L41.04 164.18 L41.54 164.9 L42.04 165.63 L42.55 166.36 L43.05 167.09 L43.55 167.84 L44.05 168.58 L44.56 169.33 L45.06 170.09 L45.56 170.85 L46.06 171.63 L46.57 172.42 L47.07 173.22 L47.57 174.03 L48.07 174.85 L48.58 175.67 L49.08 176.51 L49.58 177.35 L50.08 178.19 L50.59 179.04 L51.09 179.9 L51.59 180.76 L52.09 181.62 L52.6 182.49 L53.1 183.36 L53.6 184.23 L54.1 185.1 L54.61 185.97 L55.11 186.84 L55.61 187.7 L56.11 188.57 L56.61 189.43 L57.12 190.29 L57.62 191.14 L58.12 191.99 L58.62 192.83 L59.13 193.67 L59.63 194.49 L60.13 195.31 L60.63 196.13 L61.14 196.94 L61.64 197.76 L62.14 198.56 L62.64 199.37 L63.15 200.17 L63.65 200.98 L64.15 201.78 L64.65 202.58 L65.16 203.37 L65.66 204.17 L66.16 204.96 L66.66 205.76 L67.17 206.55 L67.67 207.34 L68.17 208.13 L68.67 208.93 L69.18 209.72 L69.68 210.51 L70.18 211.3 L70.68 212.09 L71.19 212.89 L71.69 213.71 L72.19 214.54 L72.69 215.37 L73.2 216.21 L73.7 217.06 L74.2 217.9 L74.7 218.74 L75.21 219.58 L75.71 220.41 L76.21 221.23 L76.71 222.04 L77.22 222.84 L77.72 223.62 L78.22 224.38 L78.72 225.11 L79.22 225.83 L79.73 226.51 L80.23 227.17 L80.73 227.8 L81.23 228.4 L81.74 228.98 L82.24 229.56 L82.74 230.13 L83.24 230.69 L83.75 231.23 L84.25 231.77 L84.75 232.3 L85.25 232.82 L85.76 233.32 L86.26 233.82 L86.76 234.3 L87.26 234.78 L87.77 235.24 L88.27 235.7 L88.77 236.14 L89.27 236.57 L89.78 236.99 L90.28 237.4 L90.78 237.8 L91.28 238.18 L91.79 238.56 L92.29 238.92 L92.79 239.28 L93.29 239.63 L93.8 239.99 L94.3 240.35 L94.8 240.7 L95.3 241.05 L95.81 241.39 L96.31 241.72 L96.81 242.04 L97.31 242.34 L97.82 242.63 L98.32 242.9 L98.82 243.15 L99.32 243.38 L99.83 243.58 L100.33 243.76 L100.83 243.91 L101.33 244.03 L101.83 244.14 L102.34 244.25 L102.84 244.35 L103.34 244.45 L103.84 244.55 L104.35 244.64 L104.85 244.73 L105.35 244.81 L105.85 244.89 L106.36 244.95 L106.86 245.02 L107.36 245.07 L107.86 245.11 L108.37 245.15 L108.87 245.18 L109.37 245.19 L109.87 245.2 L110.38 245.18 L110.88 245.13 L111.38 245.05 L111.88 244.94 L112.39 244.8 L112.89 244.64 L113.39 244.46 L113.89 244.26 L114.4 244.05 L114.9 243.82 L115.4 243.58 L115.9 243.34 L116.41 243.09 L116.91 242.84 L117.41 242.59 L117.91 242.34 L118.42 242.09 L118.92 241.81 L119.42 241.51 L119.92 241.19 L120.43 240.85 L120.93 240.49 L121.43 240.12 L121.93 239.73 L122.44 239.33 L122.94 238.92 L123.44 238.49 L123.94 238.06 L124.44 237.63 L124.95 237.18 L125.45 236.74 L125.95 236.29 L126.45 235.85 L126.96 235.41 L127.46 234.97 L127.96 234.53 L128.46 234.1 L128.97 233.65 L129.47 233.2 L129.97 232.73 L130.47 232.26 L130.98 231.79 L131.48 231.31 L131.98 230.82 L132.48 230.33 L132.99 229.84 L133.49 229.35 L133.99 228.86 L134.49 228.37 L135 227.89 L135.5 227.41 L136 226.93 L136.5 226.46 L137.01 225.99 L137.51 225.54 L138.01 225.09 L138.51 224.64 L139.02 224.19 L139.52 223.75 L140.02 223.31 L140.52 222.88 L141.03 222.44 L141.53 222 L142.03 221.57 L142.53 221.13 L143.04 220.69 L143.54 220.24 L144.04 219.8 L144.54 219.34 L145.05 218.89 L145.55 218.42 L146.05 217.95 L146.55 217.47 L147.06 216.99 L147.56 216.49 L148.06 215.99 L148.56 215.49 L149.06 214.98 L149.57 214.47 L150.07 213.95 L150.57 213.43 L151.07 212.92 L151.58 212.4 L152.08 211.89 L152.58 211.38 L153.08 210.87 L153.59 210.37 L154.09 209.88 L154.59 209.39 L155.09 208.91 L155.6 208.44 L156.1 207.97 L156.6 207.51 L157.1 207.06 L157.61 206.61 L158.11 206.16 L158.61 205.72 L159.11 205.28 L159.62 204.84 L160.12 204.4 L160.62 203.95 L161.12 203.51 L161.63 203.07 L162.13 202.63 L162.63 202.18 L163.13 201.72 L163.64 201.27 L164.14 200.81 L164.64 200.34 L165.14 199.86 L165.65 199.38 L166.15 198.9 L166.65 198.41 L167.15 197.92 L167.66 197.42 L168.16 196.92 L168.66 196.42 L169.16 195.91 L169.67 195.4 L170.17 194.9 L170.67 194.39 L171.17 193.88 L171.67 193.36 L172.18 192.85 L172.68 192.34 L173.18 191.83 L173.68 191.32 L174.19 190.82 L174.69 190.31 L175.19 189.81 L175.69 189.3 L176.2 188.79 L176.7 188.27 L177.2 187.74 L177.7 187.22 L178.21 186.69 L178.71 186.17 L179.21 185.64 L179.71 185.12 L180.22 184.6 L180.72 184.08 L181.22 183.57 L181.72 183.07 L182.23 182.57 L182.73 182.08 L183.23 181.6 L183.73 181.13 L184.24 180.67 L184.74 180.23 L185.24 179.79 L185.74 179.36 L186.25 178.93 L186.75 178.5 L187.25 178.08 L187.75 177.65 L188.26 177.23 L188.76 176.81 L189.26 176.39 L189.76 175.98 L190.27 175.57 L190.77 175.16 L191.27 174.75 L191.77 174.35 L192.28 173.96 L192.78 173.56 L193.28 173.18 L193.78 172.8 L194.28 172.42 L194.79 172.05 L195.29 171.68 L195.79 171.32 L196.29 170.97 L196.8 170.63 L197.3 170.29 L197.8 169.95 L198.3 169.63 L198.81 169.31 L199.31 169.01 L199.81 168.7 L200.31 168.41 L200.82 168.13 L201.32 167.86 L201.82 167.59 L202.32 167.34 L202.83 167.08 L203.33 166.83 L203.83 166.59 L204.33 166.34 L204.84 166.1 L205.34 165.86 L205.84 165.63 L206.34 165.4 L206.85 165.17 L207.35 164.95 L207.85 164.72 L208.35 164.51 L208.86 164.29 L209.36 164.08 L209.86 163.87 L210.36 163.67 L210.87 163.47 L211.37 163.27 L211.87 163.08 L212.37 162.89 L212.88 162.7 L213.38 162.52 L213.88 162.35 L214.38 162.17 L214.89 162 L215.39 161.83 L215.89 161.67 L216.39 161.51 L216.89 161.36 L217.4 161.21 L217.9 161.06 L218.4 160.92 L218.9 160.78 L219.41 160.65 L219.91 160.52 L220.41 160.4 L220.91 160.27 L221.42 160.15 L221.92 160.02 L222.42 159.9 L222.92 159.78 L223.43 159.66 L223.93 159.54 L224.43 159.43 L224.93 159.31 L225.44 159.2 L225.94 159.08 L226.44 158.97 L226.94 158.87 L227.45 158.76 L227.95 158.65 L228.45 158.55 L228.95 158.45 L229.46 158.35 L229.96 158.25 L230.46 158.16 L230.96 158.07 L231.47 157.98 L231.97 157.89 L232.47 157.81 L232.97 157.73 L233.48 157.65 L233.98 157.57 L234.48 157.5 L234.98 157.43 L235.49 157.37 L235.99 157.3 L236.49 157.24 L236.99 157.19 L237.5 157.14 L238 157.09 L238.5 157.04" fill="none" stroke="#000" stroke-width="1.3"/></g><g clip-path="url(#ce)"><path d="M240 153.14 L240.5 153.19 L241.01 153.68 L241.51 154.56 L242.01 155.76 L242.51 158.51 L243.02 163.26 L243.52 168.08 L244.02 173.27 L244.52 177.13 L245.03 179.65 L245.53 181.72 L246.03 183.36 L246.54 184.57 L247.04 185.54 L247.54 186.4 L248.04 187.14 L248.55 187.76 L249.05 188.22 L249.55 188.52 L250.05 188.75 L250.56 188.96 L251.06 189.14 L251.56 189.3 L252.07 189.43 L252.57 189.53 L253.07 189.58 L253.57 189.6 L254.08 189.58 L254.58 189.53 L255.08 189.45 L255.58 189.36 L256.09 189.25 L256.59 189.13 L257.09 189.01 L257.6 188.89 L258.1 188.78 L258.6 188.67 L259.1 188.54 L259.61 188.42 L260.11 188.28 L260.61 188.15 L261.11 188 L261.62 187.86 L262.12 187.7 L262.62 187.55 L263.13 187.39 L263.63 187.24 L264.13 187.08 L264.63 186.92 L265.14 186.76 L265.64 186.59 L266.14 186.43 L266.64 186.26 L267.15 186.09 L267.65 185.91 L268.15 185.74 L268.66 185.56 L269.16 185.37 L269.66 185.18 L270.16 184.99 L270.67 184.79 L271.17 184.59 L271.67 184.39 L272.17 184.18 L272.68 183.96 L273.18 183.73 L273.68 183.5 L274.19 183.27 L274.69 183.03 L275.19 182.79 L275.69 182.54 L276.2 182.29 L276.7 182.04 L277.2 181.79 L277.7 181.54 L278.21 181.28 L278.71 181.03 L279.21 180.78 L279.72 180.52 L280.22 180.27 L280.72 180.02 L281.22 179.78 L281.73 179.54 L282.23 179.29 L282.73 179.05 L283.23 178.81 L283.74 178.57 L284.24 178.32 L284.74 178.08 L285.25 177.84 L285.75 177.59 L286.25 177.35 L286.75 177.1 L287.26 176.86 L287.76 176.62 L288.26 176.38 L288.77 176.14 L289.27 175.9 L289.77 175.66 L290.27 175.43 L290.78 175.2 L291.28 174.96 L291.78 174.73 L292.28 174.51 L292.79 174.28 L293.29 174.05 L293.79 173.83 L294.3 173.6 L294.8 173.37 L295.3 173.15 L295.8 172.92 L296.31 172.69 L296.81 172.47 L297.31 172.24 L297.81 172.02 L298.32 171.8 L298.82 171.57 L299.32 171.35 L299.83 171.13 L300.33 170.92 L300.83 170.7 L301.33 170.49 L301.84 170.28 L302.34 170.07 L302.84 169.86 L303.34 169.66 L303.85 169.46 L304.35 169.26 L304.85 169.07 L305.36 168.87 L305.86 168.69 L306.36 168.5 L306.86 168.32 L307.37 168.14 L307.87 167.97 L308.37 167.79 L308.87 167.63 L309.38 167.46 L309.88 167.29 L310.38 167.13 L310.89 166.97 L311.39 166.81 L311.89 166.65 L312.39 166.5 L312.9 166.34 L313.4 166.19 L313.9 166.04 L314.4 165.89 L314.91 165.75 L315.41 165.6 L315.91 165.46 L316.42 165.32 L316.92 165.18 L317.42 165.04 L317.92 164.9 L318.43 164.76 L318.93 164.63 L319.43 164.49 L319.93 164.36 L320.44 164.22 L320.94 164.09 L321.44 163.96 L321.95 163.83 L322.45 163.7 L322.95 163.57 L323.45 163.45 L323.96 163.32 L324.46 163.19 L324.96 163.07 L325.46 162.95 L325.97 162.83 L326.47 162.71 L326.97 162.59 L327.48 162.47 L327.98 162.36 L328.48 162.25 L328.98 162.14 L329.49 162.03 L329.99 161.92 L330.49 161.82 L330.99 161.72 L331.5 161.62 L332 161.52 L332.5 161.43 L333.01 161.34 L333.51 161.24 L334.01 161.15 L334.51 161.07 L335.02 160.98 L335.52 160.9 L336.02 160.81 L336.52 160.73 L337.03 160.65 L337.53 160.57 L338.03 160.49 L338.54 160.41 L339.04 160.33 L339.54 160.25 L340.04 160.18 L340.55 160.1 L341.05 160.02 L341.55 159.95 L342.05 159.87 L342.56 159.79 L343.06 159.71 L343.56 159.64 L344.07 159.56 L344.57 159.48 L345.07 159.4 L345.57 159.31 L346.08 159.23 L346.58 159.15 L347.08 159.06 L347.58 158.97 L348.09 158.88 L348.59 158.8 L349.09 158.71 L349.6 158.62 L350.1 158.53 L350.6 158.44 L351.1 158.35 L351.61 158.26 L352.11 158.17 L352.61 158.09 L353.11 158 L353.62 157.91 L354.12 157.83 L354.62 157.74 L355.13 157.66 L355.63 157.58 L356.13 157.5 L356.63 157.42 L357.14 157.35 L357.64 157.27 L358.14 157.2 L358.64 157.13 L359.15 157.06 L359.65 157 L360.15 156.94 L360.66 156.88 L361.16 156.82 L361.66 156.77 L362.16 156.72 L362.67 156.67 L363.17 156.63 L363.67 156.59 L364.17 156.55 L364.68 156.52 L365.18 156.49 L365.68 156.46 L366.19 156.44 L366.69 156.41 L367.19 156.39 L367.69 156.36 L368.2 156.34 L368.7 156.32 L369.2 156.29 L369.7 156.27 L370.21 156.25 L370.71 156.23 L371.21 156.21 L371.72 156.18 L372.22 156.16 L372.72 156.15 L373.22 156.13 L373.73 156.11 L374.23 156.09 L374.73 156.07 L375.23 156.05 L375.74 156.04 L376.24 156.02 L376.74 156 L377.25 155.99 L377.75 155.97 L378.25 155.95 L378.75 155.94 L379.26 155.92 L379.76 155.91 L380.26 155.89 L380.77 155.88 L381.27 155.87 L381.77 155.85 L382.27 155.84 L382.78 155.83 L383.28 155.81 L383.78 155.8 L384.28 155.79 L384.79 155.77 L385.29 155.76 L385.79 155.75 L386.3 155.74 L386.8 155.73 L387.3 155.71 L387.8 155.7 L388.31 155.69 L388.81 155.68 L389.31 155.67 L389.81 155.66 L390.32 155.65 L390.82 155.63 L391.32 155.62 L391.83 155.61 L392.33 155.6 L392.83 155.59 L393.33 155.58 L393.84 155.57 L394.34 155.56 L394.84 155.54 L395.34 155.53 L395.85 155.52 L396.35 155.51 L396.85 155.5 L397.36 155.49 L397.86 155.48 L398.36 155.46 L398.86 155.45 L399.37 155.44 L399.87 155.43 L400.37 155.42 L400.87 155.41 L401.38 155.4 L401.88 155.39 L402.38 155.38 L402.89 155.36 L403.39 155.35 L403.89 155.34 L404.39 155.33 L404.9 155.32 L405.4 155.31 L405.9 155.3 L406.4 155.29 L406.91 155.28 L407.41 155.27 L407.91 155.26 L408.42 155.25 L408.92 155.24 L409.42 155.23 L409.92 155.22 L410.43 155.21 L410.93 155.2 L411.43 155.19 L411.93 155.19 L412.44 155.18 L412.94 155.17 L413.44 155.16 L413.95 155.15 L414.45 155.14 L414.95 155.13 L415.45 155.12 L415.96 155.12 L416.46 155.11 L416.96 155.1 L417.46 155.09 L417.97 155.08 L418.47 155.08 L418.97 155.07 L419.48 155.06 L419.98 155.05 L420.48 155.05 L420.98 155.04 L421.49 155.03 L421.99 155.03 L422.49 155.02 L422.99 155.01 L423.5 155.01 L424 155" fill="none" stroke="#000" stroke-width="1.3"/></g><g clip-path="url(#ce)"><path d="M240 153.34 L240.5 153.59 L241.01 156.14 L241.51 160.07 L242.01 170.41 L242.51 186.21 L243.02 198.22 L243.52 202.74 L244.02 206.05 L244.52 208.55 L245.03 210.45 L245.53 211.98 L246.03 213.36 L246.54 214.56 L247.04 215.6 L247.54 216.46 L248.04 217.14 L248.55 217.63 L249.05 218.06 L249.55 218.46 L250.05 218.83 L250.56 219.15 L251.06 219.42 L251.56 219.62 L252.07 219.75 L252.57 219.8 L253.07 219.79 L253.57 219.78 L254.08 219.75 L254.58 219.72 L255.08 219.68 L255.58 219.63 L256.09 219.57 L256.59 219.51 L257.09 219.43 L257.6 219.31 L258.1 219.13 L258.6 218.92 L259.1 218.68 L259.61 218.41 L260.11 218.12 L260.61 217.82 L261.11 217.52 L261.62 217.22 L262.12 216.93 L262.62 216.63 L263.13 216.31 L263.63 215.97 L264.13 215.62 L264.63 215.25 L265.14 214.87 L265.64 214.49 L266.14 214.09 L266.64 213.69 L267.15 213.28 L267.65 212.88 L268.15 212.47 L268.66 212.06 L269.16 211.66 L269.66 211.26 L270.16 210.87 L270.67 210.48 L271.17 210.08 L271.67 209.68 L272.17 209.28 L272.68 208.87 L273.18 208.46 L273.68 208.05 L274.19 207.63 L274.69 207.22 L275.19 206.81 L275.69 206.4 L276.2 205.99 L276.7 205.58 L277.2 205.18 L277.7 204.77 L278.21 204.38 L278.71 203.98 L279.21 203.6 L279.72 203.21 L280.22 202.84 L280.72 202.46 L281.22 202.1 L281.73 201.73 L282.23 201.37 L282.73 201.01 L283.23 200.65 L283.74 200.29 L284.24 199.94 L284.74 199.59 L285.25 199.24 L285.75 198.89 L286.25 198.55 L286.75 198.2 L287.26 197.86 L287.76 197.52 L288.26 197.17 L288.77 196.83 L289.27 196.49 L289.77 196.15 L290.27 195.82 L290.78 195.48 L291.28 195.14 L291.78 194.81 L292.28 194.47 L292.79 194.14 L293.29 193.81 L293.79 193.48 L294.3 193.15 L294.8 192.82 L295.3 192.49 L295.8 192.17 L296.31 191.84 L296.81 191.52 L297.31 191.2 L297.81 190.88 L298.32 190.56 L298.82 190.24 L299.32 189.92 L299.83 189.61 L300.33 189.3 L300.83 188.98 L301.33 188.68 L301.84 188.37 L302.34 188.06 L302.84 187.76 L303.34 187.46 L303.85 187.16 L304.35 186.86 L304.85 186.56 L305.36 186.26 L305.86 185.96 L306.36 185.66 L306.86 185.37 L307.37 185.07 L307.87 184.77 L308.37 184.47 L308.87 184.17 L309.38 183.87 L309.88 183.57 L310.38 183.27 L310.89 182.97 L311.39 182.66 L311.89 182.35 L312.39 182.04 L312.9 181.73 L313.4 181.42 L313.9 181.11 L314.4 180.8 L314.91 180.49 L315.41 180.19 L315.91 179.88 L316.42 179.58 L316.92 179.27 L317.42 178.97 L317.92 178.68 L318.43 178.39 L318.93 178.1 L319.43 177.82 L319.93 177.54 L320.44 177.26 L320.94 176.99 L321.44 176.71 L321.95 176.44 L322.45 176.17 L322.95 175.9 L323.45 175.63 L323.96 175.36 L324.46 175.09 L324.96 174.83 L325.46 174.56 L325.97 174.3 L326.47 174.04 L326.97 173.78 L327.48 173.53 L327.98 173.27 L328.48 173.02 L328.98 172.77 L329.49 172.52 L329.99 172.28 L330.49 172.04 L330.99 171.8 L331.5 171.56 L332 171.33 L332.5 171.1 L333.01 170.87 L333.51 170.65 L334.01 170.43 L334.51 170.21 L335.02 169.99 L335.52 169.78 L336.02 169.57 L336.52 169.36 L337.03 169.15 L337.53 168.94 L338.03 168.73 L338.54 168.52 L339.04 168.31 L339.54 168.11 L340.04 167.91 L340.55 167.71 L341.05 167.51 L341.55 167.31 L342.05 167.12 L342.56 166.93 L343.06 166.74 L343.56 166.55 L344.07 166.37 L344.57 166.19 L345.07 166.01 L345.57 165.84 L346.08 165.67 L346.58 165.51 L347.08 165.35 L347.58 165.19 L348.09 165.04 L348.59 164.89 L349.09 164.75 L349.6 164.61 L350.1 164.47 L350.6 164.34 L351.1 164.21 L351.61 164.08 L352.11 163.96 L352.61 163.83 L353.11 163.71 L353.62 163.58 L354.12 163.46 L354.62 163.34 L355.13 163.22 L355.63 163.1 L356.13 162.99 L356.63 162.87 L357.14 162.76 L357.64 162.65 L358.14 162.54 L358.64 162.43 L359.15 162.32 L359.65 162.22 L360.15 162.12 L360.66 162.01 L361.16 161.91 L361.66 161.82 L362.16 161.72 L362.67 161.63 L363.17 161.54 L363.67 161.45 L364.17 161.36 L364.68 161.27 L365.18 161.19 L365.68 161.11 L366.19 161.03 L366.69 160.95 L367.19 160.88 L367.69 160.8 L368.2 160.73 L368.7 160.67 L369.2 160.6 L369.7 160.54 L370.21 160.47 L370.71 160.41 L371.21 160.35 L371.72 160.29 L372.22 160.24 L372.72 160.18 L373.22 160.12 L373.73 160.06 L374.23 160 L374.73 159.95 L375.23 159.89 L375.74 159.84 L376.24 159.78 L376.74 159.73 L377.25 159.67 L377.75 159.62 L378.25 159.57 L378.75 159.51 L379.26 159.46 L379.76 159.41 L380.26 159.36 L380.77 159.31 L381.27 159.26 L381.77 159.21 L382.27 159.17 L382.78 159.12 L383.28 159.07 L383.78 159.03 L384.28 158.98 L384.79 158.94 L385.29 158.89 L385.79 158.85 L386.3 158.81 L386.8 158.77 L387.3 158.73 L387.8 158.69 L388.31 158.65 L388.81 158.61 L389.31 158.57 L389.81 158.54 L390.32 158.5 L390.82 158.47 L391.32 158.43 L391.83 158.4 L392.33 158.37 L392.83 158.34 L393.33 158.31 L393.84 158.28 L394.34 158.25 L394.84 158.22 L395.34 158.2 L395.85 158.17 L396.35 158.15 L396.85 158.12 L397.36 158.1 L397.86 158.08 L398.36 158.06 L398.86 158.04 L399.37 158.02 L399.87 158 L400.37 157.99 L400.87 157.97 L401.38 157.96 L401.88 157.94 L402.38 157.92 L402.89 157.91 L403.39 157.89 L403.89 157.88 L404.39 157.86 L404.9 157.84 L405.4 157.83 L405.9 157.81 L406.4 157.8 L406.91 157.79 L407.41 157.77 L407.91 157.76 L408.42 157.74 L408.92 157.73 L409.42 157.72 L409.92 157.7 L410.43 157.69 L410.93 157.68 L411.43 157.67 L411.93 157.65 L412.44 157.64 L412.94 157.63 L413.44 157.62 L413.95 157.61 L414.45 157.6 L414.95 157.59 L415.45 157.58 L415.96 157.57 L416.46 157.56 L416.96 157.56 L417.46 157.55 L417.97 157.54 L418.47 157.54 L418.97 157.53 L419.48 157.52 L419.98 157.52 L420.48 157.51 L420.98 157.51 L421.49 157.51 L421.99 157.5 L422.49 157.5 L422.99 157.5 L423.5 157.5 L424 157.5" fill="none" stroke="#000" stroke-width="1.3"/></g><g clip-path="url(#ce)"><path d="M240 151.9 L240.5 155.26 L241.01 159.7 L241.51 165.1 L242.01 172.32 L242.51 181.51 L243.02 191.54 L243.52 201.28 L244.02 209.6 L244.52 216 L245.03 221.8 L245.53 226.68 L246.03 230.18 L246.54 232.69 L247.04 234.76 L247.54 236.39 L248.04 237.59 L248.55 238.55 L249.05 239.4 L249.55 240.13 L250.05 240.74 L250.56 241.21 L251.06 241.53 L251.56 241.79 L252.07 242.03 L252.57 242.22 L253.07 242.38 L253.57 242.47 L254.08 242.5 L254.58 242.47 L255.08 242.39 L255.58 242.29 L256.09 242.15 L256.59 241.99 L257.09 241.82 L257.6 241.64 L258.1 241.46 L258.6 241.26 L259.1 241.02 L259.61 240.75 L260.11 240.45 L260.61 240.13 L261.11 239.8 L261.62 239.45 L262.12 239.11 L262.62 238.76 L263.13 238.41 L263.63 238.07 L264.13 237.72 L264.63 237.36 L265.14 236.99 L265.64 236.61 L266.14 236.23 L266.64 235.84 L267.15 235.44 L267.65 235.03 L268.15 234.61 L268.66 234.19 L269.16 233.75 L269.66 233.31 L270.16 232.85 L270.67 232.38 L271.17 231.89 L271.67 231.38 L272.17 230.86 L272.68 230.33 L273.18 229.79 L273.68 229.23 L274.19 228.67 L274.69 228.1 L275.19 227.52 L275.69 226.94 L276.2 226.36 L276.7 225.77 L277.2 225.19 L277.7 224.6 L278.21 224.02 L278.71 223.45 L279.21 222.88 L279.72 222.31 L280.22 221.76 L280.72 221.2 L281.22 220.64 L281.73 220.07 L282.23 219.49 L282.73 218.92 L283.23 218.34 L283.74 217.77 L284.24 217.19 L284.74 216.62 L285.25 216.05 L285.75 215.48 L286.25 214.92 L286.75 214.36 L287.26 213.81 L287.76 213.27 L288.26 212.74 L288.77 212.22 L289.27 211.72 L289.77 211.22 L290.27 210.74 L290.78 210.27 L291.28 209.8 L291.78 209.34 L292.28 208.89 L292.79 208.44 L293.29 208 L293.79 207.57 L294.3 207.14 L294.8 206.72 L295.3 206.3 L295.8 205.88 L296.31 205.47 L296.81 205.06 L297.31 204.65 L297.81 204.25 L298.32 203.84 L298.82 203.44 L299.32 203.04 L299.83 202.64 L300.33 202.24 L300.83 201.84 L301.33 201.44 L301.84 201.03 L302.34 200.63 L302.84 200.23 L303.34 199.84 L303.85 199.44 L304.35 199.05 L304.85 198.66 L305.36 198.28 L305.86 197.9 L306.36 197.52 L306.86 197.15 L307.37 196.79 L307.87 196.43 L308.37 196.08 L308.87 195.74 L309.38 195.4 L309.88 195.08 L310.38 194.76 L310.89 194.45 L311.39 194.15 L311.89 193.86 L312.39 193.57 L312.9 193.29 L313.4 193.01 L313.9 192.74 L314.4 192.47 L314.91 192.2 L315.41 191.94 L315.91 191.68 L316.42 191.41 L316.92 191.15 L317.42 190.89 L317.92 190.62 L318.43 190.36 L318.93 190.09 L319.43 189.81 L319.93 189.54 L320.44 189.26 L320.94 188.97 L321.44 188.69 L321.95 188.41 L322.45 188.12 L322.95 187.84 L323.45 187.55 L323.96 187.26 L324.46 186.98 L324.96 186.69 L325.46 186.4 L325.97 186.11 L326.47 185.83 L326.97 185.54 L327.48 185.25 L327.98 184.96 L328.48 184.67 L328.98 184.39 L329.49 184.1 L329.99 183.81 L330.49 183.53 L330.99 183.24 L331.5 182.96 L332 182.67 L332.5 182.39 L333.01 182.11 L333.51 181.83 L334.01 181.55 L334.51 181.27 L335.02 180.99 L335.52 180.71 L336.02 180.43 L336.52 180.15 L337.03 179.87 L337.53 179.58 L338.03 179.3 L338.54 179.01 L339.04 178.73 L339.54 178.44 L340.04 178.15 L340.55 177.87 L341.05 177.58 L341.55 177.3 L342.05 177.02 L342.56 176.74 L343.06 176.46 L343.56 176.18 L344.07 175.91 L344.57 175.64 L345.07 175.37 L345.57 175.11 L346.08 174.85 L346.58 174.6 L347.08 174.35 L347.58 174.1 L348.09 173.86 L348.59 173.63 L349.09 173.4 L349.6 173.17 L350.1 172.96 L350.6 172.74 L351.1 172.53 L351.61 172.32 L352.11 172.11 L352.61 171.9 L353.11 171.69 L353.62 171.48 L354.12 171.27 L354.62 171.07 L355.13 170.86 L355.63 170.66 L356.13 170.46 L356.63 170.26 L357.14 170.07 L357.64 169.87 L358.14 169.68 L358.64 169.49 L359.15 169.3 L359.65 169.12 L360.15 168.93 L360.66 168.75 L361.16 168.57 L361.66 168.4 L362.16 168.23 L362.67 168.06 L363.17 167.89 L363.67 167.73 L364.17 167.57 L364.68 167.42 L365.18 167.26 L365.68 167.12 L366.19 166.97 L366.69 166.83 L367.19 166.69 L367.69 166.56 L368.2 166.43 L368.7 166.3 L369.2 166.18 L369.7 166.07 L370.21 165.95 L370.71 165.84 L371.21 165.73 L371.72 165.63 L372.22 165.52 L372.72 165.41 L373.22 165.31 L373.73 165.2 L374.23 165.1 L374.73 165 L375.23 164.9 L375.74 164.8 L376.24 164.7 L376.74 164.6 L377.25 164.51 L377.75 164.41 L378.25 164.32 L378.75 164.22 L379.26 164.13 L379.76 164.04 L380.26 163.95 L380.77 163.86 L381.27 163.78 L381.77 163.69 L382.27 163.61 L382.78 163.52 L383.28 163.44 L383.78 163.36 L384.28 163.28 L384.79 163.2 L385.29 163.12 L385.79 163.04 L386.3 162.96 L386.8 162.89 L387.3 162.81 L387.8 162.74 L388.31 162.67 L388.81 162.6 L389.31 162.53 L389.81 162.46 L390.32 162.39 L390.82 162.33 L391.32 162.26 L391.83 162.2 L392.33 162.13 L392.83 162.07 L393.33 162.01 L393.84 161.95 L394.34 161.89 L394.84 161.83 L395.34 161.78 L395.85 161.72 L396.35 161.66 L396.85 161.61 L397.36 161.56 L397.86 161.51 L398.36 161.46 L398.86 161.41 L399.37 161.36 L399.87 161.31 L400.37 161.27 L400.87 161.22 L401.38 161.17 L401.88 161.13 L402.38 161.08 L402.89 161.04 L403.39 160.99 L403.89 160.95 L404.39 160.91 L404.9 160.86 L405.4 160.82 L405.9 160.78 L406.4 160.74 L406.91 160.69 L407.41 160.65 L407.91 160.61 L408.42 160.57 L408.92 160.53 L409.42 160.49 L409.92 160.46 L410.43 160.42 L410.93 160.38 L411.43 160.34 L411.93 160.31 L412.44 160.27 L412.94 160.24 L413.44 160.21 L413.95 160.17 L414.45 160.14 L414.95 160.11 L415.45 160.08 L415.96 160.05 L416.46 160.02 L416.96 159.99 L417.46 159.96 L417.97 159.94 L418.47 159.91 L418.97 159.89 L419.48 159.86 L419.98 159.84 L420.48 159.82 L420.98 159.8 L421.49 159.78 L421.99 159.76 L422.49 159.75 L422.99 159.73 L423.5 159.71 L424 159.7" fill="none" stroke="#000" stroke-width="1.3"/></g><g clip-path="url(#cf)"><path d="M445.8 175.7 L446.3 176.16 L446.81 176.62 L447.31 177.08 L447.81 177.54 L448.31 178.01 L448.82 178.48 L449.32 178.95 L449.82 179.42 L450.33 179.9 L450.83 180.38 L451.33 180.86 L451.84 181.34 L452.34 181.83 L452.84 182.3 L453.34 182.78 L453.85 183.25 L454.35 183.72 L454.85 184.19 L455.36 184.67 L455.86 185.14 L456.36 185.63 L456.87 186.11 L457.37 186.61 L457.87 187.11 L458.37 187.63 L458.88 188.16 L459.38 188.7 L459.88 189.26 L460.39 189.83 L460.89 190.43 L461.39 191.05 L461.89 191.71 L462.4 192.4 L462.9 193.12 L463.4 193.86 L463.91 194.61 L464.41 195.38 L464.91 196.16 L465.42 196.95 L465.92 197.73 L466.42 198.52 L466.92 199.3 L467.43 200.07 L467.93 200.82 L468.43 201.56 L468.94 202.28 L469.44 202.97 L469.94 203.63 L470.44 204.27 L470.95 204.91 L471.45 205.54 L471.95 206.18 L472.46 206.81 L472.96 207.44 L473.46 208.06 L473.97 208.67 L474.47 209.28 L474.97 209.87 L475.47 210.45 L475.98 211.02 L476.48 211.58 L476.98 212.12 L477.49 212.65 L477.99 213.16 L478.49 213.65 L479 214.12 L479.5 214.57 L480 215 L480.5 215.41 L481.01 215.82 L481.51 216.22 L482.01 216.6 L482.52 216.98 L483.02 217.35 L483.52 217.71 L484.02 218.06 L484.53 218.4 L485.03 218.73 L485.53 219.05 L486.04 219.36 L486.54 219.66 L487.04 219.95 L487.55 220.22 L488.05 220.49 L488.55 220.74 L489.05 220.98 L489.56 221.22 L490.06 221.47 L490.56 221.72 L491.07 221.97 L491.57 222.21 L492.07 222.43 L492.57 222.62 L493.08 222.78 L493.58 222.91 L494.08 222.98 L494.59 223 L495.09 222.98 L495.59 222.94 L496.1 222.88 L496.6 222.79 L497.1 222.68 L497.6 222.56 L498.11 222.41 L498.61 222.25 L499.11 222.08 L499.62 221.89 L500.12 221.68 L500.62 221.47 L501.13 221.24 L501.63 220.92 L502.13 220.49 L502.63 219.95 L503.14 219.33 L503.64 218.64 L504.14 217.89 L504.65 217.09 L505.15 216.24 L505.65 215.17 L506.15 213.9 L506.66 212.49 L507.16 211.03 L507.66 209.6 L508.17 208.27 L508.67 207.04 L509.17 205.84 L509.68 204.62 L510.18 203.34 L510.68 201.96 L511.18 200.41 L511.69 198.61 L512.19 196.62 L512.69 194.5 L513.2 192.32 L513.7 190.14 L514.2 188.05 L514.7 186.11 L515.21 184.2 L515.71 182.29 L516.21 180.41 L516.72 178.59 L517.22 176.84 L517.72 175.21 L518.23 173.71 L518.73 172.32 L519.23 170.97 L519.73 169.68 L520.24 168.47 L520.74 167.34 L521.24 166.31 L521.75 165.41 L522.25 164.62 L522.75 163.87 L523.26 163.16 L523.76 162.53 L524.26 162.01 L524.76 161.62 L525.27 161.38 L525.77 161.18 L526.27 161 L526.78 160.88 L527.28 160.81 L527.78 160.81 L528.28 160.89 L528.79 161.03 L529.29 161.22 L529.79 161.43 L530.3 161.67 L530.8 161.91 L531.3 162.15 L531.81 162.43 L532.31 162.76 L532.81 163.12 L533.31 163.51 L533.82 163.91 L534.32 164.33 L534.82 164.75 L535.33 165.16 L535.83 165.57 L536.33 165.95 L536.83 166.32 L537.34 166.7 L537.84 167.09 L538.34 167.48 L538.85 167.87 L539.35 168.26 L539.85 168.64 L540.36 169.01 L540.86 169.37 L541.36 169.71 L541.86 170.03 L542.37 170.32 L542.87 170.59 L543.37 170.85 L543.88 171.1 L544.38 171.35 L544.88 171.6 L545.39 171.83 L545.89 172.07 L546.39 172.29 L546.89 172.5 L547.4 172.71 L547.9 172.9 L548.4 173.08 L548.91 173.25 L549.41 173.41 L549.91 173.55 L550.41 173.67 L550.92 173.78 L551.42 173.88 L551.92 173.98 L552.43 174.07 L552.93 174.16 L553.43 174.25 L553.94 174.33 L554.44 174.41 L554.94 174.49 L555.44 174.57 L555.95 174.65 L556.45 174.72 L556.95 174.79 L557.46 174.86 L557.96 174.92 L558.46 174.98 L558.97 175.04 L559.47 175.09 L559.97 175.15 L560.47 175.2 L560.98 175.24 L561.48 175.29 L561.98 175.33 L562.49 175.36 L562.99 175.4 L563.49 175.43 L563.99 175.45 L564.5 175.48 L565 175.5 L565.5 175.52 L566.01 175.54 L566.51 175.56 L567.01 175.57 L567.52 175.59 L568.02 175.61 L568.52 175.63 L569.02 175.64 L569.53 175.66 L570.03 175.67 L570.53 175.69 L571.04 175.71 L571.54 175.72 L572.04 175.73 L572.54 175.75 L573.05 175.76 L573.55 175.78 L574.05 175.79 L574.56 175.8 L575.06 175.82 L575.56 175.83 L576.07 175.84 L576.57 175.85 L577.07 175.86 L577.57 175.88 L578.08 175.89 L578.58 175.9 L579.08 175.91 L579.59 175.92 L580.09 175.93 L580.59 175.94 L581.1 175.95 L581.6 175.96 L582.1 175.97 L582.6 175.98 L583.11 175.99 L583.61 176 L584.11 176 L584.62 176.01 L585.12 176.02 L585.62 176.03 L586.12 176.04 L586.63 176.04 L587.13 176.05 L587.63 176.06 L588.14 176.07 L588.64 176.07 L589.14 176.08 L589.65 176.09 L590.15 176.09 L590.65 176.1 L591.15 176.11 L591.66 176.11 L592.16 176.12 L592.66 176.12 L593.17 176.13 L593.67 176.13 L594.17 176.14 L594.67 176.15 L595.18 176.15 L595.68 176.16 L596.18 176.16 L596.69 176.17 L597.19 176.17 L597.69 176.18 L598.2 176.18 L598.7 176.19 L599.2 176.19 L599.7 176.2 L600.21 176.2 L600.71 176.21 L601.21 176.21 L601.72 176.22 L602.22 176.22 L602.72 176.23 L603.23 176.23 L603.73 176.24 L604.23 176.24 L604.73 176.24 L605.24 176.25 L605.74 176.25 L606.24 176.26 L606.75 176.26 L607.25 176.27 L607.75 176.27 L608.25 176.28 L608.76 176.28 L609.26 176.29 L609.76 176.29 L610.27 176.29 L610.77 176.3 L611.27 176.3 L611.78 176.31 L612.28 176.31 L612.78 176.32 L613.28 176.32 L613.79 176.32 L614.29 176.33 L614.79 176.33 L615.3 176.34 L615.8 176.34 L616.3 176.35 L616.8 176.35 L617.31 176.35 L617.81 176.36 L618.31 176.36 L618.82 176.37 L619.32 176.37 L619.82 176.37 L620.33 176.38 L620.83 176.38 L621.33 176.38 L621.83 176.39 L622.34 176.39 L622.84 176.39 L623.34 176.4 L623.85 176.4 L624.35 176.41 L624.85 176.41 L625.36 176.41 L625.86 176.42 L626.36 176.42 L626.86 176.42 L627.37 176.42 L627.87 176.43 L628.37 176.43 L628.88 176.43 L629.38 176.44 L629.88 176.44 L630.38 176.44 L630.89 176.45 L631.39 176.45 L631.89 176.45 L632.4 176.45 L632.9 176.46 L633.4 176.46 L633.91 176.46 L634.41 176.46 L634.91 176.46 L635.41 176.47 L635.92 176.47 L636.42 176.47 L636.92 176.47 L637.43 176.48 L637.93 176.48 L638.43 176.48 L638.93 176.48 L639.44 176.48 L639.94 176.48 L640.44 176.49 L640.95 176.49 L641.45 176.49 L641.95 176.49 L642.46 176.49 L642.96 176.49 L643.46 176.49 L643.96 176.49 L644.47 176.49 L644.97 176.5 L645.47 176.5 L645.98 176.5 L646.48 176.5 L646.98 176.5 L647.49 176.5 L647.99 176.5 L648.49 176.5 L648.99 176.5 L649.5 176.5 L650 176.5" fill="none" stroke="#000" stroke-width="1.3"/></g><g clip-path="url(#cf)"><path d="M445.8 175.7 L446.3 176.2 L446.81 176.71 L447.31 177.23 L447.81 177.76 L448.31 178.3 L448.82 178.84 L449.32 179.4 L449.82 179.96 L450.33 180.53 L450.83 181.11 L451.33 181.7 L451.84 182.3 L452.34 182.91 L452.84 183.52 L453.34 184.14 L453.85 184.76 L454.35 185.39 L454.85 186.03 L455.36 186.67 L455.86 187.33 L456.36 187.99 L456.87 188.67 L457.37 189.36 L457.87 190.06 L458.37 190.78 L458.88 191.51 L459.38 192.26 L459.88 193.02 L460.39 193.8 L460.89 194.6 L461.39 195.45 L461.89 196.34 L462.4 197.28 L462.9 198.24 L463.4 199.24 L463.91 200.26 L464.41 201.29 L464.91 202.34 L465.42 203.4 L465.92 204.46 L466.42 205.51 L466.92 206.55 L467.43 207.58 L467.93 208.59 L468.43 209.57 L468.94 210.52 L469.44 211.43 L469.94 212.3 L470.44 213.15 L470.95 213.99 L471.45 214.83 L471.95 215.68 L472.46 216.52 L472.96 217.35 L473.46 218.17 L473.97 218.98 L474.47 219.78 L474.97 220.57 L475.47 221.33 L475.98 222.07 L476.48 222.79 L476.98 223.49 L477.49 224.16 L477.99 224.79 L478.49 225.4 L479 225.97 L479.5 226.51 L480 227 L480.5 227.47 L481.01 227.91 L481.51 228.34 L482.01 228.75 L482.52 229.15 L483.02 229.53 L483.52 229.9 L484.02 230.26 L484.53 230.6 L485.03 230.94 L485.53 231.26 L486.04 231.58 L486.54 231.89 L487.04 232.19 L487.55 232.49 L488.05 232.79 L488.55 233.08 L489.05 233.37 L489.56 233.68 L490.06 234 L490.56 234.33 L491.07 234.67 L491.57 235 L492.07 235.31 L492.57 235.6 L493.08 235.85 L493.58 236.05 L494.08 236.2 L494.59 236.28 L495.09 236.3 L495.59 236.28 L496.1 236.23 L496.6 236.16 L497.1 236.07 L497.6 235.96 L498.11 235.83 L498.61 235.68 L499.11 235.52 L499.62 235.34 L500.12 235.15 L500.62 234.96 L501.13 234.74 L501.63 234.46 L502.13 234.1 L502.63 233.64 L503.14 233.11 L503.64 232.5 L504.14 231.81 L504.65 231.07 L505.15 230.24 L505.65 229.16 L506.15 227.78 L506.66 226.18 L507.16 224.38 L507.66 222.45 L508.17 220.39 L508.67 217.88 L509.17 214.97 L509.68 211.84 L510.18 208.69 L510.68 205.71 L511.18 203.07 L511.69 200.59 L512.19 198.2 L512.69 195.88 L513.2 193.62 L513.7 191.4 L514.2 189.22 L514.7 187.05 L515.21 184.87 L515.71 182.69 L516.21 180.55 L516.72 178.45 L517.22 176.44 L517.72 174.53 L518.23 172.75 L518.73 171.07 L519.23 169.39 L519.73 167.77 L520.24 166.23 L520.74 164.81 L521.24 163.54 L521.75 162.46 L522.25 161.57 L522.75 160.71 L523.26 159.88 L523.76 159.1 L524.26 158.41 L524.76 157.84 L525.27 157.44 L525.77 157.22 L526.27 157.21 L526.78 157.25 L527.28 157.34 L527.78 157.45 L528.28 157.58 L528.79 157.73 L529.29 157.91 L529.79 158.17 L530.3 158.51 L530.8 158.91 L531.3 159.36 L531.81 159.84 L532.31 160.33 L532.81 160.82 L533.31 161.31 L533.82 161.85 L534.32 162.43 L534.82 163.04 L535.33 163.64 L535.83 164.21 L536.33 164.73 L536.83 165.22 L537.34 165.69 L537.84 166.15 L538.34 166.6 L538.85 167.04 L539.35 167.47 L539.85 167.89 L540.36 168.29 L540.86 168.68 L541.36 169.06 L541.86 169.43 L542.37 169.78 L542.87 170.11 L543.37 170.45 L543.88 170.78 L544.38 171.12 L544.88 171.45 L545.39 171.78 L545.89 172.1 L546.39 172.41 L546.89 172.71 L547.4 173 L547.9 173.28 L548.4 173.53 L548.91 173.77 L549.41 173.98 L549.91 174.17 L550.41 174.34 L550.92 174.48 L551.42 174.6 L551.92 174.71 L552.43 174.83 L552.93 174.93 L553.43 175.04 L553.94 175.14 L554.44 175.24 L554.94 175.34 L555.44 175.43 L555.95 175.52 L556.45 175.6 L556.95 175.68 L557.46 175.76 L557.96 175.83 L558.46 175.9 L558.97 175.97 L559.47 176.04 L559.97 176.1 L560.47 176.15 L560.98 176.21 L561.48 176.26 L561.98 176.3 L562.49 176.34 L562.99 176.38 L563.49 176.42 L563.99 176.45 L564.5 176.48 L565 176.5 L565.5 176.52 L566.01 176.54 L566.51 176.56 L567.01 176.59 L567.52 176.61 L568.02 176.63 L568.52 176.65 L569.02 176.66 L569.53 176.68 L570.03 176.7 L570.53 176.72 L571.04 176.74 L571.54 176.76 L572.04 176.77 L572.54 176.79 L573.05 176.81 L573.55 176.82 L574.05 176.84 L574.56 176.85 L575.06 176.87 L575.56 176.89 L576.07 176.9 L576.57 176.91 L577.07 176.93 L577.57 176.94 L578.08 176.96 L578.58 176.97 L579.08 176.98 L579.59 176.99 L580.09 177.01 L580.59 177.02 L581.1 177.03 L581.6 177.04 L582.1 177.05 L582.6 177.06 L583.11 177.07 L583.61 177.08 L584.11 177.09 L584.62 177.1 L585.12 177.11 L585.62 177.12 L586.12 177.13 L586.63 177.14 L587.13 177.15 L587.63 177.16 L588.14 177.17 L588.64 177.17 L589.14 177.18 L589.65 177.19 L590.15 177.2 L590.65 177.2 L591.15 177.21 L591.66 177.22 L592.16 177.22 L592.66 177.23 L593.17 177.24 L593.67 177.24 L594.17 177.25 L594.67 177.25 L595.18 177.26 L595.68 177.26 L596.18 177.27 L596.69 177.27 L597.19 177.28 L597.69 177.28 L598.2 177.29 L598.7 177.29 L599.2 177.29 L599.7 177.3 L600.21 177.3 L600.71 177.31 L601.21 177.31 L601.72 177.31 L602.22 177.32 L602.72 177.32 L603.23 177.32 L603.73 177.33 L604.23 177.33 L604.73 177.33 L605.24 177.34 L605.74 177.34 L606.24 177.34 L606.75 177.35 L607.25 177.35 L607.75 177.35 L608.25 177.36 L608.76 177.36 L609.26 177.36 L609.76 177.36 L610.27 177.37 L610.77 177.37 L611.27 177.37 L611.78 177.38 L612.28 177.38 L612.78 177.38 L613.28 177.39 L613.79 177.39 L614.29 177.39 L614.79 177.39 L615.3 177.4 L615.8 177.4 L616.3 177.4 L616.8 177.41 L617.31 177.41 L617.81 177.41 L618.31 177.41 L618.82 177.42 L619.32 177.42 L619.82 177.42 L620.33 177.42 L620.83 177.43 L621.33 177.43 L621.83 177.43 L622.34 177.43 L622.84 177.43 L623.34 177.44 L623.85 177.44 L624.35 177.44 L624.85 177.44 L625.36 177.45 L625.86 177.45 L626.36 177.45 L626.86 177.45 L627.37 177.45 L627.87 177.46 L628.37 177.46 L628.88 177.46 L629.38 177.46 L629.88 177.46 L630.38 177.47 L630.89 177.47 L631.39 177.47 L631.89 177.47 L632.4 177.47 L632.9 177.47 L633.4 177.47 L633.91 177.48 L634.41 177.48 L634.91 177.48 L635.41 177.48 L635.92 177.48 L636.42 177.48 L636.92 177.48 L637.43 177.49 L637.93 177.49 L638.43 177.49 L638.93 177.49 L639.44 177.49 L639.94 177.49 L640.44 177.49 L640.95 177.49 L641.45 177.49 L641.95 177.49 L642.46 177.49 L642.96 177.5 L643.46 177.5 L643.96 177.5 L644.47 177.5 L644.97 177.5 L645.47 177.5 L645.98 177.5 L646.48 177.5 L646.98 177.5 L647.49 177.5 L647.99 177.5 L648.49 177.5 L648.99 177.5 L649.5 177.5 L650 177.5" fill="none" stroke="#000" stroke-width="1.3"/></g><g clip-path="url(#cf)"><path d="M445.8 175.7 L446.3 176.27 L446.81 176.86 L447.31 177.45 L447.81 178.06 L448.31 178.67 L448.82 179.3 L449.32 179.94 L449.82 180.58 L450.33 181.24 L450.83 181.91 L451.33 182.58 L451.84 183.27 L452.34 183.97 L452.84 184.68 L453.34 185.4 L453.85 186.13 L454.35 186.87 L454.85 187.62 L455.36 188.37 L455.86 189.14 L456.36 189.92 L456.87 190.72 L457.37 191.52 L457.87 192.33 L458.37 193.15 L458.88 193.99 L459.38 194.83 L459.88 195.69 L460.39 196.55 L460.89 197.43 L461.39 198.35 L461.89 199.31 L462.4 200.3 L462.9 201.33 L463.4 202.37 L463.91 203.44 L464.41 204.51 L464.91 205.59 L465.42 206.67 L465.92 207.75 L466.42 208.82 L466.92 209.87 L467.43 210.89 L467.93 211.89 L468.43 212.86 L468.94 213.79 L469.44 214.67 L469.94 215.51 L470.44 216.3 L470.95 217.06 L471.45 217.81 L471.95 218.53 L472.46 219.24 L472.96 219.93 L473.46 220.6 L473.97 221.26 L474.47 221.91 L474.97 222.55 L475.47 223.19 L475.98 223.81 L476.48 224.43 L476.98 225.05 L477.49 225.67 L477.99 226.29 L478.49 226.91 L479 227.53 L479.5 228.16 L480 228.8 L480.5 229.46 L481.01 230.14 L481.51 230.85 L482.01 231.57 L482.52 232.3 L483.02 233.04 L483.52 233.77 L484.02 234.49 L484.53 235.2 L485.03 235.9 L485.53 236.56 L486.04 237.2 L486.54 237.8 L487.04 238.36 L487.55 238.88 L488.05 239.34 L488.55 239.74 L489.05 240.07 L489.56 240.37 L490.06 240.67 L490.56 240.95 L491.07 241.23 L491.57 241.49 L492.07 241.72 L492.57 241.92 L493.08 242.08 L493.58 242.21 L494.08 242.28 L494.59 242.3 L495.09 242.3 L495.59 242.3 L496.1 242.3 L496.6 242.3 L497.1 242.3 L497.6 242.3 L498.11 242.3 L498.61 242.3 L499.11 242.26 L499.62 242.11 L500.12 241.85 L500.62 241.51 L501.13 241.08 L501.63 240.59 L502.13 240.04 L502.63 239.43 L503.14 238.79 L503.64 238.13 L504.14 237.45 L504.65 236.75 L505.15 235.96 L505.65 235.03 L506.15 233.97 L506.66 232.74 L507.16 231.35 L507.66 229.77 L508.17 227.92 L508.67 225.08 L509.17 221.37 L509.68 217.19 L510.18 212.95 L510.68 209.08 L511.18 205.92 L511.69 203.12 L512.19 200.5 L512.69 198 L513.2 195.6 L513.7 193.24 L514.2 190.89 L514.7 188.5 L515.21 186.06 L515.71 183.61 L516.21 181.17 L516.72 178.79 L517.22 176.49 L517.72 174.31 L518.23 172.28 L518.73 170.39 L519.23 168.54 L519.73 166.76 L520.24 165.06 L520.74 163.46 L521.24 161.98 L521.75 160.63 L522.25 159.39 L522.75 158.09 L523.26 156.8 L523.76 155.6 L524.26 154.59 L524.76 153.87 L525.27 153.52 L525.77 153.52 L526.27 153.6 L526.78 153.73 L527.28 153.91 L527.78 154.11 L528.28 154.36 L528.79 154.77 L529.29 155.32 L529.79 155.96 L530.3 156.62 L530.8 157.26 L531.3 157.85 L531.81 158.45 L532.31 159.06 L532.81 159.69 L533.31 160.32 L533.82 160.95 L534.32 161.58 L534.82 162.19 L535.33 162.79 L535.83 163.37 L536.33 163.93 L536.83 164.46 L537.34 165 L537.84 165.52 L538.34 166.04 L538.85 166.55 L539.35 167.06 L539.85 167.55 L540.36 168.02 L540.86 168.48 L541.36 168.92 L541.86 169.35 L542.37 169.75 L542.87 170.13 L543.37 170.5 L543.88 170.88 L544.38 171.25 L544.88 171.62 L545.39 171.99 L545.89 172.34 L546.39 172.69 L546.89 173.02 L547.4 173.34 L547.9 173.64 L548.4 173.92 L548.91 174.18 L549.41 174.42 L549.91 174.63 L550.41 174.82 L550.92 174.98 L551.42 175.11 L551.92 175.24 L552.43 175.37 L552.93 175.5 L553.43 175.62 L553.94 175.73 L554.44 175.84 L554.94 175.95 L555.44 176.06 L555.95 176.16 L556.45 176.26 L556.95 176.35 L557.46 176.44 L557.96 176.52 L558.46 176.6 L558.97 176.68 L559.47 176.76 L559.97 176.83 L560.47 176.89 L560.98 176.95 L561.48 177.01 L561.98 177.06 L562.49 177.11 L562.99 177.16 L563.49 177.2 L563.99 177.24 L564.5 177.27 L565 177.3 L565.5 177.33 L566.01 177.35 L566.51 177.38 L567.01 177.41 L567.52 177.43 L568.02 177.46 L568.52 177.48 L569.02 177.5 L569.53 177.53 L570.03 177.55 L570.53 177.57 L571.04 177.6 L571.54 177.62 L572.04 177.64 L572.54 177.66 L573.05 177.68 L573.55 177.7 L574.05 177.72 L574.56 177.74 L575.06 177.76 L575.56 177.78 L576.07 177.8 L576.57 177.82 L577.07 177.84 L577.57 177.85 L578.08 177.87 L578.58 177.89 L579.08 177.9 L579.59 177.92 L580.09 177.93 L580.59 177.95 L581.1 177.96 L581.6 177.98 L582.1 177.99 L582.6 178.01 L583.11 178.02 L583.61 178.03 L584.11 178.05 L584.62 178.06 L585.12 178.07 L585.62 178.08 L586.12 178.1 L586.63 178.11 L587.13 178.12 L587.63 178.13 L588.14 178.14 L588.64 178.15 L589.14 178.16 L589.65 178.17 L590.15 178.18 L590.65 178.19 L591.15 178.19 L591.66 178.2 L592.16 178.21 L592.66 178.22 L593.17 178.23 L593.67 178.23 L594.17 178.24 L594.67 178.25 L595.18 178.25 L595.68 178.26 L596.18 178.26 L596.69 178.27 L597.19 178.28 L597.69 178.28 L598.2 178.29 L598.7 178.29 L599.2 178.29 L599.7 178.3 L600.21 178.3 L600.71 178.31 L601.21 178.31 L601.72 178.31 L602.22 178.32 L602.72 178.32 L603.23 178.32 L603.73 178.33 L604.23 178.33 L604.73 178.33 L605.24 178.34 L605.74 178.34 L606.24 178.34 L606.75 178.35 L607.25 178.35 L607.75 178.35 L608.25 178.36 L608.76 178.36 L609.26 178.36 L609.76 178.37 L610.27 178.37 L610.77 178.37 L611.27 178.38 L611.78 178.38 L612.28 178.38 L612.78 178.38 L613.28 178.39 L613.79 178.39 L614.29 178.39 L614.79 178.4 L615.3 178.4 L615.8 178.4 L616.3 178.4 L616.8 178.41 L617.31 178.41 L617.81 178.41 L618.31 178.41 L618.82 178.42 L619.32 178.42 L619.82 178.42 L620.33 178.42 L620.83 178.43 L621.33 178.43 L621.83 178.43 L622.34 178.43 L622.84 178.44 L623.34 178.44 L623.85 178.44 L624.35 178.44 L624.85 178.45 L625.36 178.45 L625.86 178.45 L626.36 178.45 L626.86 178.45 L627.37 178.46 L627.87 178.46 L628.37 178.46 L628.88 178.46 L629.38 178.46 L629.88 178.46 L630.38 178.47 L630.89 178.47 L631.39 178.47 L631.89 178.47 L632.4 178.47 L632.9 178.47 L633.4 178.48 L633.91 178.48 L634.41 178.48 L634.91 178.48 L635.41 178.48 L635.92 178.48 L636.42 178.48 L636.92 178.48 L637.43 178.49 L637.93 178.49 L638.43 178.49 L638.93 178.49 L639.44 178.49 L639.94 178.49 L640.44 178.49 L640.95 178.49 L641.45 178.49 L641.95 178.49 L642.46 178.49 L642.96 178.5 L643.46 178.5 L643.96 178.5 L644.47 178.5 L644.97 178.5 L645.47 178.5 L645.98 178.5 L646.48 178.5 L646.98 178.5 L647.49 178.5 L647.99 178.5 L648.49 178.5 L648.99 178.5 L649.5 178.5 L650 178.5" fill="none" stroke="#000" stroke-width="1.3"/></g><line x1="33" y1="31.9" x2="33" y2="36.9" stroke="#000" stroke-width="1.15"/><line x1="88.7" y1="31.9" x2="88.7" y2="36.9" stroke="#000" stroke-width="1.15"/><line x1="144.4" y1="31.9" x2="144.4" y2="36.9" stroke="#000" stroke-width="1.15"/><line x1="200.1" y1="31.9" x2="200.1" y2="36.9" stroke="#000" stroke-width="1.15"/><line x1="60.85" y1="31.9" x2="60.85" y2="34.7" stroke="#000" stroke-width="1.15"/><line x1="116.55" y1="31.9" x2="116.55" y2="34.7" stroke="#000" stroke-width="1.15"/><line x1="172.25" y1="31.9" x2="172.25" y2="34.7" stroke="#000" stroke-width="1.15"/><line x1="227.95" y1="31.9" x2="227.95" y2="34.7" stroke="#000" stroke-width="1.15"/><line x1="275.74" y1="31.9" x2="275.74" y2="36.9" stroke="#000" stroke-width="1.15"/><line x1="311.98" y1="31.9" x2="311.98" y2="36.9" stroke="#000" stroke-width="1.15"/><line x1="348.22" y1="31.9" x2="348.22" y2="36.9" stroke="#000" stroke-width="1.15"/><line x1="384.46" y1="31.9" x2="384.46" y2="36.9" stroke="#000" stroke-width="1.15"/><line x1="420.7" y1="31.9" x2="420.7" y2="36.9" stroke="#000" stroke-width="1.15"/><line x1="257.62" y1="31.9" x2="257.62" y2="34.7" stroke="#000" stroke-width="1.15"/><line x1="293.86" y1="31.9" x2="293.86" y2="34.7" stroke="#000" stroke-width="1.15"/><line x1="330.1" y1="31.9" x2="330.1" y2="34.7" stroke="#000" stroke-width="1.15"/><line x1="366.34" y1="31.9" x2="366.34" y2="34.7" stroke="#000" stroke-width="1.15"/><line x1="402.58" y1="31.9" x2="402.58" y2="34.7" stroke="#000" stroke-width="1.15"/><line x1="438.82" y1="31.9" x2="438.82" y2="34.7" stroke="#000" stroke-width="1.15"/><line x1="514.4" y1="31.9" x2="514.4" y2="36.9" stroke="#000" stroke-width="1.15"/><line x1="583.2" y1="31.9" x2="583.2" y2="36.9" stroke="#000" stroke-width="1.15"/><line x1="652" y1="31.9" x2="652" y2="36.9" stroke="#000" stroke-width="1.15"/><line x1="480" y1="31.9" x2="480" y2="34.7" stroke="#000" stroke-width="1.15"/><line x1="548.8" y1="31.9" x2="548.8" y2="34.7" stroke="#000" stroke-width="1.15"/><line x1="617.6" y1="31.9" x2="617.6" y2="34.7" stroke="#000" stroke-width="1.15"/><line x1="88.2" y1="255.3" x2="88.2" y2="250.3" stroke="#000" stroke-width="1.15"/><line x1="143.4" y1="255.3" x2="143.4" y2="250.3" stroke="#000" stroke-width="1.15"/><line x1="198.6" y1="255.3" x2="198.6" y2="250.3" stroke="#000" stroke-width="1.15"/><line x1="60.6" y1="255.3" x2="60.6" y2="252.5" stroke="#000" stroke-width="1.15"/><line x1="115.8" y1="255.3" x2="115.8" y2="252.5" stroke="#000" stroke-width="1.15"/><line x1="171" y1="255.3" x2="171" y2="252.5" stroke="#000" stroke-width="1.15"/><line x1="226.2" y1="255.3" x2="226.2" y2="252.5" stroke="#000" stroke-width="1.15"/><line x1="297.5" y1="255.3" x2="297.5" y2="250.3" stroke="#000" stroke-width="1.15"/><line x1="355.5" y1="255.3" x2="355.5" y2="250.3" stroke="#000" stroke-width="1.15"/><line x1="413.5" y1="255.3" x2="413.5" y2="250.3" stroke="#000" stroke-width="1.15"/><line x1="268.5" y1="255.3" x2="268.5" y2="252.5" stroke="#000" stroke-width="1.15"/><line x1="326.5" y1="255.3" x2="326.5" y2="252.5" stroke="#000" stroke-width="1.15"/><line x1="384.5" y1="255.3" x2="384.5" y2="252.5" stroke="#000" stroke-width="1.15"/><line x1="442.5" y1="255.3" x2="442.5" y2="252.5" stroke="#000" stroke-width="1.15"/><line x1="512.05" y1="255.3" x2="512.05" y2="250.3" stroke="#000" stroke-width="1.15"/><line x1="578.5" y1="255.3" x2="578.5" y2="250.3" stroke="#000" stroke-width="1.15"/><line x1="644.95" y1="255.3" x2="644.95" y2="250.3" stroke="#000" stroke-width="1.15"/><line x1="478.83" y1="255.3" x2="478.83" y2="252.5" stroke="#000" stroke-width="1.15"/><line x1="545.28" y1="255.3" x2="545.28" y2="252.5" stroke="#000" stroke-width="1.15"/><line x1="611.73" y1="255.3" x2="611.73" y2="252.5" stroke="#000" stroke-width="1.15"/><line x1="33" y1="45.4" x2="38" y2="45.4" stroke="#000" stroke-width="1.15"/><line x1="234.5" y1="45.4" x2="244.5" y2="45.4" stroke="#000" stroke-width="1.15"/><line x1="33" y1="74.3" x2="38" y2="74.3" stroke="#000" stroke-width="1.15"/><line x1="234.5" y1="74.3" x2="244.5" y2="74.3" stroke="#000" stroke-width="1.15"/><line x1="33" y1="103.2" x2="38" y2="103.2" stroke="#000" stroke-width="1.15"/><line x1="234.5" y1="103.2" x2="244.5" y2="103.2" stroke="#000" stroke-width="1.15"/><line x1="33" y1="132.1" x2="38" y2="132.1" stroke="#000" stroke-width="1.15"/><line x1="234.5" y1="132.1" x2="244.5" y2="132.1" stroke="#000" stroke-width="1.15"/><line x1="33" y1="59.85" x2="35.8" y2="59.85" stroke="#000" stroke-width="1.15"/><line x1="236.7" y1="59.85" x2="242.3" y2="59.85" stroke="#000" stroke-width="1.15"/><line x1="33" y1="88.75" x2="35.8" y2="88.75" stroke="#000" stroke-width="1.15"/><line x1="236.7" y1="88.75" x2="242.3" y2="88.75" stroke="#000" stroke-width="1.15"/><line x1="33" y1="117.65" x2="35.8" y2="117.65" stroke="#000" stroke-width="1.15"/><line x1="236.7" y1="117.65" x2="242.3" y2="117.65" stroke="#000" stroke-width="1.15"/><line x1="647.3" y1="40.9" x2="652.3" y2="40.9" stroke="#000" stroke-width="1.15"/><line x1="647.3" y1="59.1" x2="652.3" y2="59.1" stroke="#000" stroke-width="1.15"/><line x1="647.3" y1="77.3" x2="652.3" y2="77.3" stroke="#000" stroke-width="1.15"/><line x1="647.3" y1="95.5" x2="652.3" y2="95.5" stroke="#000" stroke-width="1.15"/><line x1="647.3" y1="113.7" x2="652.3" y2="113.7" stroke="#000" stroke-width="1.15"/><line x1="647.3" y1="131.9" x2="652.3" y2="131.9" stroke="#000" stroke-width="1.15"/><line x1="649.5" y1="50" x2="652.3" y2="50" stroke="#000" stroke-width="1.15"/><line x1="649.5" y1="68.2" x2="652.3" y2="68.2" stroke="#000" stroke-width="1.15"/><line x1="649.5" y1="86.4" x2="652.3" y2="86.4" stroke="#000" stroke-width="1.15"/><line x1="649.5" y1="104.6" x2="652.3" y2="104.6" stroke="#000" stroke-width="1.15"/><line x1="649.5" y1="122.8" x2="652.3" y2="122.8" stroke="#000" stroke-width="1.15"/><line x1="33" y1="153.9" x2="38" y2="153.9" stroke="#000" stroke-width="1.15"/><line x1="33" y1="199" x2="38" y2="199" stroke="#000" stroke-width="1.15"/><line x1="33" y1="244.1" x2="38" y2="244.1" stroke="#000" stroke-width="1.15"/><line x1="33" y1="176.45" x2="35.8" y2="176.45" stroke="#000" stroke-width="1.15"/><line x1="33" y1="221.55" x2="35.8" y2="221.55" stroke="#000" stroke-width="1.15"/><line x1="440.1" y1="151.9" x2="445.6" y2="151.9" stroke="#000" stroke-width="1.15"/><line x1="440.1" y1="196.6" x2="445.6" y2="196.6" stroke="#000" stroke-width="1.15"/><line x1="440.1" y1="241.2" x2="445.6" y2="241.2" stroke="#000" stroke-width="1.15"/><line x1="442.6" y1="174.2" x2="445.6" y2="174.2" stroke="#000" stroke-width="1.15"/><line x1="442.6" y1="218.9" x2="445.6" y2="218.9" stroke="#000" stroke-width="1.15"/><line x1="647.3" y1="149.4" x2="652.3" y2="149.4" stroke="#000" stroke-width="1.15"/><line x1="647.3" y1="177.6" x2="652.3" y2="177.6" stroke="#000" stroke-width="1.15"/><line x1="647.3" y1="205.9" x2="652.3" y2="205.9" stroke="#000" stroke-width="1.15"/><line x1="647.3" y1="234.1" x2="652.3" y2="234.1" stroke="#000" stroke-width="1.15"/><line x1="649.5" y1="163.5" x2="652.3" y2="163.5" stroke="#000" stroke-width="1.15"/><line x1="649.5" y1="191.7" x2="652.3" y2="191.7" stroke="#000" stroke-width="1.15"/><line x1="649.5" y1="220" x2="652.3" y2="220" stroke="#000" stroke-width="1.15"/><line x1="649.5" y1="248.2" x2="652.3" y2="248.2" stroke="#000" stroke-width="1.15"/><g stroke="#111" stroke-width="1.4" fill="none" stroke-linecap="square"><rect x="33.0" y="31.9" width="619.3" height="223.4"/><line x1="33.0" y1="143.5" x2="652.3" y2="143.5"/><line x1="239.5" y1="31.9" x2="239.5" y2="255.3"/><line x1="445.6" y1="31.9" x2="445.6" y2="255.3"/></g><text x="138" y="8" font-size="9.8" text-anchor="middle" fill="#000" stroke="#000" stroke-width="0.2" >Time (ms)</text><text x="344.6" y="8" font-size="9.8" text-anchor="middle" fill="#000" stroke="#000" stroke-width="0.2" >Time (ms)</text><text x="550.3" y="8" font-size="9.8" text-anchor="middle" fill="#000" stroke="#000" stroke-width="0.2" >Time (ms)</text><text x="136.5" y="284.5" font-size="9.8" text-anchor="middle" fill="#000" stroke="#000" stroke-width="0.2" >Time (ms)</text><text x="343" y="284.5" font-size="9.8" text-anchor="middle" fill="#000" stroke="#000" stroke-width="0.2" >Time (ms)</text><text x="549.1" y="284.5" font-size="9.8" text-anchor="middle" fill="#000" stroke="#000" stroke-width="0.2" >Time (ms)</text><text x="33" y="24.2" font-size="8.4" text-anchor="middle" fill="#000" stroke="#000" stroke-width="0.2" >0</text><text x="88.7" y="24.2" font-size="8.4" text-anchor="middle" fill="#000" stroke="#000" stroke-width="0.2" >1</text><text x="144.4" y="24.2" font-size="8.4" text-anchor="middle" fill="#000" stroke="#000" stroke-width="0.2" >2</text><text x="200.1" y="24.2" font-size="8.4" text-anchor="middle" fill="#000" stroke="#000" stroke-width="0.2" >3</text><text x="239.5" y="24.2" font-size="8.4" text-anchor="middle" fill="#000" stroke="#000" stroke-width="0.2" >0</text><text x="275.74" y="24.2" font-size="8.4" text-anchor="middle" fill="#000" stroke="#000" stroke-width="0.2" >1</text><text x="311.98" y="24.2" font-size="8.4" text-anchor="middle" fill="#000" stroke="#000" stroke-width="0.2" >2</text><text x="348.22" y="24.2" font-size="8.4" text-anchor="middle" fill="#000" stroke="#000" stroke-width="0.2" >3</text><text x="384.46" y="24.2" font-size="8.4" text-anchor="middle" fill="#000" stroke="#000" stroke-width="0.2" >4</text><text x="420.7" y="24.2" font-size="8.4" text-anchor="middle" fill="#000" stroke="#000" stroke-width="0.2" >5</text><text x="445.6" y="24.2" font-size="8.4" text-anchor="middle" fill="#000" stroke="#000" stroke-width="0.2" >0</text><text x="514.4" y="24.2" font-size="8.4" text-anchor="middle" fill="#000" stroke="#000" stroke-width="0.2" >1</text><text x="583.2" y="24.2" font-size="8.4" text-anchor="middle" fill="#000" stroke="#000" stroke-width="0.2" >2</text><text x="652" y="24.2" font-size="8.4" text-anchor="middle" fill="#000" stroke="#000" stroke-width="0.2" >3</text><text x="33" y="267.6" font-size="8.4" text-anchor="middle" fill="#000" stroke="#000" stroke-width="0.2" >0.0</text><text x="88.2" y="267.6" font-size="8.4" text-anchor="middle" fill="#000" stroke="#000" stroke-width="0.2" >0.2</text><text x="143.4" y="267.6" font-size="8.4" text-anchor="middle" fill="#000" stroke="#000" stroke-width="0.2" >0.4</text><text x="198.6" y="267.6" font-size="8.4" text-anchor="middle" fill="#000" stroke="#000" stroke-width="0.2" >0.6</text><text x="240.5" y="267.6" font-size="8.4" text-anchor="middle" fill="#000" stroke="#000" stroke-width="0.2" >0</text><text x="298.5" y="267.6" font-size="8.4" text-anchor="middle" fill="#000" stroke="#000" stroke-width="0.2" >1</text><text x="356.5" y="267.6" font-size="8.4" text-anchor="middle" fill="#000" stroke="#000" stroke-width="0.2" >2</text><text x="414.5" y="267.6" font-size="8.4" text-anchor="middle" fill="#000" stroke="#000" stroke-width="0.2" >3</text><text x="445.6" y="267.6" font-size="8.4" text-anchor="middle" fill="#000" stroke="#000" stroke-width="0.2" >0.0</text><text x="512.05" y="267.6" font-size="8.4" text-anchor="middle" fill="#000" stroke="#000" stroke-width="0.2" >0.5</text><text x="578.5" y="267.6" font-size="8.4" text-anchor="middle" fill="#000" stroke="#000" stroke-width="0.2" >1.0</text><text x="644.95" y="267.6" font-size="8.4" text-anchor="middle" fill="#000" stroke="#000" stroke-width="0.2" >1.5</text><text x="27.4" y="48.4" font-size="8.4" text-anchor="end" fill="#000" stroke="#000" stroke-width="0.2" >1.0</text><text x="27.4" y="77.3" font-size="8.4" text-anchor="end" fill="#000" stroke="#000" stroke-width="0.2" >0.9</text><text x="27.4" y="106.2" font-size="8.4" text-anchor="end" fill="#000" stroke="#000" stroke-width="0.2" >0.8</text><text x="27.4" y="135.1" font-size="8.4" text-anchor="end" fill="#000" stroke="#000" stroke-width="0.2" >0.7</text><text x="27.4" y="156.9" font-size="8.4" text-anchor="end" fill="#000" stroke="#000" stroke-width="0.2" >1.0</text><text x="27.4" y="202" font-size="8.4" text-anchor="end" fill="#000" stroke="#000" stroke-width="0.2" >0.8</text><text x="27.4" y="247.1" font-size="8.4" text-anchor="end" fill="#000" stroke="#000" stroke-width="0.2" >0.6</text><text x="438.2" y="154.9" font-size="8.4" text-anchor="end" fill="#000" stroke="#000" stroke-width="0.2" >1.0</text><text x="438.2" y="199.6" font-size="8.4" text-anchor="end" fill="#000" stroke="#000" stroke-width="0.2" >0.9</text><text x="438.2" y="244.2" font-size="8.4" text-anchor="end" fill="#000" stroke="#000" stroke-width="0.2" >0.8</text><text x="657.6" y="43.9" font-size="8.4" text-anchor="start" fill="#000" stroke="#000" stroke-width="0.2" >1.0</text><text x="657.6" y="62.1" font-size="8.4" text-anchor="start" fill="#000" stroke="#000" stroke-width="0.2" >0.9</text><text x="657.6" y="80.3" font-size="8.4" text-anchor="start" fill="#000" stroke="#000" stroke-width="0.2" >0.8</text><text x="657.6" y="98.5" font-size="8.4" text-anchor="start" fill="#000" stroke="#000" stroke-width="0.2" >0.7</text><text x="657.6" y="116.7" font-size="8.4" text-anchor="start" fill="#000" stroke="#000" stroke-width="0.2" >0.6</text><text x="657.6" y="134.9" font-size="8.4" text-anchor="start" fill="#000" stroke="#000" stroke-width="0.2" >0.5</text><text x="657.6" y="152.4" font-size="8.4" text-anchor="start" fill="#000" stroke="#000" stroke-width="0.2" >1.2</text><text x="657.6" y="180.6" font-size="8.4" text-anchor="start" fill="#000" stroke="#000" stroke-width="0.2" >1.0</text><text x="657.6" y="208.9" font-size="8.4" text-anchor="start" fill="#000" stroke="#000" stroke-width="0.2" >0.8</text><text x="657.6" y="237.1" font-size="8.4" text-anchor="start" fill="#000" stroke="#000" stroke-width="0.2" >0.6</text><text transform="translate(7.9 93.3) rotate(-90)" x="0" y="0" font-size="10.2" text-anchor="middle" stroke="#000" stroke-width="0.2">S(t)/S(0)</text><text transform="translate(7.9 199.8) rotate(-90)" x="0" y="0" font-size="10.2" text-anchor="middle" stroke="#000" stroke-width="0.2">S(t)/S(0)</text><text transform="translate(683 92.9) rotate(-90)" x="0" y="0" font-size="10.2" text-anchor="middle" stroke="#000" stroke-width="0.2">S(t)/S(0)</text><text transform="translate(683 204.2) rotate(-90)" x="0" y="0" font-size="10.2" text-anchor="middle" stroke="#000" stroke-width="0.2">S(t)/S(0)</text><text x="225" y="47.4" font-size="11.0" text-anchor="middle" fill="#000" stroke="#000" stroke-width="0.2" >(a)</text><text x="431.8" y="47.6" font-size="11.0" text-anchor="middle" fill="#000" stroke="#000" stroke-width="0.2" >(b)</text><text x="635" y="47.4" font-size="11.0" text-anchor="middle" fill="#000" stroke="#000" stroke-width="0.2" >(c)</text><text x="225" y="244.1" font-size="11.0" text-anchor="middle" fill="#000" stroke="#000" stroke-width="0.2" >(d)</text><text x="405.6" y="244.3" font-size="11.0" text-anchor="middle" fill="#000" stroke="#000" stroke-width="0.2" >(e)</text><text x="635.2" y="244" font-size="11.0" text-anchor="middle" fill="#000" stroke="#000" stroke-width="0.2" >(f)</text><rect x="127.7" y="44.4" width="56.1" height="41.6" fill="#fff" stroke="#555" stroke-width="0.9"/><line x1="134.2" y1="49.6" x2="134.2" y2="78.3" stroke="#222" stroke-width="0.8"/><path d="M132.5 76.3 L135.9 76.3 L134.2 83.3 Z" fill="#111"/><text x="177.2" y="57" font-size="9.7" text-anchor="end" fill="#000" stroke="#000" stroke-width="0.2" >0.87 W</text><text x="177.2" y="68.5" font-size="9.7" text-anchor="end" fill="#000" stroke="#000" stroke-width="0.2" >1.74 W</text><text x="177.2" y="80" font-size="9.7" text-anchor="end" fill="#000" stroke="#000" stroke-width="0.2" >2.61 W</text><rect x="357.6" y="41.7" width="54.8" height="49.3" fill="#fff" stroke="#555" stroke-width="0.9"/><line x1="364.9" y1="48.6" x2="364.9" y2="82.3" stroke="#222" stroke-width="0.8"/><path d="M363.2 80.3 L366.6 80.3 L364.9 87.3 Z" fill="#111"/><text x="405.5" y="58.9" font-size="9.7" text-anchor="end" fill="#000" stroke="#000" stroke-width="0.2" >0.87 W</text><text x="405.5" y="70.8" font-size="9.7" text-anchor="end" fill="#000" stroke="#000" stroke-width="0.2" >1.30 W</text><text x="405.5" y="82.7" font-size="9.7" text-anchor="end" fill="#000" stroke="#000" stroke-width="0.2" >1.74 W</text><rect x="539.9" y="43.4" width="51.2" height="46.4" fill="#fff" stroke="#555" stroke-width="0.9"/><line x1="546.1" y1="48" x2="546.1" y2="81.2" stroke="#222" stroke-width="0.8"/><path d="M544.4 79.2 L547.8 79.2 L546.1 86.2 Z" fill="#111"/><text x="583.6" y="56.9" font-size="9.7" text-anchor="end" fill="#000" stroke="#000" stroke-width="0.2" >0.84 W</text><text x="583.6" y="68.9" font-size="9.7" text-anchor="end" fill="#000" stroke="#000" stroke-width="0.2" >1.67 W</text><text x="583.6" y="81" font-size="9.7" text-anchor="end" fill="#000" stroke="#000" stroke-width="0.2" >2.51 W</text><rect x="170.2" y="178.3" width="52.6" height="45.7" fill="#fff" stroke="#555" stroke-width="0.9"/><line x1="175.4" y1="182.5" x2="175.4" y2="215.4" stroke="#222" stroke-width="0.8"/><path d="M173.7 213.4 L177.1 213.4 L175.4 220.4 Z" fill="#111"/><text x="216.5" y="191.1" font-size="9.7" text-anchor="end" fill="#000" stroke="#000" stroke-width="0.2" >0.84 mJ</text><text x="216.5" y="203.2" font-size="9.7" text-anchor="end" fill="#000" stroke="#000" stroke-width="0.2" >1.19 mJ</text><text x="216.5" y="215.1" font-size="9.7" text-anchor="end" fill="#000" stroke="#000" stroke-width="0.2" >1.50 mJ</text><rect x="340.3" y="179.5" width="55.5" height="49.8" fill="#fff" stroke="#555" stroke-width="0.9"/><line x1="348.9" y1="187.8" x2="348.9" y2="222.8" stroke="#222" stroke-width="0.8"/><path d="M347.2 220.8 L350.6 220.8 L348.9 227.8 Z" fill="#111"/><text x="390" y="196.6" font-size="9.7" text-anchor="end" fill="#000" stroke="#000" stroke-width="0.2" >0.70 mJ</text><text x="390" y="208.7" font-size="9.7" text-anchor="end" fill="#000" stroke="#000" stroke-width="0.2" >1.27 mJ</text><text x="390" y="220.5" font-size="9.7" text-anchor="end" fill="#000" stroke="#000" stroke-width="0.2" >1.74 mJ</text><rect x="545" y="192.1" width="52.6" height="49.1" fill="#fff" stroke="#555" stroke-width="0.9"/><line x1="551.5" y1="196" x2="551.5" y2="229.7" stroke="#222" stroke-width="0.8"/><path d="M549.8 227.7 L553.2 227.7 L551.5 234.7 Z" fill="#111"/><text x="593.5" y="207.1" font-size="9.7" text-anchor="end" fill="#000" stroke="#000" stroke-width="0.2" >0.49 mJ</text><text x="593.5" y="220" font-size="9.7" text-anchor="end" fill="#000" stroke="#000" stroke-width="0.2" >0.66 mJ</text><text x="593.5" y="232.3" font-size="9.7" text-anchor="end" fill="#000" stroke="#000" stroke-width="0.2" >0.82 mJ</text><rect x="89.8" y="139" width="75" height="15" fill="#000"/><rect x="86.3" y="135.5" width="75" height="15" fill="#fff" stroke="#000" stroke-width="0.9"/><text x="124.3" y="147.1" font-size="9.8" text-anchor="middle" fill="#000" stroke="#000" stroke-width="0.2" >Ethyleneglycol</text><rect x="330.6" y="138" width="27.4" height="15.5" fill="#000"/><rect x="327.1" y="134.5" width="27.4" height="15.5" fill="#fff" stroke="#000" stroke-width="0.9"/><text x="341.1" y="146.1" font-size="9.8" text-anchor="middle" fill="#000" stroke="#000" stroke-width="0.2" >Nujol</text><rect x="536.8" y="139.2" width="41.1" height="15.5" fill="#000"/><rect x="533.3" y="135.7" width="41.1" height="15.5" fill="#fff" stroke="#000" stroke-width="0.9"/><text x="553.8" y="147.3" font-size="9.8" text-anchor="middle" fill="#000" stroke="#000" stroke-width="0.2" >Ethanol</text><path d="M56.6 50.6 L64 50.6 L64 44.9 L71.3 44.9" fill="none" stroke="#33d43a" stroke-width="1.3"/><text x="75" y="51.5" font-size="10.1" text-anchor="start" fill="#33d43a" stroke="#33d43a" stroke-width="0.2" >CW</text><path d="M268.1 50.9 L275.6 50.9 L275.6 45.5 L282.8 45.5" fill="none" stroke="#33d43a" stroke-width="1.3"/><text x="285.4" y="52.4" font-size="10.1" text-anchor="start" fill="#33d43a" stroke="#33d43a" stroke-width="0.2" >CW</text><path d="M473.6 51.2 L481 51.2 L481 45.9 L488.2 45.9" fill="none" stroke="#33d43a" stroke-width="1.3"/><text x="490" y="52.4" font-size="10.1" text-anchor="start" fill="#33d43a" stroke="#33d43a" stroke-width="0.2" >CW</text><path d="M56.6 163 L63.8 163 M60.3 163 L60.3 154.6" fill="none" stroke="#33d43a" stroke-width="1.2"/><text x="67.8" y="163.5" font-size="10.1" text-anchor="start" fill="#33d43a" stroke="#33d43a" stroke-width="0.2" >Pulsed</text><path d="M251.1 160.9 L258.1 160.9 M254.8 160.9 L254.8 152.7" fill="none" stroke="#33d43a" stroke-width="1.2"/><text x="262.8" y="161.2" font-size="10.1" text-anchor="start" fill="#33d43a" stroke="#33d43a" stroke-width="0.2" >Pulsed</text><path d="M457.4 161.5 L464 161.5 M460.7 161.5 L460.7 153.3" fill="none" stroke="#33d43a" stroke-width="1.2"/><text x="468.9" y="161.6" font-size="10.1" text-anchor="start" fill="#33d43a" stroke="#33d43a" stroke-width="0.2" >Pulsed</text></svg></body></html>
